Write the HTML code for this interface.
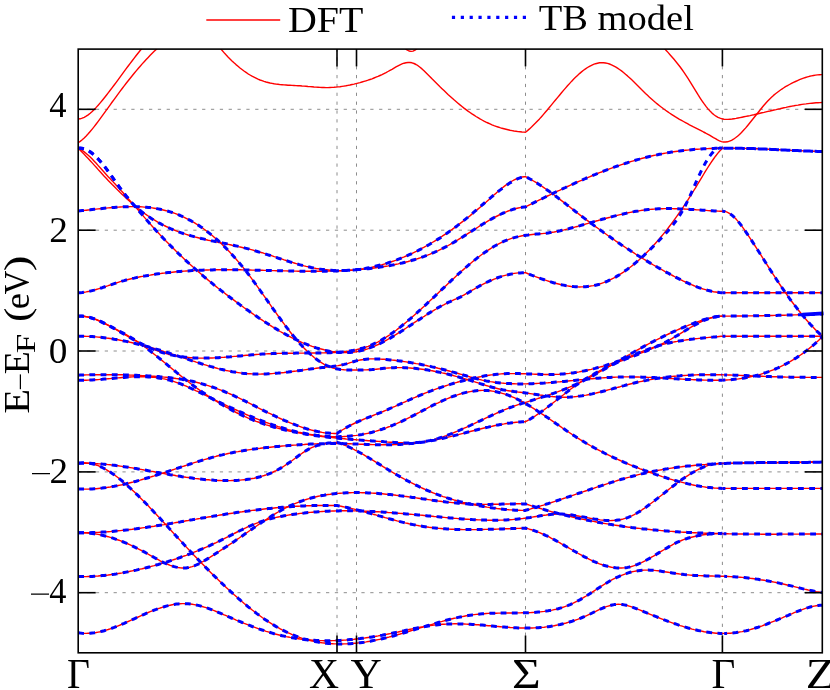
<!DOCTYPE html><html><head><meta charset="utf-8"><title>Band structure</title>
<style>html,body{margin:0;padding:0;background:#fff}svg{display:block;will-change:transform}text{font-family:"Liberation Serif",serif;fill:#000}</style></head><body>
<svg width="830" height="690" viewBox="0 0 830 690">
<rect width="830" height="690" fill="#fff"/>
<defs><clipPath id="cp"><rect x="76.6" y="49.1" width="747.5" height="603.7"/></clipPath>
</defs>
<g stroke="#808080" stroke-width="0.9" stroke-dasharray="3.25 5.6" fill="none">
<path d="M78.2 109.3 H822.3"/>
<path d="M78.2 230.2 H822.3"/>
<path d="M78.2 351.0 H822.3"/>
<path d="M78.2 471.9 H822.3"/>
<path d="M78.2 592.7 H822.3"/>
<path d="M337.0 652.8 V49.1" stroke-dashoffset="0.7"/>
<path d="M356.5 652.8 V49.1" stroke-dashoffset="0.7"/>
<path d="M525.5 652.8 V49.1" stroke-dashoffset="0.7"/>
<path d="M722.4 652.8 V49.1" stroke-dashoffset="0.7"/>
</g>
<g clip-path="url(#cp)" fill="none" stroke-linejoin="round">
<g stroke="#ff0000" stroke-width="1.4"><path d="M78.2 211 80.2 210.8 82.2 210.6 84.2 210.4 86.2 210.2 88.2 210 90.2 209.8 92.2 209.5 94.2 209.3 96.2 209.1 98.2 208.9 100.2 208.7 102.2 208.5 104.2 208.3 106.2 208.1 108.2 207.9 110.2 207.7 112.2 207.5 114.2 207.4 116.2 207.2 118.2 207.1 120.2 207 122.2 206.9 124.2 206.8 126.2 206.7 128.2 206.7 130.2 206.6 132.2 206.6 134.2 206.6 136.2 206.7 138.2 206.7 140.2 206.8 142.2 206.9 144.2 207.1 146.2 207.2 148.2 207.4 150.2 207.6 152.2 207.9 154.2 208.2 156.2 208.5 158.2 208.9 160.2 209.3 162.2 209.7 164.2 210.2 166.2 210.7 168.2 211.3 170.2 211.9 172.2 212.5 174.2 213.2 176.2 213.9 178.2 214.7 180.2 215.5 182.2 216.4 184.2 217.3 186.2 218.3 188.2 219.3 190.2 220.3 192.2 221.5 194.2 222.6 196.2 223.9 198.2 225.1 200.2 226.5 202.2 227.8 204.2 229.3 206.2 230.7 208.2 232.3 210.2 233.9 212.2 235.5 214.2 237.2 216.2 238.9 218.2 240.7 220.2 242.6 222.2 244.5 224.2 246.4 226.2 248.4 228.2 250.5 230.2 252.6 232.2 254.8 234.2 257 236.2 259.3 238.2 261.6 240.2 264 242.2 266.4 244.2 268.9 246.2 271.4 248.2 274 250.2 276.7 252.2 279.4 254.2 282.1 256.2 284.9 258.2 287.7 260.2 290.5 262.2 293.4 264.2 296.2 266.2 299 268.2 301.9 270.2 304.7 272.2 307.6 274.2 310.4 276.2 313.2 278.2 316 280.2 318.7 282.2 321.5 284.2 324.1 286.2 326.8 288.2 329.4 290.2 332 292.2 334.5 294.2 336.9 296.2 339.3 298.2 341.6 300.2 343.9 302.2 346.1 304.2 348.2 306.2 350.2 308.2 352.2 310.2 354 312.2 355.8 314.2 357.5 316.2 359.1 318.2 360.5 320.2 361.9 322.2 363.2 324.2 364.3 326.2 365.3 328.2 366.2 330.2 367 332.2 367.7 334.2 368.2 336.2 368.7 338.2 369.1 340.2 369.4 342.2 369.6 344.2 369.8 346.2 369.9 348.2 370 350.2 370 352.2 370 354.2 370 356.2 370 358.2 370 360.2 370 362.2 370 364.2 369.9 366.2 369.9 368.2 369.8 370.2 369.7 372.2 369.6 374.2 369.4 376.2 369.2 378.2 369 380.2 368.8 382.2 368.5 384.2 368.3 386.2 368.1 388.2 368 390.2 367.9 392.2 367.8 394.2 367.7 396.2 367.6 398.2 367.6 400.2 367.6 402.2 367.6 404.2 367.7 406.2 367.8 408.2 367.9 410.2 368 412.2 368.2 414.2 368.3 416.2 368.5 418.2 368.8 420.2 369 422.2 369.2 424.2 369.5 426.2 369.8 428.2 370.1 430.2 370.5 432.2 370.8 434.2 371.2 436.2 371.6 438.2 372 440.2 372.4 442.2 372.9 444.2 373.3 446.2 373.8 448.2 374.3 450.2 374.8 452.2 375.3 454.2 375.8 456.2 376.4 458.2 376.9 460.2 377.5 462.2 378 464.2 378.6 466.2 379.2 468.2 379.8 470.2 380.4 472.2 381 474.2 381.7 476.2 382.3 478.2 382.9 480.2 383.6 482.2 384.2 484.2 384.8 486.2 385.5 488.2 386.1 490.2 386.7 492.2 387.3 494.2 387.8 496.2 388.3 498.2 388.8 500.2 389.3 502.2 389.7 504.2 390.1 506.2 390.4 508.2 390.7 510.2 391 512.2 391.3 514.2 391.6 516.2 391.8 518.2 392.1 520.2 392.3 522.2 392.5 524.2 392.8 526.2 393.1 528.2 393.3 530.2 393.6 532.2 393.9 534.2 394.2 536.2 394.5 538.2 394.8 540.2 395.1 542.2 395.3 544.2 395.6 546.2 395.9 548.2 396.1 550.2 396.4 552.2 396.6 554.2 396.7 556.2 396.9 558.2 397 560.2 397.1 562.2 397.2 564.2 397.2 566.2 397.2 568.2 397.2 570.2 397.1 572.2 396.9 574.2 396.8 576.2 396.6 578.2 396.3 580.2 396.1 582.2 395.8 584.2 395.4 586.2 395.1 588.2 394.7 590.2 394.3 592.2 393.9 594.2 393.4 596.2 393 598.2 392.5 600.2 392 602.2 391.5 604.2 391 606.2 390.5 608.2 389.9 610.2 389.4 612.2 388.9 614.2 388.3 616.2 387.8 618.2 387.2 620.2 386.7 622.2 386.1 624.2 385.6 626.2 385 628.2 384.5 630.2 384 632.2 383.5 634.2 383 636.2 382.5 638.2 382 640.2 381.6 642.2 381.2 644.2 380.7 646.2 380.4 648.2 380 650.2 379.6 652.2 379.2 654.2 378.9 656.2 378.6 658.2 378.3 660.2 378 662.2 377.7 664.2 377.4 666.2 377.2 668.2 376.9 670.2 376.7 672.2 376.5 674.2 376.3 676.2 376.1 678.2 375.9 680.2 375.8 682.2 375.6 684.2 375.5 686.2 375.4 688.2 375.3 690.2 375.2 692.2 375.1 694.2 375 696.2 374.9 698.2 374.8 700.2 374.8 702.2 374.8 704.2 374.7 706.2 374.7 708.2 374.7 710.2 374.7 712.2 374.7 714.2 374.7 716.2 374.7 718.2 374.8 720.2 374.8 722.2 374.8 724.2 374.9 726.2 374.9 728.2 375 730.2 375 732.2 375.1 734.2 375.2 736.2 375.2 738.2 375.3 740.2 375.4 742.2 375.5 744.2 375.6 746.2 375.6 748.2 375.7 750.2 375.8 752.2 375.9 754.2 376 756.2 376.1 758.2 376.2 760.2 376.2 762.2 376.3 764.2 376.4 766.2 376.5 768.2 376.6 770.2 376.6 772.2 376.7 774.2 376.8 776.2 376.8 778.2 376.9 780.2 376.9 782.2 377 784.2 377 786.2 377.1 788.2 377.1 790.2 377.2 792.2 377.2 794.2 377.2 796.2 377.3 798.2 377.3 800.2 377.3 802.2 377.3 804.2 377.3 806.2 377.4 808.2 377.4 810.2 377.4 812.2 377.4 814.2 377.4 816.2 377.4 818.2 377.4 820.2 377.4 822.2 377.4 822.3 377.4"/><path d="M78.2 292.8 80.2 292.7 82.2 292.5 84.2 292.2 86.2 291.9 88.2 291.5 90.2 291.1 92.2 290.6 94.2 290.1 96.2 289.5 98.2 288.9 100.2 288.3 102.2 287.7 104.2 287 106.2 286.3 108.2 285.7 110.2 285 112.2 284.3 114.2 283.6 116.2 283 118.2 282.3 120.2 281.7 122.2 281.1 124.2 280.6 126.2 280 128.2 279.5 130.2 279 132.2 278.5 134.2 278.1 136.2 277.6 138.2 277.2 140.2 276.8 142.2 276.4 144.2 276.1 146.2 275.7 148.2 275.4 150.2 275.1 152.2 274.7 154.2 274.4 156.2 274.1 158.2 273.8 160.2 273.6 162.2 273.3 164.2 273.1 166.2 272.8 168.2 272.6 170.2 272.4 172.2 272.2 174.2 272 176.2 271.8 178.2 271.6 180.2 271.4 182.2 271.3 184.2 271.1 186.2 271 188.2 270.9 190.2 270.7 192.2 270.6 194.2 270.5 196.2 270.4 198.2 270.3 200.2 270.2 202.2 270.2 204.2 270.1 206.2 270 208.2 270 210.2 269.9 212.2 269.9 214.2 269.8 216.2 269.8 218.2 269.8 220.2 269.8 222.2 269.7 224.2 269.7 226.2 269.7 228.2 269.7 230.2 269.7 232.2 269.8 234.2 269.8 236.2 269.8 238.2 269.8 240.2 269.8 242.2 269.9 244.2 269.9 246.2 269.9 248.2 270 250.2 270 252.2 270.1 254.2 270.1 256.2 270.2 258.2 270.2 260.2 270.3 262.2 270.3 264.2 270.4 266.2 270.4 268.2 270.5 270.2 270.5 272.2 270.6 274.2 270.6 276.2 270.7 278.2 270.7 280.2 270.8 282.2 270.8 284.2 270.9 286.2 270.9 288.2 271 290.2 271 292.2 271 294.2 271.1 296.2 271.1 298.2 271.2 300.2 271.2 302.2 271.2 304.2 271.2 306.2 271.2 308.2 271.3 310.2 271.3 312.2 271.3 314.2 271.3 316.2 271.3 318.2 271.3 320.2 271.2 322.2 271.2 324.2 271.2 326.2 271.2 328.2 271.1 330.2 271.1 332.2 271 334.2 271 336.2 270.9 338.2 270.8 340.2 270.7 342.2 270.7 344.2 270.6 346.2 270.4 348.2 270.3 350.2 270.2 352.2 270.1 354.2 269.9 356.2 269.8 358.2 269.6 360.2 269.4 362.2 269.3 364.2 269.1 366.2 268.9 368.2 268.7 370.2 268.4 372.2 268.2 374.2 268 376.2 267.7 378.2 267.4 380.2 267.1 382.2 266.8 384.2 266.5 386.2 266.2 388.2 265.9 390.2 265.5 392.2 265.1 394.2 264.7 396.2 264.3 398.2 263.9 400.2 263.4 402.2 263 404.2 262.5 406.2 262 408.2 261.5 410.2 260.9 412.2 260.3 414.2 259.7 416.2 259.1 418.2 258.5 420.2 257.8 422.2 257.1 424.2 256.4 426.2 255.6 428.2 254.9 430.2 254.1 432.2 253.2 434.2 252.4 436.2 251.5 438.2 250.6 440.2 249.6 442.2 248.6 444.2 247.6 446.2 246.6 448.2 245.5 450.2 244.4 452.2 243.2 454.2 242.1 456.2 240.9 458.2 239.7 460.2 238.4 462.2 237.2 464.2 235.9 466.2 234.7 468.2 233.4 470.2 232.1 472.2 230.8 474.2 229.5 476.2 228.3 478.2 227 480.2 225.7 482.2 224.5 484.2 223.3 486.2 222.1 488.2 220.9 490.2 219.7 492.2 218.6 494.2 217.5 496.2 216.5 498.2 215.5 500.2 214.5 502.2 213.5 504.2 212.7 506.2 211.8 508.2 211 510.2 210.3 512.2 209.6 514.2 209 516.2 208.5 518.2 208 520.2 207.6 522.2 207.3 524.2 207 525.5 206.9 527.5 205.9 529.5 204.9 531.5 203.9 533.5 202.9 535.5 201.9 537.5 200.9 539.5 199.9 541.5 199 543.5 198 545.5 197 547.5 196 549.5 195.1 551.5 194.1 553.5 193.1 555.5 192.2 557.5 191.2 559.5 190.3 561.5 189.3 563.5 188.4 565.5 187.5 567.5 186.5 569.5 185.6 571.5 184.7 573.5 183.8 575.5 182.9 577.5 182 579.5 181.1 581.5 180.3 583.5 179.4 585.5 178.5 587.5 177.7 589.5 176.8 591.5 176 593.5 175.2 595.5 174.4 597.5 173.5 599.5 172.7 601.5 172 603.5 171.2 605.5 170.4 607.5 169.6 609.5 168.9 611.5 168.2 613.5 167.4 615.5 166.7 617.5 166 619.5 165.3 621.5 164.6 623.5 164 625.5 163.3 627.5 162.7 629.5 162 631.5 161.4 633.5 160.8 635.5 160.2 637.5 159.6 639.5 159.1 641.5 158.5 643.5 158 645.5 157.5 647.5 157 649.5 156.5 651.5 156 653.5 155.5 655.5 155.1 657.5 154.7 659.5 154.2 661.5 153.9 663.5 153.5 665.5 153.1 667.5 152.8 669.5 152.4 671.5 152.1 673.5 151.8 675.5 151.5 677.5 151.2 679.5 151 681.5 150.7 683.5 150.5 685.5 150.3 687.5 150.1 689.5 149.9 691.5 149.7 693.5 149.5 695.5 149.3 697.5 149.2 699.5 149.1 701.5 148.9 703.5 148.8 705.5 148.7 707.5 148.6 709.5 148.5 711.5 148.5 713.5 148.4 715.5 148.3 717.5 148.3 719.5 148.2 721.5 148.2 723.5 148.2 725.5 148.2 727.5 148.2 729.5 148.2 731.5 148.2 733.5 148.2 735.5 148.2 737.5 148.2 739.5 148.3 741.5 148.3 743.5 148.4 745.5 148.4 747.5 148.5 749.5 148.5 751.5 148.6 753.5 148.6 755.5 148.7 757.5 148.8 759.5 148.9 761.5 149 763.5 149 765.5 149.1 767.5 149.2 769.5 149.3 771.5 149.4 773.5 149.5 775.5 149.6 777.5 149.7 779.5 149.8 781.5 149.9 783.5 150 785.5 150.1 787.5 150.2 789.5 150.3 791.5 150.4 793.5 150.5 795.5 150.5 797.5 150.6 799.5 150.7 801.5 150.8 803.5 150.9 805.5 151 807.5 151 809.5 151.1 811.5 151.2 813.5 151.3 815.5 151.3 817.5 151.4 819.5 151.4 821.5 151.5 822.3 151.5"/><path d="M78.2 316.3 80.2 316.1 82.2 316.1 84.2 316.3 86.2 316.6 88.2 317 90.2 317.5 92.2 318.1 94.2 318.9 96.2 319.6 98.2 320.5 100.2 321.4 102.2 322.4 104.2 323.4 106.2 324.4 108.2 325.4 110.2 326.4 112.2 327.4 114.2 328.4 116.2 329.4 118.2 330.4 120.2 331.5 122.2 332.5 124.2 333.6 126.2 334.7 128.2 335.9 130.2 337.1 132.2 338.3 134.2 339.6 136.2 340.9 138.2 342.2 140.2 343.6 142.2 345 144.2 346.5 146.2 348 148.2 349.5 150.2 351 152.2 352.6 154.2 354.2 156.2 355.8 158.2 357.4 160.2 359 162.2 360.6 164.2 362.3 166.2 363.9 168.2 365.6 170.2 367.2 172.2 368.9 174.2 370.5 176.2 372.2 178.2 373.8 180.2 375.4 182.2 377 184.2 378.6 186.2 380.2 188.2 381.7 190.2 383.2 192.2 384.7 194.2 386.2 196.2 387.7 198.2 389.1 200.2 390.5 202.2 392 204.2 393.3 206.2 394.7 208.2 396 210.2 397.4 212.2 398.7 214.2 399.9 216.2 401.2 218.2 402.4 220.2 403.6 222.2 404.8 224.2 406 226.2 407.1 228.2 408.2 230.2 409.3 232.2 410.4 234.2 411.5 236.2 412.5 238.2 413.5 240.2 414.4 242.2 415.4 244.2 416.3 246.2 417.2 248.2 418.1 250.2 418.9 252.2 419.7 254.2 420.5 256.2 421.3 258.2 422 260.2 422.7 262.2 423.4 264.2 424.1 266.2 424.8 268.2 425.4 270.2 426 272.2 426.6 274.2 427.2 276.2 427.7 278.2 428.3 280.2 428.8 282.2 429.3 284.2 429.8 286.2 430.3 288.2 430.7 290.2 431.2 292.2 431.6 294.2 432 296.2 432.4 298.2 432.8 300.2 433.1 302.2 433.5 304.2 433.8 306.2 434.2 308.2 434.5 310.2 434.8 312.2 435.1 314.2 435.4 316.2 435.7 318.2 435.9 320.2 436.2 322.2 436.5 324.2 436.7 326.2 436.9 328.2 437.2 330.2 437.4 332.2 437.6 334.2 437.8 336.2 438 338.2 438.2 340.2 438.4 342.2 438.6 344.2 438.8 346.2 439 348.2 439.1 350.2 439.3 352.2 439.5 354.2 439.6 356.2 439.8 358.2 439.9 360.2 440.1 362.2 440.2 364.2 440.4 366.2 440.5 368.2 440.7 370.2 440.8 372.2 440.9 374.2 441.1 376.2 441.2 378.2 441.4 380.2 441.5 382.2 441.6 384.2 441.8 386.2 441.9 388.2 442.1 390.2 442.2 392.2 442.3 394.2 442.5 396.2 442.6 398.2 442.7 400.2 442.8 402.2 442.8 404.2 442.9 406.2 442.9 408.2 442.9 410.2 442.9 412.2 442.8 414.2 442.7 416.2 442.6 418.2 442.4 420.2 442.2 422.2 442 424.2 441.7 426.2 441.3 428.2 440.9 430.2 440.5 432.2 440 434.2 439.5 436.2 438.9 438.2 438.4 440.2 437.7 442.2 437.1 444.2 436.4 446.2 435.7 448.2 434.9 450.2 434.2 452.2 433.4 454.2 432.5 456.2 431.7 458.2 430.9 460.2 430 462.2 429.1 464.2 428.2 466.2 427.3 468.2 426.4 470.2 425.5 472.2 424.5 474.2 423.6 476.2 422.6 478.2 421.7 480.2 420.8 482.2 419.8 484.2 418.9 486.2 417.9 488.2 417 490.2 416.1 492.2 415.2 494.2 414.3 496.2 413.4 498.2 412.5 500.2 411.6 502.2 410.8 504.2 409.9 506.2 409.1 508.2 408.3 510.2 407.5 512.2 406.8 514.2 406 516.2 405.3 518.2 404.6 520.2 404 522.2 403.4 524.2 402.8 525.5 402.4 527.5 401.8 529.5 401.2 531.5 400.5 533.5 399.9 535.5 399.3 537.5 398.7 539.5 398 541.5 397.4 543.5 396.7 545.5 396.1 547.5 395.4 549.5 394.7 551.5 394 553.5 393.3 555.5 392.6 557.5 391.9 559.5 391.1 561.5 390.4 563.5 389.6 565.5 388.8 567.5 388 569.5 387.2 571.5 386.3 573.5 385.4 575.5 384.5 577.5 383.6 579.5 382.7 581.5 381.7 583.5 380.7 585.5 379.7 587.5 378.6 589.5 377.6 591.5 376.5 593.5 375.4 595.5 374.3 597.5 373.2 599.5 372 601.5 370.9 603.5 369.7 605.5 368.6 607.5 367.4 609.5 366.2 611.5 365.1 613.5 363.9 615.5 362.7 617.5 361.5 619.5 360.3 621.5 359.1 623.5 358 625.5 356.8 627.5 355.6 629.5 354.5 631.5 353.3 633.5 352.2 635.5 351 637.5 349.9 639.5 348.8 641.5 347.7 643.5 346.6 645.5 345.5 647.5 344.5 649.5 343.4 651.5 342.4 653.5 341.4 655.5 340.3 657.5 339.3 659.5 338.3 661.5 337.4 663.5 336.4 665.5 335.4 667.5 334.5 669.5 333.5 671.5 332.6 673.5 331.7 675.5 330.8 677.5 329.9 679.5 329 681.5 328.2 683.5 327.3 685.5 326.5 687.5 325.7 689.5 324.8 691.5 324.1 693.5 323.3 695.5 322.5 697.5 321.8 699.5 321.1 701.5 320.4 703.5 319.8 705.5 319.2 707.5 318.7 709.5 318.1 711.5 317.7 713.5 317.3 715.5 316.9 717.5 316.6 719.5 316.4 721.5 316.2 722.5 316.1 724.5 316.1 726.5 316.1 728.5 316.1 730.5 316.1 732.5 316.1 734.5 316.1 736.5 316 738.5 316 740.5 316 742.5 316 744.5 316 746.5 315.9 748.5 315.9 750.5 315.9 752.5 315.9 754.5 315.8 756.5 315.8 758.5 315.8 760.5 315.7 762.5 315.7 764.5 315.6 766.5 315.6 768.5 315.6 770.5 315.5 772.5 315.5 774.5 315.4 776.5 315.4 778.5 315.3 780.5 315.3 782.5 315.2 784.5 315.2 786.5 315.1 788.5 315.1 790.5 315 792.5 315 794.5 314.9 796.5 314.9 798.5 314.8 800.5 314.8 802.5 314.7 804.5 314.6 806.5 314.6 808.5 314.5 810.5 314.5 812.5 314.4 814.5 314.3 816.5 314.3 818.5 314.2 820.5 314.2 822.3 314.1"/><path d="M78.2 316.3 80.2 316.2 82.2 316.3 84.2 316.5 86.2 316.7 88.2 317.1 90.2 317.6 92.2 318.2 94.2 318.8 96.2 319.5 98.2 320.3 100.2 321.2 102.2 322.1 104.2 323.1 106.2 324.1 108.2 325.2 110.2 326.3 112.2 327.4 114.2 328.5 116.2 329.7 118.2 330.8 120.2 332 122.2 333.2 124.2 334.3 126.2 335.5 128.2 336.6 130.2 337.8 132.2 338.9 134.2 340 136.2 341.1 138.2 342.1 140.2 343.2 142.2 344.2 144.2 345.2 146.2 346.1 148.2 347 150.2 347.9 152.2 348.8 154.2 349.6 156.2 350.4 158.2 351.1 160.2 351.8 162.2 352.5 164.2 353.1 166.2 353.6 168.2 354.2 170.2 354.7 172.2 355.1 174.2 355.5 176.2 355.9 178.2 356.3 180.2 356.6 182.2 356.8 184.2 357.1 186.2 357.3 188.2 357.5 190.2 357.7 192.2 357.8 194.2 357.9 196.2 358 198.2 358.1 200.2 358.1 202.2 358.1 204.2 358.1 206.2 358.1 208.2 358.1 210.2 358 212.2 358 214.2 357.9 216.2 357.8 218.2 357.7 220.2 357.5 222.2 357.4 224.2 357.3 226.2 357.1 228.2 356.9 230.2 356.8 232.2 356.6 234.2 356.4 236.2 356.3 238.2 356.1 240.2 355.9 242.2 355.7 244.2 355.5 246.2 355.3 248.2 355.2 250.2 355 252.2 354.8 254.2 354.7 256.2 354.5 258.2 354.4 260.2 354.2 262.2 354.1 264.2 354 266.2 353.9 268.2 353.8 270.2 353.7 272.2 353.6 274.2 353.6 276.2 353.5 278.2 353.4 280.2 353.4 282.2 353.3 284.2 353.3 286.2 353.3 288.2 353.2 290.2 353.2 292.2 353.2 294.2 353.2 296.2 353.1 298.2 353.1 300.2 353.1 302.2 353.1 304.2 353.1 306.2 353.1 308.2 353.1 310.2 353 312.2 353 314.2 353 316.2 353 318.2 352.9 320.2 352.9 322.2 352.9 324.2 352.9 326.2 352.8 328.2 352.8 330.2 352.7 332.2 352.6 334.2 352.5 336.2 352.4 338.2 352.3 340.2 352.1 342.2 351.9 344.2 351.7 346.2 351.5 348.2 351.2 350.2 350.9 352.2 350.6 354.2 350.2 356.2 349.8 358.2 349.3 360.2 348.8 362.2 348.3 364.2 347.6 366.2 347 368.2 346.3 370.2 345.5 372.2 344.6 374.2 343.7 376.2 342.8 378.2 341.8 380.2 340.7 382.2 339.5 384.2 338.3 386.2 337.1 388.2 335.8 390.2 334.5 392.2 333.1 394.2 331.6 396.2 330.2 398.2 328.6 400.2 327.1 402.2 325.5 404.2 323.9 406.2 322.2 408.2 320.5 410.2 318.8 412.2 317.1 414.2 315.3 416.2 313.5 418.2 311.7 420.2 309.9 422.2 308 424.2 306.2 426.2 304.3 428.2 302.4 430.2 300.6 432.2 298.7 434.2 296.8 436.2 294.9 438.2 293 440.2 291.1 442.2 289.2 444.2 287.3 446.2 285.4 448.2 283.5 450.2 281.6 452.2 279.7 454.2 277.9 456.2 276.1 458.2 274.2 460.2 272.4 462.2 270.6 464.2 268.9 466.2 267.1 468.2 265.4 470.2 263.7 472.2 262 474.2 260.4 476.2 258.8 478.2 257.2 480.2 255.7 482.2 254.2 484.2 252.8 486.2 251.4 488.2 250.1 490.2 248.8 492.2 247.5 494.2 246.3 496.2 245.2 498.2 244.1 500.2 243.1 502.2 242.1 504.2 241.2 506.2 240.4 508.2 239.6 510.2 238.8 512.2 238.2 514.2 237.6 516.2 237.1 518.2 236.6 520.2 236.2 522.2 235.8 524.2 235.5 526.2 235.2 528.2 235 530.2 234.7 532.2 234.5 534.2 234.3 536.2 234.1 538.2 234 540.2 233.8 542.2 233.6 544.2 233.4 546.2 233.2 548.2 232.9 550.2 232.6 552.2 232.3 554.2 232 556.2 231.6 558.2 231.2 560.2 230.8 562.2 230.3 564.2 229.9 566.2 229.4 568.2 228.9 570.2 228.3 572.2 227.8 574.2 227.3 576.2 226.7 578.2 226.2 580.2 225.6 582.2 225 584.2 224.5 586.2 223.9 588.2 223.3 590.2 222.7 592.2 222.2 594.2 221.6 596.2 221 598.2 220.5 600.2 219.9 602.2 219.3 604.2 218.8 606.2 218.2 608.2 217.7 610.2 217.2 612.2 216.6 614.2 216.1 616.2 215.6 618.2 215.1 620.2 214.6 622.2 214.2 624.2 213.7 626.2 213.3 628.2 212.8 630.2 212.4 632.2 212 634.2 211.6 636.2 211.3 638.2 211 640.2 210.6 642.2 210.3 644.2 210.1 646.2 209.8 648.2 209.6 650.2 209.4 652.2 209.2 654.2 209.1 656.2 208.9 658.2 208.8 660.2 208.7 662.2 208.7 664.2 208.6 666.2 208.6 668.2 208.6 670.2 208.6 672.2 208.6 674.2 208.7 676.2 208.7 678.2 208.8 680.2 208.9 682.2 208.9 684.2 209 686.2 209.1 688.2 209.3 690.2 209.4 692.2 209.5 694.2 209.6 696.2 209.8 698.2 209.9 700.2 210 702.2 210.2 704.2 210.3 706.2 210.4 708.2 210.6 710.2 210.7 712.2 210.8 714.2 210.9 716.2 211 718.2 211.1 720.2 211.2 722.2 211.3 722.5 211.3 724.5 211.4 726.5 211.9 728.5 212.8 730.5 214.1 732.5 215.6 734.5 217.5 736.5 219.6 738.5 221.9 740.5 224.4 742.5 227.1 744.5 229.9 746.5 232.8 748.5 235.8 750.5 238.8 752.5 241.9 754.5 245 756.5 248.1 758.5 251.2 760.5 254.4 762.5 257.6 764.5 260.7 766.5 263.9 768.5 267 770.5 270.2 772.5 273.3 774.5 276.4 776.5 279.5 778.5 282.5 780.5 285.5 782.5 288.4 784.5 291.3 786.5 294.2 788.5 297 790.5 299.8 792.5 302.5 794.5 305.1 796.5 307.7 798.5 310.3 800.5 312.8 802.5 315.3 804.5 317.6 806.5 320 808.5 322.3 810.5 324.5 812.5 326.6 814.5 328.7 816.5 330.8 818.5 332.7 820.5 334.6 822.3 336.3"/><path d="M78.2 336.3 80.2 336.3 82.2 336.3 84.2 336.3 86.2 336.4 88.2 336.4 90.2 336.5 92.2 336.6 94.2 336.8 96.2 336.9 98.2 337.1 100.2 337.3 102.2 337.5 104.2 337.7 106.2 338 108.2 338.2 110.2 338.5 112.2 338.8 114.2 339.2 116.2 339.5 118.2 339.8 120.2 340.2 122.2 340.6 124.2 341 126.2 341.4 128.2 341.8 130.2 342.3 132.2 342.7 134.2 343.2 136.2 343.7 138.2 344.2 140.2 344.7 142.2 345.2 144.2 345.7 146.2 346.3 148.2 346.8 150.2 347.4 152.2 347.9 154.2 348.5 156.2 349.1 158.2 349.7 160.2 350.3 162.2 350.9 164.2 351.6 166.2 352.2 168.2 352.8 170.2 353.5 172.2 354.1 174.2 354.8 176.2 355.4 178.2 356.1 180.2 356.8 182.2 357.4 184.2 358.1 186.2 358.8 188.2 359.4 190.2 360.1 192.2 360.8 194.2 361.4 196.2 362.1 198.2 362.7 200.2 363.3 202.2 364 204.2 364.6 206.2 365.2 208.2 365.8 210.2 366.4 212.2 366.9 214.2 367.5 216.2 368 218.2 368.6 220.2 369.1 222.2 369.5 224.2 370 226.2 370.5 228.2 370.9 230.2 371.3 232.2 371.7 234.2 372 236.2 372.3 238.2 372.6 240.2 372.9 242.2 373.2 244.2 373.4 246.2 373.6 248.2 373.7 250.2 373.8 252.2 373.9 254.2 374 256.2 374 258.2 374.1 260.2 374.1 262.2 374 264.2 374 266.2 373.9 268.2 373.8 270.2 373.7 272.2 373.6 274.2 373.4 276.2 373.2 278.2 373.1 280.2 372.9 282.2 372.7 284.2 372.5 286.2 372.2 288.2 372 290.2 371.7 292.2 371.5 294.2 371.2 296.2 371 298.2 370.7 300.2 370.4 302.2 370.2 304.2 369.9 306.2 369.6 308.2 369.3 310.2 369.1 312.2 368.8 314.2 368.6 316.2 368.3 318.2 368 320.2 367.8 322.2 367.6 324.2 367.4 326.2 367.1 328.2 366.9 330.2 366.7 332.2 366.5 334.2 366.2 336.2 365.9 338.2 365.6 340.2 365.2 342.2 364.8 344.2 364.4 346.2 363.9 348.2 363.3 350.2 362.7 352.2 362.1 354.2 361.5 356.2 360.9 358.2 360.4 360.2 360 362.2 359.7 364.2 359.4 366.2 359.2 368.2 359 370.2 358.9 372.2 358.9 374.2 358.9 376.2 358.9 378.2 359 380.2 359.1 382.2 359.2 384.2 359.3 386.2 359.5 388.2 359.7 390.2 359.9 392.2 360.1 394.2 360.3 396.2 360.5 398.2 360.8 400.2 361 402.2 361.3 404.2 361.6 406.2 361.9 408.2 362.2 410.2 362.5 412.2 362.9 414.2 363.2 416.2 363.6 418.2 363.9 420.2 364.3 422.2 364.7 424.2 365.1 426.2 365.5 428.2 366 430.2 366.4 432.2 366.9 434.2 367.3 436.2 367.8 438.2 368.3 440.2 368.7 442.2 369.2 444.2 369.7 446.2 370.3 448.2 370.8 450.2 371.3 452.2 371.9 454.2 372.4 456.2 373 458.2 373.5 460.2 374.1 462.2 374.7 464.2 375.3 466.2 375.8 468.2 376.4 470.2 377 472.2 377.5 474.2 378.1 476.2 378.6 478.2 379.1 480.2 379.6 482.2 380.1 484.2 380.5 486.2 380.9 488.2 381.2 490.2 381.6 492.2 381.9 494.2 382.2 496.2 382.5 498.2 382.7 500.2 382.9 502.2 383.1 504.2 383.3 506.2 383.4 508.2 383.5 510.2 383.6 512.2 383.7 514.2 383.8 516.2 383.9 518.2 383.9 520.2 383.9 522.2 383.9 524.2 383.9 526.2 383.9 528.2 383.8 530.2 383.8 532.2 383.7 534.2 383.6 536.2 383.5 538.2 383.4 540.2 383.3 542.2 383.2 544.2 383.1 546.2 382.9 548.2 382.8 550.2 382.6 552.2 382.5 554.2 382.3 556.2 382.1 558.2 381.9 560.2 381.8 562.2 381.6 564.2 381.4 566.2 381.2 568.2 381 570.2 380.8 572.2 380.6 574.2 380.4 576.2 380.2 578.2 380 580.2 379.8 582.2 379.6 584.2 379.4 586.2 379.2 588.2 379 590.2 378.8 592.2 378.7 594.2 378.5 596.2 378.3 598.2 378.2 600.2 378 602.2 377.9 604.2 377.7 606.2 377.6 608.2 377.5 610.2 377.4 612.2 377.3 614.2 377.2 616.2 377.1 618.2 377.1 620.2 377 622.2 377 624.2 376.9 626.2 376.9 628.2 376.9 630.2 376.9 632.2 376.9 634.2 377 636.2 377 638.2 377 640.2 377.1 642.2 377.2 644.2 377.2 646.2 377.3 648.2 377.4 650.2 377.4 652.2 377.5 654.2 377.6 656.2 377.7 658.2 377.8 660.2 377.9 662.2 378 664.2 378.1 666.2 378.3 668.2 378.4 670.2 378.5 672.2 378.6 674.2 378.7 676.2 378.8 678.2 378.9 680.2 379 682.2 379.1 684.2 379.2 686.2 379.4 688.2 379.5 690.2 379.5 692.2 379.6 694.2 379.7 696.2 379.8 698.2 379.9 700.2 380 702.2 380 704.2 380.1 706.2 380.1 708.2 380.2 710.2 380.2 712.2 380.2 714.2 380.2 716.2 380.2 718.2 380.2 720.2 380.2 722.2 380.2 722.5 380.2 724.5 380.1 726.5 380 728.5 379.9 730.5 379.7 732.5 379.5 734.5 379.3 736.5 379.1 738.5 378.9 740.5 378.6 742.5 378.3 744.5 378 746.5 377.6 748.5 377.2 750.5 376.8 752.5 376.4 754.5 375.9 756.5 375.4 758.5 374.9 760.5 374.3 762.5 373.7 764.5 373 766.5 372.4 768.5 371.7 770.5 370.9 772.5 370.1 774.5 369.3 776.5 368.5 778.5 367.6 780.5 366.6 782.5 365.7 784.5 364.6 786.5 363.6 788.5 362.5 790.5 361.3 792.5 360.2 794.5 358.9 796.5 357.7 798.5 356.3 800.5 355 802.5 353.6 804.5 352.1 806.5 350.6 808.5 349 810.5 347.4 812.5 345.8 814.5 344.1 816.5 342.3 818.5 340.5 820.5 338.6 822.3 336.9"/><path d="M78.2 375.2 80.2 375.1 82.2 375.1 84.2 375 86.2 374.9 88.2 374.9 90.2 374.8 92.2 374.8 94.2 374.8 96.2 374.7 98.2 374.7 100.2 374.7 102.2 374.7 104.2 374.7 106.2 374.7 108.2 374.7 110.2 374.7 112.2 374.7 114.2 374.7 116.2 374.7 118.2 374.8 120.2 374.8 122.2 374.8 124.2 374.9 126.2 374.9 128.2 375 130.2 375.1 132.2 375.1 134.2 375.2 136.2 375.3 138.2 375.4 140.2 375.5 142.2 375.6 144.2 375.7 146.2 375.8 148.2 375.9 150.2 376 152.2 376.2 154.2 376.3 156.2 376.5 158.2 376.6 160.2 376.8 162.2 376.9 164.2 377.1 166.2 377.3 168.2 377.5 170.2 377.7 172.2 378 174.2 378.2 176.2 378.5 178.2 378.7 180.2 379 182.2 379.4 184.2 379.7 186.2 380.1 188.2 380.5 190.2 380.9 192.2 381.3 194.2 381.8 196.2 382.3 198.2 382.8 200.2 383.3 202.2 383.9 204.2 384.5 206.2 385.1 208.2 385.7 210.2 386.3 212.2 387 214.2 387.7 216.2 388.4 218.2 389.2 220.2 389.9 222.2 390.7 224.2 391.5 226.2 392.3 228.2 393.2 230.2 394 232.2 394.9 234.2 395.8 236.2 396.8 238.2 397.7 240.2 398.7 242.2 399.7 244.2 400.6 246.2 401.6 248.2 402.7 250.2 403.7 252.2 404.7 254.2 405.7 256.2 406.7 258.2 407.8 260.2 408.8 262.2 409.8 264.2 410.8 266.2 411.8 268.2 412.8 270.2 413.7 272.2 414.7 274.2 415.7 276.2 416.6 278.2 417.6 280.2 418.5 282.2 419.4 284.2 420.3 286.2 421.1 288.2 422 290.2 422.8 292.2 423.6 294.2 424.4 296.2 425.2 298.2 425.9 300.2 426.6 302.2 427.3 304.2 428 306.2 428.6 308.2 429.2 310.2 429.7 312.2 430.3 314.2 430.8 316.2 431.2 318.2 431.6 320.2 432 322.2 432.4 324.2 432.7 326.2 432.9 328.2 433.1 330.2 433.3 332.2 433.4 334.2 433.5 336.2 433.5 337.1 433.5 339.1 432.1 341.1 430.7 343.1 429.5 345.1 428.3 347.1 427.1 349.1 426 351.1 425 353.1 424 355.1 423 357.1 422.1 359.1 421.2 361.1 420.3 363.1 419.5 365.1 418.7 367.1 417.9 369.1 417.1 371.1 416.3 373.1 415.5 375.1 414.7 377.1 413.9 379.1 413.1 381.1 412.3 383.1 411.5 385.1 410.6 387.1 409.8 389.1 408.9 391.1 408 393.1 407.1 395.1 406.3 397.1 405.4 399.1 404.5 401.1 403.6 403.1 402.7 405.1 401.8 407.1 400.9 409.1 400 411.1 399.1 413.1 398.2 415.1 397.4 417.1 396.5 419.1 395.7 421.1 394.8 423.1 394 425.1 393.2 427.1 392.4 429.1 391.6 431.1 390.9 433.1 390.1 435.1 389.4 437.1 388.7 439.1 388 441.1 387.3 443.1 386.6 445.1 386 447.1 385.3 449.1 384.7 451.1 384.1 453.1 383.5 455.1 382.9 457.1 382.3 459.1 381.8 461.1 381.2 463.1 380.7 465.1 380.2 467.1 379.7 469.1 379.2 471.1 378.7 473.1 378.2 475.1 377.8 477.1 377.4 479.1 377 481.1 376.6 483.1 376.2 485.1 375.8 487.1 375.5 489.1 375.2 491.1 374.9 493.1 374.7 495.1 374.4 497.1 374.2 499.1 374.1 501.1 373.9 503.1 373.8 505.1 373.7 507.1 373.6 509.1 373.6 511.1 373.6 513.1 373.6 515.1 373.6 517.1 373.6 519.1 373.6 521.1 373.7 523.1 373.7 525.1 373.8 527.1 373.9 529.1 374 531.1 374 533.1 374.1 535.1 374.2 537.1 374.3 539.1 374.3 541.1 374.4 543.1 374.4 545.1 374.5 547.1 374.5 549.1 374.5 551.1 374.5 553.1 374.5 555.1 374.4 557.1 374.4 559.1 374.3 561.1 374.1 563.1 374 565.1 373.8 567.1 373.6 569.1 373.4 571.1 373.1 573.1 372.9 575.1 372.6 577.1 372.2 579.1 371.9 581.1 371.5 583.1 371.1 585.1 370.7 587.1 370.3 589.1 369.8 591.1 369.4 593.1 368.9 595.1 368.4 597.1 367.8 599.1 367.3 601.1 366.7 603.1 366.2 605.1 365.6 607.1 364.9 609.1 364.3 611.1 363.7 613.1 363 615.1 362.3 617.1 361.5 619.1 360.8 621.1 360 623.1 359.3 625.1 358.5 627.1 357.6 629.1 356.8 631.1 356 633.1 355.2 635.1 354.4 637.1 353.5 639.1 352.7 641.1 351.9 643.1 351.1 645.1 350.3 647.1 349.6 649.1 348.8 651.1 348.1 653.1 347.4 655.1 346.8 657.1 346.1 659.1 345.5 661.1 345 663.1 344.4 665.1 343.9 667.1 343.4 669.1 343 671.1 342.5 673.1 342.1 675.1 341.7 677.1 341.4 679.1 341 681.1 340.7 683.1 340.4 685.1 340.1 687.1 339.8 689.1 339.6 691.1 339.3 693.1 339.1 695.1 338.8 697.1 338.6 699.1 338.4 701.1 338.2 703.1 338 705.1 337.8 707.1 337.6 709.1 337.4 711.1 337.2 713.1 337.1 715.1 336.9 717.1 336.7 719.1 336.5 721.1 336.3 722.5 336.2 822.3 336.3"/><path d="M78.2 380.2 80.2 380.2 82.2 380.2 84.2 380.2 86.2 380.2 88.2 380.1 90.2 380 92.2 379.9 94.2 379.8 96.2 379.7 98.2 379.6 100.2 379.4 102.2 379.3 104.2 379.1 106.2 378.9 108.2 378.7 110.2 378.6 112.2 378.4 114.2 378.2 116.2 378 118.2 377.9 120.2 377.7 122.2 377.5 124.2 377.4 126.2 377.2 128.2 377.1 130.2 377 132.2 376.9 134.2 376.8 136.2 376.8 138.2 376.7 140.2 376.7 142.2 376.7 144.2 376.8 146.2 376.8 148.2 376.9 150.2 377 152.2 377.2 154.2 377.4 156.2 377.6 158.2 377.9 160.2 378.2 162.2 378.6 164.2 378.9 166.2 379.4 168.2 379.9 170.2 380.4 172.2 381 174.2 381.6 176.2 382.3 178.2 383 180.2 383.7 182.2 384.5 184.2 385.3 186.2 386.2 188.2 387.1 190.2 388 192.2 388.9 194.2 389.8 196.2 390.8 198.2 391.7 200.2 392.7 202.2 393.7 204.2 394.7 206.2 395.7 208.2 396.7 210.2 397.7 212.2 398.6 214.2 399.6 216.2 400.6 218.2 401.6 220.2 402.5 222.2 403.5 224.2 404.5 226.2 405.4 228.2 406.3 230.2 407.3 232.2 408.2 234.2 409.1 236.2 410 238.2 410.9 240.2 411.8 242.2 412.7 244.2 413.6 246.2 414.5 248.2 415.3 250.2 416.2 252.2 417 254.2 417.8 256.2 418.6 258.2 419.4 260.2 420.2 262.2 421 264.2 421.7 266.2 422.5 268.2 423.2 270.2 423.9 272.2 424.6 274.2 425.3 276.2 425.9 278.2 426.6 280.2 427.2 282.2 427.8 284.2 428.4 286.2 429 288.2 429.6 290.2 430.1 292.2 430.6 294.2 431.1 296.2 431.6 298.2 432.1 300.2 432.5 302.2 432.9 304.2 433.3 306.2 433.7 308.2 434.1 310.2 434.4 312.2 434.7 314.2 435 316.2 435.3 318.2 435.5 320.2 435.8 322.2 436 324.2 436.1 326.2 436.3 328.2 436.4 330.2 436.5 332.2 436.6 334.2 436.6 336.2 436.7 338.2 436.7 340.2 436.6 342.2 436.6 344.2 436.5 346.2 436.4 348.2 436.2 350.2 436 352.2 435.8 354.2 435.6 356.2 435.4 358.2 435.1 360.2 434.7 362.2 434.4 364.2 434 366.2 433.6 368.2 433.2 370.2 432.7 372.2 432.2 374.2 431.6 376.2 431.1 378.2 430.5 380.2 429.8 382.2 429.2 384.2 428.5 386.2 427.8 388.2 427 390.2 426.3 392.2 425.5 394.2 424.6 396.2 423.8 398.2 422.9 400.2 422 402.2 421.1 404.2 420.1 406.2 419.1 408.2 418.1 410.2 417.1 412.2 416.1 414.2 415.1 416.2 414 418.2 413 420.2 411.9 422.2 410.9 424.2 409.8 426.2 408.8 428.2 407.7 430.2 406.7 432.2 405.7 434.2 404.7 436.2 403.7 438.2 402.8 440.2 401.8 442.2 400.9 444.2 400 446.2 399.1 448.2 398.3 450.2 397.5 452.2 396.7 454.2 396 456.2 395.3 458.2 394.6 460.2 394 462.2 393.4 464.2 392.9 466.2 392.4 468.2 392 470.2 391.6 472.2 391.2 474.2 391 476.2 390.7 478.2 390.6 480.2 390.5 482.2 390.4 484.2 390.4 486.2 390.5 488.2 390.6 490.2 390.8 492.2 391.1 494.2 391.4 496.2 391.8 498.2 392.2 500.2 392.7 502.2 393.3 504.2 393.9 506.2 394.5 508.2 395.2 510.2 396 512.2 396.8 514.2 397.7 516.2 398.7 518.2 399.6 520.2 400.6 522.2 401.7 524.2 402.8 526.2 403.9 528.2 405.1 530.2 406.3 532.2 407.6 534.2 408.8 536.2 410.1 538.2 411.4 540.2 412.7 542.2 414.1 544.2 415.4 546.2 416.8 548.2 418.1 550.2 419.5 552.2 420.9 554.2 422.3 556.2 423.7 558.2 425 560.2 426.4 562.2 427.8 564.2 429.1 566.2 430.5 568.2 431.8 570.2 433.2 572.2 434.5 574.2 435.8 576.2 437.1 578.2 438.3 580.2 439.6 582.2 440.8 584.2 442 586.2 443.2 588.2 444.3 590.2 445.5 592.2 446.6 594.2 447.7 596.2 448.8 598.2 449.8 600.2 450.9 602.2 451.9 604.2 453 606.2 454 608.2 454.9 610.2 455.9 612.2 456.9 614.2 457.8 616.2 458.7 618.2 459.6 620.2 460.5 622.2 461.4 624.2 462.3 626.2 463.1 628.2 464 630.2 464.8 632.2 465.6 634.2 466.4 636.2 467.2 638.2 468 640.2 468.8 642.2 469.5 644.2 470.3 646.2 471 648.2 471.7 650.2 472.5 652.2 473.2 654.2 473.9 656.2 474.6 658.2 475.2 660.2 475.9 662.2 476.6 664.2 477.2 666.2 477.8 668.2 478.5 670.2 479.1 672.2 479.7 674.2 480.3 676.2 480.8 678.2 481.4 680.2 481.9 682.2 482.4 684.2 482.9 686.2 483.4 688.2 483.9 690.2 484.3 692.2 484.8 694.2 485.2 696.2 485.6 698.2 485.9 700.2 486.3 702.2 486.6 704.2 486.9 706.2 487.2 708.2 487.4 710.2 487.6 712.2 487.8 714.2 488 716.2 488.1 718.2 488.3 720.2 488.3 722.2 488.4 722.5 488.4 822.3 488.4"/><path d="M78.2 463.3 80.2 463.3 82.2 463.2 84.2 463.2 86.2 463.3 88.2 463.3 90.2 463.3 92.2 463.4 94.2 463.5 96.2 463.6 98.2 463.8 100.2 463.9 102.2 464.1 104.2 464.2 106.2 464.4 108.2 464.6 110.2 464.8 112.2 465.1 114.2 465.3 116.2 465.6 118.2 465.8 120.2 466.1 122.2 466.4 124.2 466.7 126.2 467 128.2 467.3 130.2 467.6 132.2 467.9 134.2 468.3 136.2 468.6 138.2 468.9 140.2 469.3 142.2 469.6 144.2 470 146.2 470.3 148.2 470.7 150.2 471.1 152.2 471.4 154.2 471.8 156.2 472.2 158.2 472.5 160.2 472.9 162.2 473.2 164.2 473.6 166.2 474 168.2 474.3 170.2 474.7 172.2 475 174.2 475.3 176.2 475.7 178.2 476 180.2 476.3 182.2 476.7 184.2 477 186.2 477.3 188.2 477.5 190.2 477.8 192.2 478.1 194.2 478.4 196.2 478.6 198.2 478.8 200.2 479.1 202.2 479.3 204.2 479.5 206.2 479.7 208.2 479.8 210.2 480 212.2 480.1 214.2 480.3 216.2 480.4 218.2 480.5 220.2 480.5 222.2 480.6 224.2 480.6 226.2 480.6 228.2 480.6 230.2 480.6 232.2 480.5 234.2 480.5 236.2 480.4 238.2 480.3 240.2 480.1 242.2 479.9 244.2 479.7 246.2 479.5 248.2 479.2 250.2 478.9 252.2 478.5 254.2 478.2 256.2 477.7 258.2 477.2 260.2 476.7 262.2 476.1 264.2 475.5 266.2 474.8 268.2 474.1 270.2 473.3 272.2 472.5 274.2 471.5 276.2 470.6 278.2 469.5 280.2 468.4 282.2 467.3 284.2 466 286.2 464.7 288.2 463.3 290.2 461.9 292.2 460.5 294.2 459 296.2 457.5 298.2 456 300.2 454.6 302.2 453.2 304.2 451.9 306.2 450.6 308.2 449.4 310.2 448.4 312.2 447.4 314.2 446.6 316.2 445.9 318.2 445.2 320.2 444.7 322.2 444.2 324.2 443.8 326.2 443.4 328.2 443.1 330.2 442.9 332.2 442.7 334.2 442.5 336.2 442.4 337.1 442.3 339.1 443 341.1 443.7 343.1 444.5 345.1 445.3 347.1 446.2 349.1 447.1 351.1 448 353.1 449 355.1 450.1 357.1 451.1 359.1 452.2 361.1 453.3 363.1 454.4 365.1 455.6 367.1 456.8 369.1 458 371.1 459.2 373.1 460.4 375.1 461.6 377.1 462.9 379.1 464.1 381.1 465.3 383.1 466.6 385.1 467.8 387.1 469 389.1 470.3 391.1 471.5 393.1 472.7 395.1 473.8 397.1 475 399.1 476.1 401.1 477.3 403.1 478.4 405.1 479.5 407.1 480.6 409.1 481.6 411.1 482.7 413.1 483.7 415.1 484.7 417.1 485.7 419.1 486.7 421.1 487.6 423.1 488.5 425.1 489.4 427.1 490.3 429.1 491.2 431.1 492 433.1 492.8 435.1 493.6 437.1 494.4 439.1 495.1 441.1 495.9 443.1 496.6 445.1 497.2 447.1 497.9 449.1 498.5 451.1 499.1 453.1 499.7 455.1 500.3 457.1 500.8 459.1 501.4 461.1 501.9 463.1 502.4 465.1 502.8 467.1 503.3 469.1 503.7 471.1 504.2 473.1 504.6 475.1 505 477.1 505.3 479.1 505.7 481.1 506.1 483.1 506.4 485.1 506.7 487.1 507.1 489.1 507.4 491.1 507.7 493.1 508 495.1 508.2 497.1 508.5 499.1 508.7 501.1 509 503.1 509.2 505.1 509.4 507.1 509.6 509.1 509.8 511.1 509.9 513.1 510 515.1 510.2 517.1 510.3 519.1 510.3 521.1 510.4 523.1 510.4 525.1 510.4 525.5 510.4 527.5 509.8 529.5 509.3 531.5 508.7 533.5 508.1 535.5 507.5 537.5 506.9 539.5 506.3 541.5 505.7 543.5 505.1 545.5 504.4 547.5 503.8 549.5 503.1 551.5 502.5 553.5 501.8 555.5 501.2 557.5 500.5 559.5 499.8 561.5 499.2 563.5 498.5 565.5 497.8 567.5 497.1 569.5 496.5 571.5 495.8 573.5 495.1 575.5 494.4 577.5 493.7 579.5 493 581.5 492.4 583.5 491.7 585.5 491 587.5 490.3 589.5 489.6 591.5 488.9 593.5 488.3 595.5 487.6 597.5 486.9 599.5 486.3 601.5 485.6 603.5 485 605.5 484.3 607.5 483.7 609.5 483 611.5 482.4 613.5 481.8 615.5 481.2 617.5 480.5 619.5 479.9 621.5 479.3 623.5 478.8 625.5 478.2 627.5 477.6 629.5 477.1 631.5 476.5 633.5 476 635.5 475.5 637.5 474.9 639.5 474.4 641.5 473.9 643.5 473.5 645.5 473 647.5 472.6 649.5 472.1 651.5 471.7 653.5 471.3 655.5 470.9 657.5 470.5 659.5 470.1 661.5 469.8 663.5 469.4 665.5 469.1 667.5 468.8 669.5 468.4 671.5 468.1 673.5 467.8 675.5 467.6 677.5 467.3 679.5 467 681.5 466.8 683.5 466.5 685.5 466.3 687.5 466.1 689.5 465.9 691.5 465.7 693.5 465.5 695.5 465.3 697.5 465.1 699.5 464.9 701.5 464.8 703.5 464.6 705.5 464.5 707.5 464.3 709.5 464.2 711.5 464.1 713.5 463.9 715.5 463.8 717.5 463.7 719.5 463.6 721.5 463.5 723.5 463.4 725.5 463.4 727.5 463.3 729.5 463.2 731.5 463.1 733.5 463.1 735.5 463 737.5 463 739.5 462.9 741.5 462.9 743.5 462.8 745.5 462.8 747.5 462.8 749.5 462.7 751.5 462.7 753.5 462.7 755.5 462.7 757.5 462.6 759.5 462.6 761.5 462.6 763.5 462.6 765.5 462.6 767.5 462.6 769.5 462.6 771.5 462.6 773.5 462.6 775.5 462.6 777.5 462.5 779.5 462.5 781.5 462.5 783.5 462.5 785.5 462.5 787.5 462.5 789.5 462.5 791.5 462.5 793.5 462.5 795.5 462.5 797.5 462.5 799.5 462.5 801.5 462.4 803.5 462.4 805.5 462.4 807.5 462.4 809.5 462.3 811.5 462.3 813.5 462.3 815.5 462.3 817.5 462.2 819.5 462.2 821.5 462.1 822.3 462.1"/><path d="M78.2 463.3 80.2 463 82.2 462.8 84.2 462.8 86.2 462.9 88.2 463.1 90.2 463.4 92.2 463.8 94.2 464.3 96.2 465 98.2 465.7 100.2 466.6 102.2 467.5 104.2 468.5 106.2 469.6 108.2 470.8 110.2 472.1 112.2 473.4 114.2 474.8 116.2 476.3 118.2 477.8 120.2 479.4 122.2 481 124.2 482.7 126.2 484.5 128.2 486.3 130.2 488.1 132.2 489.9 134.2 491.8 136.2 493.8 138.2 495.7 140.2 497.7 142.2 499.7 144.2 501.7 146.2 503.8 148.2 505.8 150.2 507.9 152.2 510 154.2 512.2 156.2 514.3 158.2 516.4 160.2 518.6 162.2 520.8 164.2 522.9 166.2 525.1 168.2 527.3 170.2 529.5 172.2 531.7 174.2 533.9 176.2 536.1 178.2 538.2 180.2 540.4 182.2 542.6 184.2 544.8 186.2 546.9 188.2 549.1 190.2 551.2 192.2 553.3 194.2 555.4 196.2 557.5 198.2 559.6 200.2 561.7 202.2 563.8 204.2 565.8 206.2 567.9 208.2 569.9 210.2 571.9 212.2 573.9 214.2 575.9 216.2 577.8 218.2 579.8 220.2 581.7 222.2 583.6 224.2 585.5 226.2 587.4 228.2 589.3 230.2 591.1 232.2 592.9 234.2 594.8 236.2 596.5 238.2 598.3 240.2 600 242.2 601.8 244.2 603.5 246.2 605.1 248.2 606.8 250.2 608.4 252.2 610 254.2 611.5 256.2 613.1 258.2 614.6 260.2 616 262.2 617.5 264.2 618.9 266.2 620.2 268.2 621.6 270.2 622.9 272.2 624.2 274.2 625.4 276.2 626.6 278.2 627.7 280.2 628.8 282.2 629.9 284.2 630.9 286.2 631.9 288.2 632.8 290.2 633.7 292.2 634.6 294.2 635.4 296.2 636.2 298.2 636.9 300.2 637.6 302.2 638.3 304.2 638.9 306.2 639.4 308.2 640 310.2 640.5 312.2 641 314.2 641.4 316.2 641.8 318.2 642.1 320.2 642.5 322.2 642.8 324.2 643 326.2 643.3 328.2 643.4 330.2 643.6 332.2 643.7 334.2 643.9 336.2 643.9 338.2 644 340.2 644 342.2 644 344.2 643.9 346.2 643.9 348.2 643.8 350.2 643.7 352.2 643.5 354.2 643.3 356.2 643.2 358.2 642.9 360.2 642.7 362.2 642.4 364.2 642.2 366.2 641.9 368.2 641.5 370.2 641.2 372.2 640.8 374.2 640.4 376.2 640 378.2 639.6 380.2 639.2 382.2 638.7 384.2 638.2 386.2 637.8 388.2 637.3 390.2 636.7 392.2 636.2 394.2 635.7 396.2 635.1 398.2 634.5 400.2 634 402.2 633.4 404.2 632.8 406.2 632.2 408.2 631.6 410.2 631 412.2 630.4 414.2 629.8 416.2 629.1 418.2 628.5 420.2 627.9 422.2 627.3 424.2 626.7 426.2 626.1 428.2 625.5 430.2 624.9 432.2 624.3 434.2 623.7 436.2 623.1 438.2 622.5 440.2 621.9 442.2 621.4 444.2 620.8 446.2 620.3 448.2 619.8 450.2 619.3 452.2 618.8 454.2 618.3 456.2 617.9 458.2 617.4 460.2 617 462.2 616.6 464.2 616.2 466.2 615.8 468.2 615.5 470.2 615.2 472.2 614.9 474.2 614.6 476.2 614.4 478.2 614.2 480.2 614 482.2 613.8 484.2 613.7 486.2 613.5 488.2 613.4 490.2 613.3 492.2 613.3 494.2 613.2 496.2 613.2 498.2 613.1 500.2 613.1 502.2 613.1 504.2 613 506.2 613 508.2 613 510.2 613 512.2 613 514.2 613 516.2 612.9 518.2 612.9 520.2 612.9 522.2 612.8 524.2 612.8 526.2 612.7 528.2 612.7 530.2 612.6 532.2 612.5 534.2 612.4 536.2 612.2 538.2 612 540.2 611.9 542.2 611.6 544.2 611.4 546.2 611.1 548.2 610.8 550.2 610.4 552.2 610.1 554.2 609.6 556.2 609.2 558.2 608.7 560.2 608.1 562.2 607.5 564.2 606.8 566.2 606.1 568.2 605.4 570.2 604.6 572.2 603.7 574.2 602.7 576.2 601.7 578.2 600.7 580.2 599.6 582.2 598.4 584.2 597.2 586.2 596 588.2 594.7 590.2 593.4 592.2 592.1 594.2 590.8 596.2 589.5 598.2 588.2 600.2 586.9 602.2 585.6 604.2 584.4 606.2 583.2 608.2 582 610.2 580.8 612.2 579.7 614.2 578.7 616.2 577.7 618.2 576.8 620.2 575.9 622.2 575.1 624.2 574.3 626.2 573.6 628.2 572.9 630.2 572.3 632.2 571.8 634.2 571.4 636.2 571 638.2 570.7 640.2 570.4 642.2 570.2 644.2 570.1 646.2 570.1 648.2 570.1 650.2 570.2 652.2 570.3 654.2 570.4 656.2 570.6 658.2 570.8 660.2 571.1 662.2 571.4 664.2 571.7 666.2 572 668.2 572.3 670.2 572.6 672.2 572.9 674.2 573.2 676.2 573.5 678.2 573.8 680.2 574.1 682.2 574.3 684.2 574.6 686.2 574.8 688.2 574.9 690.2 575.1 692.2 575.2 694.2 575.4 696.2 575.5 698.2 575.6 700.2 575.6 702.2 575.7 704.2 575.8 706.2 575.9 708.2 575.9 710.2 576 712.2 576 714.2 576.1 716.2 576.1 718.2 576.1 720.2 576.2 722.2 576.3 724.2 576.3 726.2 576.4 728.2 576.5 730.2 576.6 732.2 576.7 734.2 576.8 736.2 576.9 738.2 577.1 740.2 577.2 742.2 577.4 744.2 577.6 746.2 577.8 748.2 578 750.2 578.3 752.2 578.5 754.2 578.8 756.2 579.1 758.2 579.3 760.2 579.7 762.2 580 764.2 580.3 766.2 580.6 768.2 581 770.2 581.4 772.2 581.7 774.2 582.1 776.2 582.5 778.2 582.9 780.2 583.4 782.2 583.8 784.2 584.2 786.2 584.7 788.2 585.2 790.2 585.6 792.2 586.1 794.2 586.6 796.2 587.1 798.2 587.6 800.2 588.1 802.2 588.6 804.2 589.1 806.2 589.5 808.2 590 810.2 590.4 812.2 590.8 814.2 591.2 816.2 591.6 818.2 591.9 820.2 592.2 822.2 592.4 822.3 592.4"/><path d="M78.2 488.9 80.2 489 82.2 489.1 84.2 489.1 86.2 489.1 88.2 489.1 90.2 489 92.2 488.9 94.2 488.8 96.2 488.7 98.2 488.5 100.2 488.3 102.2 488.1 104.2 487.8 106.2 487.6 108.2 487.3 110.2 487 112.2 486.6 114.2 486.3 116.2 485.9 118.2 485.5 120.2 485.1 122.2 484.7 124.2 484.2 126.2 483.8 128.2 483.3 130.2 482.8 132.2 482.3 134.2 481.7 136.2 481.2 138.2 480.6 140.2 480.1 142.2 479.5 144.2 478.9 146.2 478.3 148.2 477.7 150.2 477.1 152.2 476.5 154.2 475.9 156.2 475.2 158.2 474.6 160.2 473.9 162.2 473.3 164.2 472.6 166.2 472 168.2 471.3 170.2 470.6 172.2 470 174.2 469.3 176.2 468.6 178.2 468 180.2 467.3 182.2 466.6 184.2 466 186.2 465.3 188.2 464.7 190.2 464 192.2 463.4 194.2 462.7 196.2 462.1 198.2 461.5 200.2 460.9 202.2 460.3 204.2 459.7 206.2 459.1 208.2 458.5 210.2 458 212.2 457.4 214.2 456.9 216.2 456.3 218.2 455.8 220.2 455.3 222.2 454.9 224.2 454.4 226.2 454 228.2 453.5 230.2 453.1 232.2 452.7 234.2 452.3 236.2 451.9 238.2 451.6 240.2 451.2 242.2 450.9 244.2 450.5 246.2 450.2 248.2 449.9 250.2 449.6 252.2 449.3 254.2 449 256.2 448.8 258.2 448.5 260.2 448.3 262.2 448 264.2 447.8 266.2 447.6 268.2 447.4 270.2 447.2 272.2 447 274.2 446.8 276.2 446.6 278.2 446.4 280.2 446.2 282.2 446 284.2 445.9 286.2 445.7 288.2 445.5 290.2 445.4 292.2 445.2 294.2 445.1 296.2 445 298.2 444.8 300.2 444.7 302.2 444.6 304.2 444.5 306.2 444.3 308.2 444.2 310.2 444.1 312.2 444 314.2 444 316.2 443.9 318.2 443.8 320.2 443.8 322.2 443.7 324.2 443.7 326.2 443.6 328.2 443.6 330.2 443.6 332.2 443.6 334.2 443.6 336.2 443.6 338.2 443.6 340.2 443.6 342.2 443.6 344.2 443.7 346.2 443.7 348.2 443.8 350.2 443.8 352.2 443.9 354.2 444 356.2 444 358.2 444.1 360.2 444.2 362.2 444.2 364.2 444.3 366.2 444.4 368.2 444.4 370.2 444.5 372.2 444.6 374.2 444.6 376.2 444.7 378.2 444.7 380.2 444.7 382.2 444.7 384.2 444.7 386.2 444.7 388.2 444.7 390.2 444.7 392.2 444.7 394.2 444.6 396.2 444.6 398.2 444.5 400.2 444.4 402.2 444.3 404.2 444.1 406.2 444 408.2 443.8 410.2 443.6 412.2 443.4 414.2 443.2 416.2 443 418.2 442.7 420.2 442.5 422.2 442.2 424.2 441.9 426.2 441.6 428.2 441.3 430.2 440.9 432.2 440.5 434.2 440.2 436.2 439.8 438.2 439.4 440.2 438.9 442.2 438.5 444.2 438 446.2 437.6 448.2 437.1 450.2 436.6 452.2 436.1 454.2 435.6 456.2 435.1 458.2 434.6 460.2 434.1 462.2 433.6 464.2 433.1 466.2 432.5 468.2 432 470.2 431.5 472.2 431 474.2 430.5 476.2 430 478.2 429.5 480.2 429 482.2 428.5 484.2 428 486.2 427.5 488.2 427.1 490.2 426.6 492.2 426.2 494.2 425.7 496.2 425.3 498.2 424.9 500.2 424.6 502.2 424.2 504.2 423.9 506.2 423.5 508.2 423.2 510.2 423 512.2 422.7 514.2 422.5 516.2 422.3 518.2 422.1 520.2 422 522.2 421.8 524.2 421.7 525.5 421.7 527.5 420.6 529.5 419.5 531.5 418.3 533.5 417 535.5 415.8 537.5 414.4 539.5 413 541.5 411.6 543.5 410.2 545.5 408.7 547.5 407.2 549.5 405.6 551.5 404.1 553.5 402.5 555.5 401 557.5 399.4 559.5 397.8 561.5 396.2 563.5 394.7 565.5 393.1 567.5 391.6 569.5 390 571.5 388.5 573.5 387.1 575.5 385.6 577.5 384.2 579.5 382.8 581.5 381.5 583.5 380.2 585.5 378.9 587.5 377.7 589.5 376.5 591.5 375.3 593.5 374.2 595.5 373.1 597.5 372 599.5 370.9 601.5 369.9 603.5 368.9 605.5 368 607.5 367 609.5 366.1 611.5 365.2 613.5 364.3 615.5 363.4 617.5 362.5 619.5 361.7 621.5 360.9 623.5 360 625.5 359.2 627.5 358.4 629.5 357.6 631.5 356.9 633.5 356.1 635.5 355.3 637.5 354.5 639.5 353.7 641.5 352.9 643.5 352.1 645.5 351.3 647.5 350.5 649.5 349.7 651.5 348.8 653.5 347.9 655.5 347 657.5 346.1 659.5 345.2 661.5 344.2 663.5 343.2 665.5 342.2 667.5 341.1 669.5 340 671.5 338.9 673.5 337.7 675.5 336.5 677.5 335.4 679.5 334.2 681.5 332.9 683.5 331.7 685.5 330.5 687.5 329.3 689.5 328.1 691.5 326.9 693.5 325.8 695.5 324.7 697.5 323.6 699.5 322.5 701.5 321.5 703.5 320.6 705.5 319.8 707.5 319 709.5 318.3 711.5 317.6 713.5 317.1 715.5 316.7 717.5 316.4 719.5 316.2 721.5 316.1 722.5 316.1"/><path d="M78.2 532.8 80.2 532.8 82.2 532.8 84.2 532.8 86.2 532.8 88.2 532.7 90.2 532.7 92.2 532.6 94.2 532.5 96.2 532.5 98.2 532.4 100.2 532.2 102.2 532.1 104.2 532 106.2 531.9 108.2 531.7 110.2 531.6 112.2 531.4 114.2 531.2 116.2 531 118.2 530.8 120.2 530.6 122.2 530.4 124.2 530.2 126.2 530 128.2 529.8 130.2 529.5 132.2 529.3 134.2 529 136.2 528.8 138.2 528.5 140.2 528.2 142.2 527.9 144.2 527.6 146.2 527.4 148.2 527.1 150.2 526.8 152.2 526.5 154.2 526.2 156.2 525.8 158.2 525.5 160.2 525.2 162.2 524.9 164.2 524.6 166.2 524.2 168.2 523.9 170.2 523.6 172.2 523.2 174.2 522.9 176.2 522.5 178.2 522.2 180.2 521.9 182.2 521.5 184.2 521.2 186.2 520.8 188.2 520.5 190.2 520.1 192.2 519.8 194.2 519.4 196.2 519.1 198.2 518.7 200.2 518.4 202.2 518 204.2 517.7 206.2 517.4 208.2 517 210.2 516.7 212.2 516.4 214.2 516 216.2 515.7 218.2 515.4 220.2 515 222.2 514.7 224.2 514.4 226.2 514.1 228.2 513.8 230.2 513.5 232.2 513.2 234.2 512.9 236.2 512.6 238.2 512.3 240.2 512 242.2 511.8 244.2 511.5 246.2 511.2 248.2 511 250.2 510.7 252.2 510.4 254.2 510.2 256.2 510 258.2 509.7 260.2 509.5 262.2 509.3 264.2 509 266.2 508.8 268.2 508.6 270.2 508.4 272.2 508.2 274.2 508 276.2 507.8 278.2 507.6 280.2 507.5 282.2 507.3 284.2 507.1 286.2 507 288.2 506.8 290.2 506.7 292.2 506.6 294.2 506.4 296.2 506.3 298.2 506.2 300.2 506.1 302.2 506 304.2 505.9 306.2 505.8 308.2 505.8 310.2 505.7 312.2 505.6 314.2 505.6 316.2 505.5 318.2 505.5 320.2 505.5 322.2 505.5 324.2 505.5 326.2 505.5 328.2 505.5 330.2 505.5 332.2 505.5 334.2 505.5 336.2 505.6 337.1 505.6 339.1 505.9 341.1 506.3 343.1 506.7 345.1 507.1 347.1 507.5 349.1 508 351.1 508.4 353.1 508.9 355.1 509.4 357.1 509.9 359.1 510.4 361.1 510.9 363.1 511.4 365.1 512 367.1 512.5 369.1 513.1 371.1 513.6 373.1 514.2 375.1 514.7 377.1 515.3 379.1 515.9 381.1 516.4 383.1 517 385.1 517.6 387.1 518.1 389.1 518.7 391.1 519.2 393.1 519.8 395.1 520.3 397.1 520.9 399.1 521.4 401.1 521.9 403.1 522.4 405.1 522.9 407.1 523.3 409.1 523.8 411.1 524.2 413.1 524.6 415.1 525 417.1 525.4 419.1 525.8 421.1 526.1 423.1 526.4 425.1 526.7 427.1 527 429.1 527.3 431.1 527.5 433.1 527.8 435.1 528 437.1 528.2 439.1 528.4 441.1 528.5 443.1 528.7 445.1 528.8 447.1 529 449.1 529.1 451.1 529.2 453.1 529.3 455.1 529.4 457.1 529.4 459.1 529.5 461.1 529.5 463.1 529.6 465.1 529.6 467.1 529.6 469.1 529.6 471.1 529.6 473.1 529.6 475.1 529.6 477.1 529.6 479.1 529.6 481.1 529.5 483.1 529.5 485.1 529.4 487.1 529.4 489.1 529.3 491.1 529.3 493.1 529.2 495.1 529.2 497.1 529.1 499.1 529 501.1 529 503.1 528.9 505.1 528.8 507.1 528.8 509.1 528.7 511.1 528.6 513.1 528.6 515.1 528.5 517.1 528.4 519.1 528.4 521.1 528.3 523.1 528.3 525.1 528.2 525.5 528.2 527.5 528.6 529.5 529.2 531.5 529.7 533.5 530.4 535.5 531.1 537.5 531.8 539.5 532.6 541.5 533.5 543.5 534.3 545.5 535.3 547.5 536.2 549.5 537.2 551.5 538.3 553.5 539.3 555.5 540.4 557.5 541.5 559.5 542.6 561.5 543.8 563.5 544.9 565.5 546.1 567.5 547.2 569.5 548.4 571.5 549.5 573.5 550.7 575.5 551.8 577.5 553 579.5 554.1 581.5 555.2 583.5 556.3 585.5 557.3 587.5 558.4 589.5 559.4 591.5 560.3 593.5 561.3 595.5 562.1 597.5 563 599.5 563.8 601.5 564.5 603.5 565.2 605.5 565.8 607.5 566.3 609.5 566.8 611.5 567.2 613.5 567.5 615.5 567.8 617.5 567.9 619.5 568 621.5 568 623.5 567.9 625.5 567.7 627.5 567.4 629.5 567 631.5 566.5 633.5 565.9 635.5 565.2 637.5 564.4 639.5 563.5 641.5 562.6 643.5 561.6 645.5 560.6 647.5 559.5 649.5 558.4 651.5 557.2 653.5 556.1 655.5 554.9 657.5 553.6 659.5 552.4 661.5 551.2 663.5 550 665.5 548.8 667.5 547.6 669.5 546.4 671.5 545.3 673.5 544.2 675.5 543.2 677.5 542.2 679.5 541.3 681.5 540.5 683.5 539.7 685.5 539 687.5 538.3 689.5 537.7 691.5 537.2 693.5 536.7 695.5 536.2 697.5 535.8 699.5 535.4 701.5 535.1 703.5 534.8 705.5 534.6 707.5 534.3 709.5 534.1 711.5 534 713.5 533.8 715.5 533.6 717.5 533.5 719.5 533.4 721.5 533.3 722.5 533.2"/><path d="M78.2 532.8 80.2 532.8 82.2 532.8 84.2 532.8 86.2 532.9 88.2 533.1 90.2 533.3 92.2 533.5 94.2 533.8 96.2 534.1 98.2 534.4 100.2 534.8 102.2 535.2 104.2 535.7 106.2 536.2 108.2 536.7 110.2 537.3 112.2 537.9 114.2 538.6 116.2 539.3 118.2 540 120.2 540.7 122.2 541.5 124.2 542.3 126.2 543.1 128.2 544 130.2 544.9 132.2 545.8 134.2 546.8 136.2 547.8 138.2 548.8 140.2 549.8 142.2 550.9 144.2 551.9 146.2 553 148.2 554.2 150.2 555.3 152.2 556.4 154.2 557.5 156.2 558.6 158.2 559.7 160.2 560.8 162.2 561.8 164.2 562.8 166.2 563.7 168.2 564.5 170.2 565.3 172.2 566 174.2 566.6 176.2 567.1 178.2 567.5 180.2 567.8 182.2 568 184.2 568 186.2 567.9 188.2 567.6 190.2 567.2 192.2 566.6 194.2 565.9 196.2 565 198.2 564.1 200.2 563.1 202.2 562 204.2 560.8 206.2 559.6 208.2 558.4 210.2 557.2 212.2 555.9 214.2 554.6 216.2 553.3 218.2 552 220.2 550.7 222.2 549.4 224.2 548.1 226.2 546.8 228.2 545.4 230.2 544.1 232.2 542.8 234.2 541.4 236.2 540 238.2 538.7 240.2 537.3 242.2 535.9 244.2 534.5 246.2 533.1 248.2 531.7 250.2 530.3 252.2 528.9 254.2 527.6 256.2 526.2 258.2 524.8 260.2 523.5 262.2 522.1 264.2 520.8 266.2 519.5 268.2 518.2 270.2 516.9 272.2 515.6 274.2 514.4 276.2 513.2 278.2 512 280.2 510.9 282.2 509.8 284.2 508.7 286.2 507.7 288.2 506.7 290.2 505.7 292.2 504.8 294.2 503.9 296.2 503.1 298.2 502.3 300.2 501.5 302.2 500.8 304.2 500.1 306.2 499.5 308.2 498.9 310.2 498.3 312.2 497.8 314.2 497.3 316.2 496.8 318.2 496.3 320.2 495.9 322.2 495.5 324.2 495.2 326.2 494.8 328.2 494.5 330.2 494.3 332.2 494 334.2 493.8 336.2 493.6 338.2 493.4 340.2 493.2 342.2 493.1 344.2 492.9 346.2 492.8 348.2 492.8 350.2 492.7 352.2 492.6 354.2 492.6 356.2 492.6 358.2 492.6 360.2 492.6 362.2 492.7 364.2 492.7 366.2 492.8 368.2 492.9 370.2 493 372.2 493.1 374.2 493.2 376.2 493.3 378.2 493.5 380.2 493.7 382.2 493.8 384.2 494 386.2 494.2 388.2 494.4 390.2 494.6 392.2 494.8 394.2 495 396.2 495.3 398.2 495.5 400.2 495.8 402.2 496 404.2 496.3 406.2 496.5 408.2 496.8 410.2 497.1 412.2 497.4 414.2 497.6 416.2 497.9 418.2 498.2 420.2 498.5 422.2 498.8 424.2 499 426.2 499.3 428.2 499.6 430.2 499.9 432.2 500.2 434.2 500.4 436.2 500.7 438.2 501 440.2 501.2 442.2 501.5 444.2 501.7 446.2 502 448.2 502.2 450.2 502.4 452.2 502.6 454.2 502.8 456.2 503 458.2 503.2 460.2 503.4 462.2 503.6 464.2 503.7 466.2 503.8 468.2 504 470.2 504.1 472.2 504.2 474.2 504.2 476.2 504.3 478.2 504.3 480.2 504.4 482.2 504.4 484.2 504.4 486.2 504.4 488.2 504.4 490.2 504.4 492.2 504.3 494.2 504.3 496.2 504.2 498.2 504.2 500.2 504.2 502.2 504.1 504.2 504.1 506.2 504 508.2 504 510.2 503.9 512.2 503.9 514.2 503.9 516.2 503.8 518.2 503.8 520.2 503.8 522.2 503.9 524.2 503.9 525.5 503.9 527.5 504.5 529.5 505.2 531.5 505.8 533.5 506.4 535.5 507.1 537.5 507.7 539.5 508.3 541.5 508.8 543.5 509.4 545.5 510 547.5 510.6 549.5 511.1 551.5 511.7 553.5 512.2 555.5 512.7 557.5 513.3 559.5 513.8 561.5 514.3 563.5 514.8 565.5 515.3 567.5 515.8 569.5 516.3 571.5 516.7 573.5 517.2 575.5 517.7 577.5 518.1 579.5 518.5 581.5 519 583.5 519.4 585.5 519.8 587.5 520.2 589.5 520.6 591.5 521 593.5 521.4 595.5 521.8 597.5 522.2 599.5 522.5 601.5 522.9 603.5 523.3 605.5 523.6 607.5 523.9 609.5 524.3 611.5 524.6 613.5 524.9 615.5 525.2 617.5 525.5 619.5 525.8 621.5 526.1 623.5 526.4 625.5 526.7 627.5 527 629.5 527.2 631.5 527.5 633.5 527.7 635.5 528 637.5 528.2 639.5 528.4 641.5 528.7 643.5 528.9 645.5 529.1 647.5 529.3 649.5 529.5 651.5 529.7 653.5 529.9 655.5 530.1 657.5 530.3 659.5 530.4 661.5 530.6 663.5 530.8 665.5 530.9 667.5 531.1 669.5 531.3 671.5 531.4 673.5 531.5 675.5 531.7 677.5 531.8 679.5 531.9 681.5 532.1 683.5 532.2 685.5 532.3 687.5 532.4 689.5 532.5 691.5 532.6 693.5 532.7 695.5 532.8 697.5 532.9 699.5 533 701.5 533.1 703.5 533.1 705.5 533.2 707.5 533.3 709.5 533.3 711.5 533.4 713.5 533.5 715.5 533.5 717.5 533.6 719.5 533.6 721.5 533.7 723.5 533.7 725.5 533.8 727.5 533.8 729.5 533.9 731.5 533.9 733.5 533.9 735.5 534 737.5 534 739.5 534 741.5 534 743.5 534 745.5 534.1 747.5 534.1 749.5 534.1 751.5 534.1 753.5 534.1 755.5 534.1 757.5 534.1 759.5 534.1 761.5 534.2 763.5 534.2 765.5 534.2 767.5 534.2 769.5 534.2 771.5 534.2 773.5 534.2 775.5 534.2 777.5 534.2 779.5 534.1 781.5 534.1 783.5 534.1 785.5 534.1 787.5 534.1 789.5 534.1 791.5 534.1 793.5 534.1 795.5 534.1 797.5 534.1 799.5 534.1 801.5 534.1 803.5 534.1 805.5 534 807.5 534 809.5 534 811.5 534 813.5 534 815.5 534 817.5 534 819.5 534 821.5 534 822.3 534"/><path d="M78.2 576.6 80.2 576.6 82.2 576.6 84.2 576.6 86.2 576.6 88.2 576.5 90.2 576.5 92.2 576.4 94.2 576.2 96.2 576.1 98.2 576 100.2 575.8 102.2 575.6 104.2 575.4 106.2 575.2 108.2 575 110.2 574.7 112.2 574.4 114.2 574.2 116.2 573.9 118.2 573.5 120.2 573.2 122.2 572.9 124.2 572.5 126.2 572.1 128.2 571.7 130.2 571.3 132.2 570.9 134.2 570.5 136.2 570.1 138.2 569.6 140.2 569.1 142.2 568.7 144.2 568.2 146.2 567.7 148.2 567.2 150.2 566.7 152.2 566.1 154.2 565.6 156.2 565 158.2 564.5 160.2 563.9 162.2 563.3 164.2 562.7 166.2 562.1 168.2 561.5 170.2 560.8 172.2 560.2 174.2 559.5 176.2 558.8 178.2 558.2 180.2 557.5 182.2 556.7 184.2 556 186.2 555.3 188.2 554.5 190.2 553.8 192.2 553 194.2 552.2 196.2 551.4 198.2 550.6 200.2 549.7 202.2 548.9 204.2 548 206.2 547.2 208.2 546.3 210.2 545.4 212.2 544.4 214.2 543.5 216.2 542.6 218.2 541.6 220.2 540.6 222.2 539.6 224.2 538.6 226.2 537.6 228.2 536.6 230.2 535.6 232.2 534.6 234.2 533.5 236.2 532.5 238.2 531.5 240.2 530.5 242.2 529.6 244.2 528.6 246.2 527.7 248.2 526.7 250.2 525.9 252.2 525 254.2 524.2 256.2 523.4 258.2 522.6 260.2 521.9 262.2 521.3 264.2 520.6 266.2 520 268.2 519.4 270.2 518.9 272.2 518.4 274.2 517.9 276.2 517.4 278.2 517 280.2 516.6 282.2 516.2 284.2 515.8 286.2 515.5 288.2 515.1 290.2 514.8 292.2 514.5 294.2 514.2 296.2 513.9 298.2 513.7 300.2 513.4 302.2 513.2 304.2 513 306.2 512.7 308.2 512.5 310.2 512.4 312.2 512.2 314.2 512 316.2 511.9 318.2 511.7 320.2 511.6 322.2 511.5 324.2 511.4 326.2 511.3 328.2 511.2 330.2 511.1 332.2 511 334.2 511 336.2 510.9 338.2 510.9 340.2 510.8 342.2 510.8 344.2 510.8 346.2 510.8 348.2 510.8 350.2 510.8 352.2 510.8 354.2 510.9 356.2 510.9 358.2 511 360.2 511 362.2 511.1 364.2 511.1 366.2 511.2 368.2 511.3 370.2 511.4 372.2 511.5 374.2 511.6 376.2 511.7 378.2 511.8 380.2 511.9 382.2 512 384.2 512.2 386.2 512.3 388.2 512.5 390.2 512.6 392.2 512.7 394.2 512.9 396.2 513.1 398.2 513.2 400.2 513.4 402.2 513.5 404.2 513.7 406.2 513.9 408.2 514.1 410.2 514.2 412.2 514.4 414.2 514.6 416.2 514.8 418.2 515 420.2 515.1 422.2 515.3 424.2 515.5 426.2 515.7 428.2 515.9 430.2 516.1 432.2 516.3 434.2 516.5 436.2 516.6 438.2 516.8 440.2 517 442.2 517.2 444.2 517.4 446.2 517.6 448.2 517.7 450.2 517.9 452.2 518.1 454.2 518.3 456.2 518.4 458.2 518.6 460.2 518.7 462.2 518.9 464.2 519 466.2 519.2 468.2 519.3 470.2 519.4 472.2 519.6 474.2 519.7 476.2 519.8 478.2 519.9 480.2 519.9 482.2 520 484.2 520.1 486.2 520.1 488.2 520.2 490.2 520.2 492.2 520.2 494.2 520.2 496.2 520.2 498.2 520.2 500.2 520.1 502.2 520.1 504.2 520 506.2 519.9 508.2 519.8 510.2 519.7 512.2 519.6 514.2 519.4 516.2 519.2 518.2 519 520.2 518.8 522.2 518.6 524.2 518.3 526.2 518.1 528.2 517.8 530.2 517.5 532.2 517.1 534.2 516.8 536.2 516.5 538.2 516.2 540.2 515.8 542.2 515.5 544.2 515.2 546.2 515 548.2 514.7 550.2 514.5 552.2 514.3 554.2 514.2 556.2 514.1 558.2 514.1 560.2 514.1 562.2 514.1 564.2 514.2 566.2 514.4 568.2 514.6 570.2 514.8 572.2 515.1 574.2 515.4 576.2 515.7 578.2 516 580.2 516.4 582.2 516.8 584.2 517.1 586.2 517.5 588.2 517.9 590.2 518.3 592.2 518.6 594.2 519 596.2 519.3 598.2 519.6 600.2 519.9 602.2 520.1 604.2 520.3 606.2 520.4 608.2 520.5 610.2 520.6 612.2 520.5 614.2 520.4 616.2 520.3 618.2 520 620.2 519.7 622.2 519.3 624.2 518.7 626.2 518.1 628.2 517.4 630.2 516.5 632.2 515.6 634.2 514.6 636.2 513.5 638.2 512.3 640.2 511.1 642.2 509.7 644.2 508.4 646.2 507 648.2 505.5 650.2 504 652.2 502.5 654.2 501 656.2 499.4 658.2 497.8 660.2 496.3 662.2 494.7 664.2 493.1 666.2 491.5 668.2 489.9 670.2 488.3 672.2 486.8 674.2 485.3 676.2 483.7 678.2 482.2 680.2 480.8 682.2 479.3 684.2 477.9 686.2 476.6 688.2 475.3 690.2 474 692.2 472.8 694.2 471.7 696.2 470.6 698.2 469.5 700.2 468.6 702.2 467.7 704.2 466.8 706.2 466.1 708.2 465.4 710.2 464.8 712.2 464.4 714.2 464 716.2 463.7 718.2 463.5 720.2 463.4 722.2 463.4 722.5 463.4 724.5 463.4 726.5 463.4 728.5 463.4 730.5 463.4 732.5 463.4 734.5 463.4 736.5 463.3 738.5 463.3 740.5 463.3 742.5 463.3 744.5 463.3 746.5 463.2 748.5 463.2 750.5 463.2 752.5 463.1 754.5 463.1 756.5 463.1 758.5 463 760.5 463 762.5 463 764.5 462.9 766.5 462.9 768.5 462.9 770.5 462.8 772.5 462.8 774.5 462.7 776.5 462.7 778.5 462.6 780.5 462.6 782.5 462.6 784.5 462.5 786.5 462.5 788.5 462.4 790.5 462.4 792.5 462.3 794.5 462.3 796.5 462.2 798.5 462.2 800.5 462.1 802.5 462.1 804.5 462 806.5 462 808.5 461.9 810.5 461.9 812.5 461.8 814.5 461.8 816.5 461.7 818.5 461.7 820.5 461.6 822.3 461.6"/><path d="M78.2 632.8 80.2 633.1 82.2 633.3 84.2 633.4 86.2 633.4 88.2 633.3 90.2 633.2 92.2 633 94.2 632.8 96.2 632.5 98.2 632.1 100.2 631.7 102.2 631.2 104.2 630.7 106.2 630.1 108.2 629.5 110.2 628.8 112.2 628.1 114.2 627.4 116.2 626.6 118.2 625.8 120.2 625 122.2 624.1 124.2 623.3 126.2 622.4 128.2 621.5 130.2 620.6 132.2 619.7 134.2 618.8 136.2 617.9 138.2 617 140.2 616.1 142.2 615.2 144.2 614.3 146.2 613.4 148.2 612.5 150.2 611.7 152.2 610.9 154.2 610.1 156.2 609.4 158.2 608.6 160.2 608 162.2 607.3 164.2 606.7 166.2 606.1 168.2 605.6 170.2 605.2 172.2 604.8 174.2 604.4 176.2 604.1 178.2 603.9 180.2 603.7 182.2 603.6 184.2 603.6 186.2 603.7 188.2 603.8 190.2 604 192.2 604.3 194.2 604.6 196.2 605 198.2 605.4 200.2 605.9 202.2 606.5 204.2 607.1 206.2 607.7 208.2 608.4 210.2 609.1 212.2 609.9 214.2 610.7 216.2 611.5 218.2 612.3 220.2 613.1 222.2 614 224.2 614.9 226.2 615.7 228.2 616.6 230.2 617.5 232.2 618.3 234.2 619.2 236.2 620.1 238.2 620.9 240.2 621.7 242.2 622.5 244.2 623.4 246.2 624.1 248.2 624.9 250.2 625.7 252.2 626.5 254.2 627.2 256.2 627.9 258.2 628.6 260.2 629.3 262.2 630 264.2 630.6 266.2 631.3 268.2 631.9 270.2 632.5 272.2 633.1 274.2 633.7 276.2 634.2 278.2 634.7 280.2 635.2 282.2 635.7 284.2 636.1 286.2 636.6 288.2 637 290.2 637.4 292.2 637.7 294.2 638.1 296.2 638.4 298.2 638.7 300.2 639 302.2 639.2 304.2 639.4 306.2 639.7 308.2 639.8 310.2 640 312.2 640.2 314.2 640.3 316.2 640.4 318.2 640.5 320.2 640.6 322.2 640.6 324.2 640.7 326.2 640.7 328.2 640.7 330.2 640.7 332.2 640.6 334.2 640.6 336.2 640.5 338.2 640.4 340.2 640.4 342.2 640.2 344.2 640.1 346.2 640 348.2 639.8 350.2 639.6 352.2 639.5 354.2 639.3 356.2 639 358.2 638.8 360.2 638.6 362.2 638.3 364.2 638.1 366.2 637.8 368.2 637.5 370.2 637.2 372.2 636.9 374.2 636.6 376.2 636.2 378.2 635.9 380.2 635.5 382.2 635.2 384.2 634.8 386.2 634.4 388.2 634 390.2 633.6 392.2 633.2 394.2 632.8 396.2 632.4 398.2 632 400.2 631.5 402.2 631.1 404.2 630.7 406.2 630.2 408.2 629.8 410.2 629.3 412.2 628.9 414.2 628.5 416.2 628.1 418.2 627.7 420.2 627.3 422.2 626.9 424.2 626.6 426.2 626.2 428.2 625.9 430.2 625.6 432.2 625.4 434.2 625.1 436.2 624.9 438.2 624.7 440.2 624.5 442.2 624.3 444.2 624.2 446.2 624.1 448.2 624 450.2 623.9 452.2 623.9 454.2 623.8 456.2 623.8 458.2 623.9 460.2 623.9 462.2 623.9 464.2 624 466.2 624.1 468.2 624.2 470.2 624.3 472.2 624.4 474.2 624.5 476.2 624.7 478.2 624.8 480.2 625 482.2 625.1 484.2 625.3 486.2 625.5 488.2 625.7 490.2 625.8 492.2 626 494.2 626.2 496.2 626.4 498.2 626.5 500.2 626.7 502.2 626.9 504.2 627 506.2 627.2 508.2 627.3 510.2 627.5 512.2 627.6 514.2 627.7 516.2 627.8 518.2 627.9 520.2 628 522.2 628 524.2 628 526.2 628.1 528.2 628.1 530.2 628 532.2 628 534.2 627.9 536.2 627.8 538.2 627.7 540.2 627.5 542.2 627.4 544.2 627.2 546.2 626.9 548.2 626.7 550.2 626.4 552.2 626.1 554.2 625.7 556.2 625.3 558.2 624.9 560.2 624.5 562.2 624 564.2 623.5 566.2 623 568.2 622.4 570.2 621.8 572.2 621.2 574.2 620.5 576.2 619.8 578.2 619.1 580.2 618.3 582.2 617.5 584.2 616.7 586.2 615.8 588.2 614.9 590.2 614 592.2 613 594.2 612 596.2 611.1 598.2 610.1 600.2 609.2 602.2 608.3 604.2 607.5 606.2 606.7 608.2 606.1 610.2 605.5 612.2 605 614.2 604.6 616.2 604.4 618.2 604.3 620.2 604.4 622.2 604.5 624.2 604.9 626.2 605.3 628.2 605.8 630.2 606.4 632.2 607.1 634.2 607.8 636.2 608.6 638.2 609.4 640.2 610.2 642.2 611 644.2 611.9 646.2 612.7 648.2 613.5 650.2 614.3 652.2 615.1 654.2 615.9 656.2 616.7 658.2 617.5 660.2 618.3 662.2 619.1 664.2 619.9 666.2 620.6 668.2 621.4 670.2 622.1 672.2 622.8 674.2 623.5 676.2 624.2 678.2 624.9 680.2 625.6 682.2 626.2 684.2 626.8 686.2 627.4 688.2 628 690.2 628.5 692.2 629.1 694.2 629.6 696.2 630 698.2 630.5 700.2 630.9 702.2 631.3 704.2 631.7 706.2 632 708.2 632.3 710.2 632.6 712.2 632.8 714.2 633 716.2 633.2 718.2 633.3 720.2 633.4 722.2 633.4 724.2 633.4 726.2 633.4 728.2 633.3 730.2 633.2 732.2 633 734.2 632.8 736.2 632.6 738.2 632.3 740.2 631.9 742.2 631.6 744.2 631.1 746.2 630.7 748.2 630.2 750.2 629.6 752.2 629 754.2 628.4 756.2 627.8 758.2 627.2 760.2 626.5 762.2 625.8 764.2 625 766.2 624.3 768.2 623.5 770.2 622.7 772.2 621.9 774.2 621.1 776.2 620.3 778.2 619.5 780.2 618.6 782.2 617.8 784.2 616.9 786.2 616.1 788.2 615.3 790.2 614.4 792.2 613.6 794.2 612.7 796.2 611.9 798.2 611.1 800.2 610.3 802.2 609.6 804.2 608.9 806.2 608.2 808.2 607.6 810.2 607 812.2 606.5 814.2 606.1 816.2 605.7 818.2 605.5 820.2 605.3 822.2 605.2 822.3 605.2"/><path d="M78.2 119 80.2 118.8 82.2 118.2 84.2 117.3 86.2 116.2 88.2 114.9 90.2 113.3 92.2 111.5 94.2 109.5 96.2 107.4 98.2 105.2 100.2 102.9 102.2 100.5 104.2 98 106.2 95.5 108.2 92.9 110.2 90.3 112.2 87.6 114.2 85 116.2 82.3 118.2 79.6 120.2 76.8 122.2 74.1 124.2 71.4 126.2 68.7 128.2 66 130.2 63.3 132.2 60.7 134.2 58.1 136.2 55.5 138.2 53 140.2 50.5 142.2 48.1 144.2 45.8 146.2 43.5 148.2 41.4 149 40.5"/><path d="M78.2 142.8 80.2 141.4 82.2 139.7 84.2 137.9 86.2 135.9 88.2 133.8 90.2 131.5 92.2 129.1 94.2 126.6 96.2 124 98.2 121.4 100.2 118.7 102.2 115.9 104.2 113.1 106.2 110.3 108.2 107.6 110.2 104.8 112.2 102 114.2 99.3 116.2 96.6 118.2 93.9 120.2 91.2 122.2 88.5 124.2 85.9 126.2 83.3 128.2 80.8 130.2 78.2 132.2 75.8 134.2 73.3 136.2 70.9 138.2 68.5 140.2 66.2 142.2 63.9 144.2 61.7 146.2 59.5 148.2 57.4 150.2 55.3 152.2 53.3 154.2 51.3 156.2 49.4 158.2 47.6 160.2 45.8 162.2 44.1 164.2 42.4 165 41.8"/><path d="M214 40.5 216 43.1 218 45.6 220 48 222 50.3 224 52.6 226 54.8 228 56.9 230 58.9 232 60.9 234 62.8 236 64.6 238 66.3 240 68 242 69.5 244 71 246 72.4 248 73.8 250 75 252 76.2 254 77.2 256 78.2 258 79.2 260 80 262 80.7 264 81.4 266 82 268 82.5 270 83 272 83.4 274 83.8 276 84.1 278 84.3 280 84.6 282 84.7 284 84.9 286 85 288 85.2 290 85.3 292 85.4 294 85.5 296 85.6 298 85.7 300 85.8 302 86 304 86.1 306 86.3 308 86.5 310 86.6 312 86.8 314 87 316 87.1 318 87.2 320 87.4 322 87.5 324 87.5 326 87.6 328 87.6 330 87.5 332 87.4 334 87.3 336 87.1 338 86.9 340 86.7 342 86.4 344 86.1 346 85.8 348 85.4 350 85 352 84.5 354 84.1 356 83.6 358 83.1 360 82.6 362 82 364 81.4 366 80.8 368 80.2 370 79.5 372 78.8 374 78 376 77.2 378 76.4 380 75.5 382 74.6 384 73.6 386 72.6 388 71.5 390 70.4 392 69.3 394 68.1 396 66.9 398 65.8 400 64.8 402 63.9 404 63.2 406 62.7 408 62.5 410 62.5 412 62.8 414 63.5 416 64.5 418 65.7 420 67.2 422 68.9 424 70.7 426 72.7 428 74.7 430 76.7 432 78.8 434 80.8 436 82.8 438 84.8 440 86.8 442 88.7 444 90.6 446 92.5 448 94.4 450 96.2 452 98 454 99.8 456 101.5 458 103.2 460 104.9 462 106.5 464 108.1 466 109.6 468 111.1 470 112.5 472 113.9 474 115.2 476 116.5 478 117.7 480 118.9 482 120 484 121.1 486 122.1 488 123 490 123.9 492 124.8 494 125.6 496 126.3 498 127 500 127.7 502 128.3 504 128.8 506 129.3 508 129.8 510 130.3 512 130.6 514 131 516 131.3 518 131.6 520 131.8 522 132 524 132.1 525.5 132.2 527.5 130.6 529.5 128.9 531.5 127.1 533.5 125.1 535.5 123.1 537.5 121 539.5 118.9 541.5 116.7 543.5 114.4 545.5 112 547.5 109.7 549.5 107.3 551.5 104.9 553.5 102.4 555.5 100 557.5 97.6 559.5 95.2 561.5 92.8 563.5 90.4 565.5 88.1 567.5 85.8 569.5 83.6 571.5 81.4 573.5 79.3 575.5 77.3 577.5 75.4 579.5 73.6 581.5 71.9 583.5 70.3 585.5 68.9 587.5 67.5 589.5 66.3 591.5 65.3 593.5 64.4 595.5 63.7 597.5 63.2 599.5 62.8 601.5 62.7 603.5 62.7 605.5 63 607.5 63.4 609.5 64 611.5 64.8 613.5 65.8 615.5 66.9 617.5 68.1 619.5 69.5 621.5 70.9 623.5 72.5 625.5 74.2 627.5 75.9 629.5 77.7 631.5 79.6 633.5 81.5 635.5 83.5 637.5 85.5 639.5 87.5 641.5 89.5 643.5 91.4 645.5 93.4 647.5 95.3 649.5 97.2 651.5 99 653.5 100.8 655.5 102.5 657.5 104.1 659.5 105.7 661.5 107.3 663.5 108.8 665.5 110.2 667.5 111.6 669.5 113 671.5 114.3 673.5 115.6 675.5 116.9 677.5 118.1 679.5 119.3 681.5 120.4 683.5 121.5 685.5 122.6 687.5 123.7 689.5 124.8 691.5 125.8 693.5 126.9 695.5 127.9 697.5 128.9 699.5 129.9 701.5 130.9 703.5 132 705.5 133 707.5 134.1 709.5 135.2 711.5 136.4 713.5 137.6 715.5 138.7 717.5 139.9 719.5 140.8 721.5 141.6 723.5 142 725.5 142 727.5 141.8 729.5 141.2 731.5 140.3 733.5 139.2 735.5 137.8 737.5 136.2 739.5 134.4 741.5 132.4 743.5 130.3 745.5 128.1 747.5 125.7 749.5 123.3 751.5 120.8 753.5 118.3 755.5 115.7 757.5 113.2 759.5 110.7 761.5 108.2 763.5 105.8 765.5 103.5 767.5 101.3 769.5 99.2 771.5 97.3 773.5 95.4 775.5 93.7 777.5 92.2 779.5 90.7 781.5 89.3 783.5 88 785.5 86.7 787.5 85.6 789.5 84.5 791.5 83.4 793.5 82.4 795.5 81.5 797.5 80.6 799.5 79.7 801.5 78.9 803.5 78.2 805.5 77.5 807.5 76.9 809.5 76.3 811.5 75.9 813.5 75.5 815.5 75.1 817.5 74.9 819.5 74.7 821.5 74.6 822.3 74.6"/><path d="M401 43 403 45.9 405 48.3 407 49.9 409 51 411 51.4 413 51.1 415 50.2 417 48.7 419 46.6 421 43.8 421.5 43"/><path d="M658 41 660 43.3 662 45.6 664 47.9 666 50.2 668 52.4 670 54.7 672 57 674 59.3 676 61.7 678 64.2 680 66.8 682 69.5 684 72.3 686 75.3 688 78.4 690 81.6 692 84.9 694 88.1 696 91.4 698 94.7 700 97.8 702 100.8 704 103.7 706 106.4 708 108.9 710 111.1 712 113.1 714 114.8 716 116.2 718 117.4 720 118.2 722 118.8 724 119.2 726 119.4 728 119.4 730 119.2 732 119 734 118.7 736 118.4 738 118 740 117.6 742 117.2 744 116.8 746 116.4 748 116 750 115.6 752 115.1 754 114.7 756 114.2 758 113.8 760 113.3 762 112.8 764 112.4 766 111.9 768 111.4 770 111 772 110.5 774 110 776 109.6 778 109.1 780 108.7 782 108.2 784 107.8 786 107.4 788 106.9 790 106.5 792 106.1 794 105.8 796 105.4 798 105.1 800 104.7 802 104.4 804 104.1 806 103.9 808 103.6 810 103.4 812 103.2 814 103 816 102.8 818 102.7 820 102.6 822 102.5 822.3 102.5"/><path d="M78.2 148.3 80.2 149.3 82.2 150.5 84.2 151.9 86.2 153.5 88.2 155.3 90.2 157.1 92.2 159.1 94.2 161.2 96.2 163.3 98.2 165.6 100.2 167.8 102.2 170 104.2 172.3 106.2 174.5 108.2 176.7 110.2 178.8 112.2 180.9 114.2 183.1 116.2 185.2 118.2 187.4 120.2 189.6 122.2 191.8 124.2 194 126.2 196.3 128.2 198.6 130.2 200.9 132.2 203.2 134.2 205.5 136.2 207.8 138.2 210.1 140.2 212.5 142.2 214.8 144.2 217.1 146.2 219.4 148.2 221.7 150.2 223.9 152.2 226.2 154.2 228.4 156.2 230.6 158.2 232.7 160.2 234.9 162.2 237 164.2 239.1 166.2 241.2 168.2 243.2 170.2 245.3 172.2 247.3 174.2 249.3 176.2 251.3 178.2 253.2 180.2 255.1 182.2 257 184.2 258.9 186.2 260.8 188.2 262.7 190.2 264.5 192.2 266.3 194.2 268.1 196.2 269.8 198.2 271.6 200.2 273.3 202.2 275.1 204.2 276.7 206.2 278.4 208.2 280.1 210.2 281.7 212.2 283.4 214.2 285 216.2 286.6 218.2 288.2 220.2 289.7 222.2 291.3 224.2 292.8 226.2 294.4 228.2 295.9 230.2 297.4 232.2 298.9 234.2 300.4 236.2 301.9 238.2 303.3 240.2 304.8 242.2 306.2 244.2 307.7 246.2 309.1 248.2 310.5 250.2 312 252.2 313.4 254.2 314.8 256.2 316.1 258.2 317.5 260.2 318.9 262.2 320.2 264.2 321.5 266.2 322.8 268.2 324.1 270.2 325.4 272.2 326.7 274.2 327.9 276.2 329.1 278.2 330.3 280.2 331.5 282.2 332.6 284.2 333.7 286.2 334.8 288.2 335.9 290.2 336.9 292.2 337.9 294.2 338.9 296.2 339.9 298.2 340.8 300.2 341.7 302.2 342.6 304.2 343.4 306.2 344.2 308.2 344.9 310.2 345.7 312.2 346.4 314.2 347 316.2 347.6 318.2 348.2 320.2 348.8 322.2 349.3 324.2 349.8 326.2 350.2 328.2 350.6 330.2 351 332.2 351.4 334.2 351.6 336.2 351.9 338.2 352.1 340.2 352.3 342.2 352.4 344.2 352.5 346.2 352.5 348.2 352.5 350.2 352.4 352.2 352.3 354.2 352.1 356.2 351.8 358.2 351.4 360.2 351 362.2 350.5 364.2 350 366.2 349.4 368.2 348.7 370.2 347.9 372.2 347.1 374.2 346.3 376.2 345.4 378.2 344.5 380.2 343.5 382.2 342.5 384.2 341.4 386.2 340.3 388.2 339.2 390.2 338 392.2 336.8 394.2 335.6 396.2 334.4 398.2 333.1 400.2 331.8 402.2 330.6 404.2 329.3 406.2 328 408.2 326.6 410.2 325.3 412.2 324 414.2 322.7 416.2 321.4 418.2 320.1 420.2 318.8 422.2 317.5 424.2 316.3 426.2 315 428.2 313.8 430.2 312.5 432.2 311.3 434.2 310.1 436.2 309 438.2 307.8 440.2 306.7 442.2 305.6 444.2 304.6 446.2 303.5 448.2 302.6 450.2 301.6 452.2 300.7 454.2 299.7 456.2 298.8 458.2 297.9 460.2 296.9 462.2 295.9 464.2 294.8 466.2 293.7 468.2 292.6 470.2 291.4 472.2 290.2 474.2 289.1 476.2 287.9 478.2 286.8 480.2 285.8 482.2 284.7 484.2 283.7 486.2 282.7 488.2 281.8 490.2 280.8 492.2 280 494.2 279.1 496.2 278.3 498.2 277.6 500.2 276.9 502.2 276.2 504.2 275.6 506.2 275.1 508.2 274.6 510.2 274.1 512.2 273.7 514.2 273.4 516.2 273.1 518.2 272.9 520.2 272.8 522.2 272.7 524.2 272.7 525.5 272.7 527.5 273.5 529.5 274.3 531.5 275 533.5 275.8 535.5 276.6 537.5 277.3 539.5 278 541.5 278.8 543.5 279.5 545.5 280.2 547.5 280.8 549.5 281.5 551.5 282.1 553.5 282.7 555.5 283.3 557.5 283.8 559.5 284.3 561.5 284.8 563.5 285.2 565.5 285.6 567.5 285.9 569.5 286.2 571.5 286.5 573.5 286.7 575.5 286.8 577.5 286.9 579.5 287 581.5 286.9 583.5 286.9 585.5 286.7 587.5 286.5 589.5 286.3 591.5 285.9 593.5 285.6 595.5 285.1 597.5 284.6 599.5 284 601.5 283.3 603.5 282.6 605.5 281.8 607.5 281 609.5 280.1 611.5 279.1 613.5 278.1 615.5 277 617.5 275.9 619.5 274.7 621.5 273.4 623.5 272.1 625.5 270.7 627.5 269.3 629.5 267.8 631.5 266.2 633.5 264.6 635.5 263 637.5 261.2 639.5 259.5 641.5 257.6 643.5 255.7 645.5 253.8 647.5 251.8 649.5 249.8 651.5 247.7 653.5 245.5 655.5 243.3 657.5 241 659.5 238.7 661.5 236.3 663.5 233.9 665.5 231.4 667.5 228.9 669.5 226.3 671.5 223.6 673.5 220.9 675.5 218.2 677.5 215.4 679.5 212.5 681.5 209.6 683.5 206.7 685.5 203.6 687.5 200.6 689.5 197.4 691.5 194.3 693.5 191 695.5 187.8 697.5 184.4 699.5 181.1 701.5 177.8 703.5 174.5 705.5 171.2 707.5 168 709.5 164.9 711.5 161.9 713.5 159 715.5 156.2 717.5 153.6 719.5 151.2 721.5 149.2 722.5 148.3"/><path d="M78.2 148.3 80.2 150.2 82.2 152.2 84.2 154.3 86.2 156.4 88.2 158.5 90.2 160.7 92.2 162.9 94.2 165.1 96.2 167.3 98.2 169.6 100.2 171.8 102.2 174 104.2 176.2 106.2 178.3 108.2 180.4 110.2 182.5 112.2 184.6 114.2 186.6 116.2 188.6 118.2 190.5 120.2 192.5 122.2 194.4 124.2 196.3 126.2 198.2 128.2 200 130.2 201.8 132.2 203.5 134.2 205.2 136.2 206.9 138.2 208.6 140.2 210.1 142.2 211.7 144.2 213.2 146.2 214.6 148.2 216 150.2 217.4 152.2 218.7 154.2 219.9 156.2 221.1 158.2 222.3 160.2 223.4 162.2 224.4 164.2 225.5 166.2 226.5 168.2 227.4 170.2 228.3 172.2 229.2 174.2 230 176.2 230.8 178.2 231.6 180.2 232.3 182.2 233 184.2 233.7 186.2 234.3 188.2 235 190.2 235.6 192.2 236.2 194.2 236.7 196.2 237.3 198.2 237.8 200.2 238.3 202.2 238.8 204.2 239.3 206.2 239.7 208.2 240.2 210.2 240.6 212.2 241.1 214.2 241.5 216.2 241.9 218.2 242.3 220.2 242.8 222.2 243.2 224.2 243.6 226.2 244 228.2 244.4 230.2 244.8 232.2 245.3 234.2 245.7 236.2 246.1 238.2 246.6 240.2 247 242.2 247.5 244.2 248 246.2 248.4 248.2 248.9 250.2 249.4 252.2 249.9 254.2 250.5 256.2 251 258.2 251.6 260.2 252.2 262.2 252.7 264.2 253.4 266.2 254 268.2 254.6 270.2 255.2 272.2 255.9 274.2 256.6 276.2 257.2 278.2 257.9 280.2 258.5 282.2 259.2 284.2 259.9 286.2 260.5 288.2 261.2 290.2 261.8 292.2 262.4 294.2 263 296.2 263.6 298.2 264.2 300.2 264.8 302.2 265.3 304.2 265.9 306.2 266.4 308.2 266.8 310.2 267.3 312.2 267.7 314.2 268.1 316.2 268.5 318.2 268.8 320.2 269.1 322.2 269.4 324.2 269.6 326.2 269.8 328.2 270 330.2 270.2 332.2 270.3 334.2 270.4 336.2 270.5 338.2 270.6 340.2 270.6 342.2 270.6 344.2 270.5 346.2 270.5 348.2 270.4 350.2 270.3 352.2 270.1 354.2 270 356.2 269.8 358.2 269.5 360.2 269.3 362.2 269 364.2 268.7 366.2 268.3 368.2 268 370.2 267.6 372.2 267.2 374.2 266.7 376.2 266.3 378.2 265.8 380.2 265.2 382.2 264.7 384.2 264.1 386.2 263.5 388.2 262.9 390.2 262.2 392.2 261.5 394.2 260.8 396.2 260.1 398.2 259.3 400.2 258.6 402.2 257.7 404.2 256.9 406.2 256 408.2 255.2 410.2 254.2 412.2 253.3 414.2 252.3 416.2 251.4 418.2 250.3 420.2 249.3 422.2 248.2 424.2 247.2 426.2 246 428.2 244.9 430.2 243.7 432.2 242.5 434.2 241.3 436.2 240.1 438.2 238.8 440.2 237.6 442.2 236.2 444.2 234.9 446.2 233.6 448.2 232.2 450.2 230.8 452.2 229.4 454.2 227.9 456.2 226.4 458.2 224.9 460.2 223.4 462.2 221.9 464.2 220.4 466.2 218.8 468.2 217.2 470.2 215.6 472.2 213.9 474.2 212.3 476.2 210.6 478.2 208.9 480.2 207.2 482.2 205.5 484.2 203.7 486.2 202 488.2 200.2 490.2 198.4 492.2 196.6 494.2 194.8 496.2 193.1 498.2 191.3 500.2 189.6 502.2 188 504.2 186.4 506.2 184.9 508.2 183.5 510.2 182.2 512.2 181 514.2 179.9 516.2 179 518.2 178.1 520.2 177.5 522.2 177 524.2 176.7 525.5 176.6 527.5 177.6 529.5 178.7 531.5 179.8 533.5 181 535.5 182.2 537.5 183.4 539.5 184.7 541.5 186 543.5 187.4 545.5 188.8 547.5 190.2 549.5 191.6 551.5 193.1 553.5 194.5 555.5 196 557.5 197.5 559.5 199.1 561.5 200.6 563.5 202.1 565.5 203.7 567.5 205.3 569.5 206.8 571.5 208.4 573.5 209.9 575.5 211.5 577.5 213 579.5 214.6 581.5 216.1 583.5 217.6 585.5 219.1 587.5 220.6 589.5 222.1 591.5 223.6 593.5 225.1 595.5 226.6 597.5 228 599.5 229.5 601.5 230.9 603.5 232.4 605.5 233.8 607.5 235.2 609.5 236.6 611.5 238 613.5 239.4 615.5 240.8 617.5 242.1 619.5 243.5 621.5 244.9 623.5 246.2 625.5 247.5 627.5 248.8 629.5 250.1 631.5 251.4 633.5 252.7 635.5 254 637.5 255.3 639.5 256.5 641.5 257.8 643.5 259 645.5 260.2 647.5 261.4 649.5 262.6 651.5 263.8 653.5 265 655.5 266.1 657.5 267.3 659.5 268.4 661.5 269.5 663.5 270.7 665.5 271.8 667.5 272.8 669.5 273.9 671.5 275 673.5 276 675.5 277.1 677.5 278.1 679.5 279.1 681.5 280.1 683.5 281.1 685.5 282 687.5 282.9 689.5 283.8 691.5 284.7 693.5 285.5 695.5 286.3 697.5 287.1 699.5 287.8 701.5 288.5 703.5 289.1 705.5 289.7 707.5 290.3 709.5 290.8 711.5 291.3 713.5 291.7 715.5 292 717.5 292.3 719.5 292.6 721.5 292.7 722.5 292.8 822.3 292.8"/></g>
<g stroke="#0000ff" stroke-width="3" stroke-dasharray="5.8 5.4"><path d="M78.2 211 80.2 210.8 82.2 210.6 84.2 210.4 86.2 210.2 88.2 210 90.2 209.8 92.2 209.5 94.2 209.3 96.2 209.1 98.2 208.9 100.2 208.7 102.2 208.5 104.2 208.3 106.2 208.1 108.2 207.9 110.2 207.7 112.2 207.5 114.2 207.4 116.2 207.2 118.2 207.1 120.2 207 122.2 206.9 124.2 206.8 126.2 206.7 128.2 206.7 130.2 206.6 132.2 206.6 134.2 206.6 136.2 206.7 138.2 206.7 140.2 206.8 142.2 206.9 144.2 207.1 146.2 207.2 148.2 207.4 150.2 207.6 152.2 207.9 154.2 208.2 156.2 208.5 158.2 208.9 160.2 209.3 162.2 209.7 164.2 210.2 166.2 210.7 168.2 211.3 170.2 211.9 172.2 212.5 174.2 213.2 176.2 213.9 178.2 214.7 180.2 215.5 182.2 216.4 184.2 217.3 186.2 218.3 188.2 219.3 190.2 220.3 192.2 221.5 194.2 222.6 196.2 223.9 198.2 225.1 200.2 226.5 202.2 227.8 204.2 229.3 206.2 230.7 208.2 232.3 210.2 233.9 212.2 235.5 214.2 237.2 216.2 238.9 218.2 240.7 220.2 242.6 222.2 244.5 224.2 246.4 226.2 248.4 228.2 250.5 230.2 252.6 232.2 254.8 234.2 257 236.2 259.3 238.2 261.6 240.2 264 242.2 266.4 244.2 268.9 246.2 271.4 248.2 274 250.2 276.7 252.2 279.4 254.2 282.1 256.2 284.9 258.2 287.7 260.2 290.5 262.2 293.4 264.2 296.2 266.2 299 268.2 301.9 270.2 304.7 272.2 307.6 274.2 310.4 276.2 313.2 278.2 316 280.2 318.7 282.2 321.5 284.2 324.1 286.2 326.8 288.2 329.4 290.2 332 292.2 334.5 294.2 336.9 296.2 339.3 298.2 341.6 300.2 343.9 302.2 346.1 304.2 348.2 306.2 350.2 308.2 352.2 310.2 354 312.2 355.8 314.2 357.5 316.2 359.1 318.2 360.5 320.2 361.9 322.2 363.2 324.2 364.3 326.2 365.3 328.2 366.2 330.2 367 332.2 367.7 334.2 368.2 336.2 368.7 338.2 369.1 340.2 369.4 342.2 369.6 344.2 369.8 346.2 369.9 348.2 370 350.2 370 352.2 370 354.2 370 356.2 370 358.2 370 360.2 370 362.2 370 364.2 369.9 366.2 369.9 368.2 369.8 370.2 369.7 372.2 369.6 374.2 369.4 376.2 369.2 378.2 369 380.2 368.8 382.2 368.5 384.2 368.3 386.2 368.1 388.2 368 390.2 367.9 392.2 367.8 394.2 367.7 396.2 367.6 398.2 367.6 400.2 367.6 402.2 367.6 404.2 367.7 406.2 367.8 408.2 367.9 410.2 368 412.2 368.2 414.2 368.3 416.2 368.5 418.2 368.8 420.2 369 422.2 369.2 424.2 369.5 426.2 369.8 428.2 370.1 430.2 370.5 432.2 370.8 434.2 371.2 436.2 371.6 438.2 372 440.2 372.4 442.2 372.9 444.2 373.3 446.2 373.8 448.2 374.3 450.2 374.8 452.2 375.3 454.2 375.8 456.2 376.4 458.2 376.9 460.2 377.5 462.2 378 464.2 378.6 466.2 379.2 468.2 379.8 470.2 380.4 472.2 381 474.2 381.7 476.2 382.3 478.2 382.9 480.2 383.6 482.2 384.2 484.2 384.8 486.2 385.5 488.2 386.1 490.2 386.7 492.2 387.3 494.2 387.8 496.2 388.3 498.2 388.8 500.2 389.3 502.2 389.7 504.2 390.1 506.2 390.4 508.2 390.7 510.2 391 512.2 391.3 514.2 391.6 516.2 391.8 518.2 392.1 520.2 392.3 522.2 392.5 524.2 392.8 526.2 393.1 528.2 393.3 530.2 393.6 532.2 393.9 534.2 394.2 536.2 394.5 538.2 394.8 540.2 395.1 542.2 395.3 544.2 395.6 546.2 395.9 548.2 396.1 550.2 396.4 552.2 396.6 554.2 396.7 556.2 396.9 558.2 397 560.2 397.1 562.2 397.2 564.2 397.2 566.2 397.2 568.2 397.2 570.2 397.1 572.2 396.9 574.2 396.8 576.2 396.6 578.2 396.3 580.2 396.1 582.2 395.8 584.2 395.4 586.2 395.1 588.2 394.7 590.2 394.3 592.2 393.9 594.2 393.4 596.2 393 598.2 392.5 600.2 392 602.2 391.5 604.2 391 606.2 390.5 608.2 389.9 610.2 389.4 612.2 388.9 614.2 388.3 616.2 387.8 618.2 387.2 620.2 386.7 622.2 386.1 624.2 385.6 626.2 385 628.2 384.5 630.2 384 632.2 383.5 634.2 383 636.2 382.5 638.2 382 640.2 381.6 642.2 381.2 644.2 380.7 646.2 380.4 648.2 380 650.2 379.6 652.2 379.2 654.2 378.9 656.2 378.6 658.2 378.3 660.2 378 662.2 377.7 664.2 377.4 666.2 377.2 668.2 376.9 670.2 376.7 672.2 376.5 674.2 376.3 676.2 376.1 678.2 375.9 680.2 375.8 682.2 375.6 684.2 375.5 686.2 375.4 688.2 375.3 690.2 375.2 692.2 375.1 694.2 375 696.2 374.9 698.2 374.8 700.2 374.8 702.2 374.8 704.2 374.7 706.2 374.7 708.2 374.7 710.2 374.7 712.2 374.7 714.2 374.7 716.2 374.7 718.2 374.8 720.2 374.8 722.2 374.8"/><path d="M724.2 374.9 726.2 374.9 728.2 375 730.2 375 732.2 375.1 734.2 375.2 736.2 375.2 738.2 375.3 740.2 375.4 742.2 375.5 744.2 375.6 746.2 375.6 748.2 375.7 750.2 375.8 752.2 375.9 754.2 376 756.2 376.1 758.2 376.2 760.2 376.2 762.2 376.3 764.2 376.4 766.2 376.5 768.2 376.6 770.2 376.6 772.2 376.7 774.2 376.8 776.2 376.8 778.2 376.9 780.2 376.9 782.2 377 784.2 377 786.2 377.1 788.2 377.1 790.2 377.2 792.2 377.2 794.2 377.2 796.2 377.3 798.2 377.3 800.2 377.3 802.2 377.3 804.2 377.3 806.2 377.4 808.2 377.4 810.2 377.4 812.2 377.4 814.2 377.4 816.2 377.4 818.2 377.4 820.2 377.4 822.2 377.4 822.3 377.4" stroke-dashoffset="2.9"/><path d="M78.2 292.8 80.2 292.7 82.2 292.5 84.2 292.2 86.2 291.9 88.2 291.5 90.2 291.1 92.2 290.6 94.2 290.1 96.2 289.5 98.2 288.9 100.2 288.3 102.2 287.7 104.2 287 106.2 286.3 108.2 285.7 110.2 285 112.2 284.3 114.2 283.6 116.2 283 118.2 282.3 120.2 281.7 122.2 281.1 124.2 280.6 126.2 280 128.2 279.5 130.2 279 132.2 278.5 134.2 278.1 136.2 277.6 138.2 277.2 140.2 276.8 142.2 276.4 144.2 276.1 146.2 275.7 148.2 275.4 150.2 275.1 152.2 274.7 154.2 274.4 156.2 274.1 158.2 273.8 160.2 273.6 162.2 273.3 164.2 273.1 166.2 272.8 168.2 272.6 170.2 272.4 172.2 272.2 174.2 272 176.2 271.8 178.2 271.6 180.2 271.4 182.2 271.3 184.2 271.1 186.2 271 188.2 270.9 190.2 270.7 192.2 270.6 194.2 270.5 196.2 270.4 198.2 270.3 200.2 270.2 202.2 270.2 204.2 270.1 206.2 270 208.2 270 210.2 269.9 212.2 269.9 214.2 269.8 216.2 269.8 218.2 269.8 220.2 269.8 222.2 269.7 224.2 269.7 226.2 269.7 228.2 269.7 230.2 269.7 232.2 269.8 234.2 269.8 236.2 269.8 238.2 269.8 240.2 269.8 242.2 269.9 244.2 269.9 246.2 269.9 248.2 270 250.2 270 252.2 270.1 254.2 270.1 256.2 270.2 258.2 270.2 260.2 270.3 262.2 270.3 264.2 270.4 266.2 270.4 268.2 270.5 270.2 270.5 272.2 270.6 274.2 270.6 276.2 270.7 278.2 270.7 280.2 270.8 282.2 270.8 284.2 270.9 286.2 270.9 288.2 271 290.2 271 292.2 271 294.2 271.1 296.2 271.1 298.2 271.2 300.2 271.2 302.2 271.2 304.2 271.2 306.2 271.2 308.2 271.3 310.2 271.3 312.2 271.3 314.2 271.3 316.2 271.3 318.2 271.3 320.2 271.2 322.2 271.2 324.2 271.2 326.2 271.2 328.2 271.1 330.2 271.1 332.2 271 334.2 271 336.2 270.9 338.2 270.8 340.2 270.7 342.2 270.7 344.2 270.6 346.2 270.4 348.2 270.3 350.2 270.2 352.2 270.1 354.2 269.9 356.2 269.8 358.2 269.6 360.2 269.4 362.2 269.3 364.2 269.1 366.2 268.9 368.2 268.7 370.2 268.4 372.2 268.2 374.2 268 376.2 267.7 378.2 267.4 380.2 267.1 382.2 266.8 384.2 266.5 386.2 266.2 388.2 265.9 390.2 265.5 392.2 265.1 394.2 264.7 396.2 264.3 398.2 263.9 400.2 263.4 402.2 263 404.2 262.5 406.2 262 408.2 261.5 410.2 260.9 412.2 260.3 414.2 259.7 416.2 259.1 418.2 258.5 420.2 257.8 422.2 257.1 424.2 256.4 426.2 255.6 428.2 254.9 430.2 254.1 432.2 253.2 434.2 252.4 436.2 251.5 438.2 250.6 440.2 249.6 442.2 248.6 444.2 247.6 446.2 246.6 448.2 245.5 450.2 244.4 452.2 243.2 454.2 242.1 456.2 240.9 458.2 239.7 460.2 238.4 462.2 237.2 464.2 235.9 466.2 234.7 468.2 233.4 470.2 232.1 472.2 230.8 474.2 229.5 476.2 228.3 478.2 227 480.2 225.7 482.2 224.5 484.2 223.3 486.2 222.1 488.2 220.9 490.2 219.7 492.2 218.6 494.2 217.5 496.2 216.5 498.2 215.5 500.2 214.5 502.2 213.5 504.2 212.7 506.2 211.8 508.2 211 510.2 210.3 512.2 209.6 514.2 209 516.2 208.5 518.2 208 520.2 207.6 522.2 207.3 524.2 207 525.5 206.9 527.5 205.9 529.5 204.9 531.5 203.9 533.5 202.9 535.5 201.9 537.5 200.9 539.5 199.9 541.5 199 543.5 198 545.5 197 547.5 196 549.5 195.1 551.5 194.1 553.5 193.1 555.5 192.2 557.5 191.2 559.5 190.3 561.5 189.3 563.5 188.4 565.5 187.5 567.5 186.5 569.5 185.6 571.5 184.7 573.5 183.8 575.5 182.9 577.5 182 579.5 181.1 581.5 180.3 583.5 179.4 585.5 178.5 587.5 177.7 589.5 176.8 591.5 176 593.5 175.2 595.5 174.4 597.5 173.5 599.5 172.7 601.5 172 603.5 171.2 605.5 170.4 607.5 169.6 609.5 168.9 611.5 168.2 613.5 167.4 615.5 166.7 617.5 166 619.5 165.3 621.5 164.6 623.5 164 625.5 163.3 627.5 162.7 629.5 162 631.5 161.4 633.5 160.8 635.5 160.2 637.5 159.6 639.5 159.1 641.5 158.5 643.5 158 645.5 157.5 647.5 157 649.5 156.5 651.5 156 653.5 155.5 655.5 155.1 657.5 154.7 659.5 154.2 661.5 153.9 663.5 153.5 665.5 153.1 667.5 152.8 669.5 152.4 671.5 152.1 673.5 151.8 675.5 151.5 677.5 151.2 679.5 151 681.5 150.7 683.5 150.5 685.5 150.3 687.5 150.1 689.5 149.9 691.5 149.7 693.5 149.5 695.5 149.3 697.5 149.2 699.5 149.1 701.5 148.9 703.5 148.8 705.5 148.7 707.5 148.6 709.5 148.5 711.5 148.5 713.5 148.4 715.5 148.3 717.5 148.3 719.5 148.2 721.5 148.2"/><path d="M723.5 148.2 725.5 148.2 727.5 148.2 729.5 148.2 731.5 148.2 733.5 148.2 735.5 148.2 737.5 148.2 739.5 148.3 741.5 148.3 743.5 148.4 745.5 148.4 747.5 148.5 749.5 148.5 751.5 148.6 753.5 148.6 755.5 148.7 757.5 148.8 759.5 148.9 761.5 149 763.5 149 765.5 149.1 767.5 149.2 769.5 149.3 771.5 149.4 773.5 149.5 775.5 149.6 777.5 149.7 779.5 149.8 781.5 149.9 783.5 150 785.5 150.1 787.5 150.2 789.5 150.3 791.5 150.4 793.5 150.5 795.5 150.5 797.5 150.6 799.5 150.7 801.5 150.8 803.5 150.9 805.5 151 807.5 151 809.5 151.1 811.5 151.2 813.5 151.3 815.5 151.3 817.5 151.4 819.5 151.4 821.5 151.5 822.3 151.5" stroke-dasharray="9.9 1.5" stroke-dashoffset="0"/><path d="M78.2 316.3 80.2 316.1 82.2 316.1 84.2 316.3 86.2 316.6 88.2 317 90.2 317.5 92.2 318.1 94.2 318.9 96.2 319.6 98.2 320.5 100.2 321.4 102.2 322.4 104.2 323.4 106.2 324.4 108.2 325.4 110.2 326.4 112.2 327.4 114.2 328.4 116.2 329.4 118.2 330.4 120.2 331.5 122.2 332.5 124.2 333.6 126.2 334.7 128.2 335.9 130.2 337.1 132.2 338.3 134.2 339.6 136.2 340.9 138.2 342.2 140.2 343.6 142.2 345 144.2 346.5 146.2 348 148.2 349.5 150.2 351 152.2 352.6 154.2 354.2 156.2 355.8 158.2 357.4 160.2 359 162.2 360.6 164.2 362.3 166.2 363.9 168.2 365.6 170.2 367.2 172.2 368.9 174.2 370.5 176.2 372.2 178.2 373.8 180.2 375.4 182.2 377 184.2 378.6 186.2 380.2 188.2 381.7 190.2 383.2 192.2 384.7 194.2 386.2 196.2 387.7 198.2 389.1 200.2 390.5 202.2 392 204.2 393.3 206.2 394.7 208.2 396 210.2 397.4 212.2 398.7 214.2 399.9 216.2 401.2 218.2 402.4 220.2 403.6 222.2 404.8 224.2 406 226.2 407.1 228.2 408.2 230.2 409.3 232.2 410.4 234.2 411.5 236.2 412.5 238.2 413.5 240.2 414.4 242.2 415.4 244.2 416.3 246.2 417.2 248.2 418.1 250.2 418.9 252.2 419.7 254.2 420.5 256.2 421.3 258.2 422 260.2 422.7 262.2 423.4 264.2 424.1 266.2 424.8 268.2 425.4 270.2 426 272.2 426.6 274.2 427.2 276.2 427.7 278.2 428.3 280.2 428.8 282.2 429.3 284.2 429.8 286.2 430.3 288.2 430.7 290.2 431.2 292.2 431.6 294.2 432 296.2 432.4 298.2 432.8 300.2 433.1 302.2 433.5 304.2 433.8 306.2 434.2 308.2 434.5 310.2 434.8 312.2 435.1 314.2 435.4 316.2 435.7 318.2 435.9 320.2 436.2 322.2 436.5 324.2 436.7 326.2 436.9 328.2 437.2 330.2 437.4 332.2 437.6 334.2 437.8 336.2 438 338.2 438.2 340.2 438.4 342.2 438.6 344.2 438.8 346.2 439 348.2 439.1 350.2 439.3 352.2 439.5 354.2 439.6 356.2 439.8 358.2 439.9 360.2 440.1 362.2 440.2 364.2 440.4 366.2 440.5 368.2 440.7 370.2 440.8 372.2 440.9 374.2 441.1 376.2 441.2 378.2 441.4 380.2 441.5 382.2 441.6 384.2 441.8 386.2 441.9 388.2 442.1 390.2 442.2 392.2 442.3 394.2 442.5 396.2 442.6 398.2 442.7 400.2 442.8 402.2 442.8 404.2 442.9 406.2 442.9 408.2 442.9 410.2 442.9 412.2 442.8 414.2 442.7 416.2 442.6 418.2 442.4 420.2 442.2 422.2 442 424.2 441.7 426.2 441.3 428.2 440.9 430.2 440.5 432.2 440 434.2 439.5 436.2 438.9 438.2 438.4 440.2 437.7 442.2 437.1 444.2 436.4 446.2 435.7 448.2 434.9 450.2 434.2 452.2 433.4 454.2 432.5 456.2 431.7 458.2 430.9 460.2 430 462.2 429.1 464.2 428.2 466.2 427.3 468.2 426.4 470.2 425.5 472.2 424.5 474.2 423.6 476.2 422.6 478.2 421.7 480.2 420.8 482.2 419.8 484.2 418.9 486.2 417.9 488.2 417 490.2 416.1 492.2 415.2 494.2 414.3 496.2 413.4 498.2 412.5 500.2 411.6 502.2 410.8 504.2 409.9 506.2 409.1 508.2 408.3 510.2 407.5 512.2 406.8 514.2 406 516.2 405.3 518.2 404.6 520.2 404 522.2 403.4 524.2 402.8 525.5 402.4 527.5 401.8 529.5 401.2 531.5 400.5 533.5 399.9 535.5 399.3 537.5 398.7 539.5 398 541.5 397.4 543.5 396.7 545.5 396.1 547.5 395.4 549.5 394.7 551.5 394 553.5 393.3 555.5 392.6 557.5 391.9 559.5 391.1 561.5 390.4 563.5 389.6 565.5 388.8 567.5 388 569.5 387.2 571.5 386.3 573.5 385.4 575.5 384.5 577.5 383.6 579.5 382.7 581.5 381.7 583.5 380.7 585.5 379.7 587.5 378.6 589.5 377.6 591.5 376.5 593.5 375.4 595.5 374.3 597.5 373.2 599.5 372 601.5 370.9 603.5 369.7 605.5 368.6 607.5 367.4 609.5 366.2 611.5 365.1 613.5 363.9 615.5 362.7 617.5 361.5 619.5 360.3 621.5 359.1 623.5 358 625.5 356.8 627.5 355.6 629.5 354.5 631.5 353.3 633.5 352.2 635.5 351 637.5 349.9 639.5 348.8 641.5 347.7 643.5 346.6 645.5 345.5 647.5 344.5 649.5 343.4 651.5 342.4 653.5 341.4 655.5 340.3 657.5 339.3 659.5 338.3 661.5 337.4 663.5 336.4 665.5 335.4 667.5 334.5 669.5 333.5 671.5 332.6 673.5 331.7 675.5 330.8 677.5 329.9 679.5 329 681.5 328.2 683.5 327.3 685.5 326.5 687.5 325.7 689.5 324.8 691.5 324.1 693.5 323.3 695.5 322.5 697.5 321.8 699.5 321.1 701.5 320.4 703.5 319.8 705.5 319.2 707.5 318.7 709.5 318.1 711.5 317.7 713.5 317.3 715.5 316.9 717.5 316.6 719.5 316.4 721.5 316.2 722.5 316.1"/><path d="M722.5 316.1 724.5 316.1 726.5 316.1 728.5 316.1 730.5 316.1 732.5 316.1 734.5 316.1 736.5 316 738.5 316 740.5 316 742.5 316 744.5 316 746.5 315.9 748.5 315.9 750.5 315.9 752.5 315.9 754.5 315.8 756.5 315.8 758.5 315.8 760.5 315.7 762.5 315.7 764.5 315.6 766.5 315.6 768.5 315.6 770.5 315.5 772.5 315.5 774.5 315.4 776.5 315.4 778.5 315.3 780.5 315.3 782.5 315.2 784.5 315.2 786.5 315.1 788.5 315.1 790.5 315 792.5 315 794.5 314.9 796.5 314.9 798.5 314.8 800.5 314.8 802.5 314.7 804.5 314.6 806.5 314.6 808.5 314.5 810.5 314.5 812.5 314.4 814.5 314.3 816.5 314.3 818.5 314.2 820.5 314.2 822.3 314.1" stroke-dashoffset="2.9"/><path d="M78.2 316.3 80.2 316.2 82.2 316.3 84.2 316.5 86.2 316.7 88.2 317.1 90.2 317.6 92.2 318.2 94.2 318.8 96.2 319.5 98.2 320.3 100.2 321.2 102.2 322.1 104.2 323.1 106.2 324.1 108.2 325.2 110.2 326.3 112.2 327.4 114.2 328.5 116.2 329.7 118.2 330.8 120.2 332 122.2 333.2 124.2 334.3 126.2 335.5 128.2 336.6 130.2 337.8 132.2 338.9 134.2 340 136.2 341.1 138.2 342.1 140.2 343.2 142.2 344.2 144.2 345.2 146.2 346.1 148.2 347 150.2 347.9 152.2 348.8 154.2 349.6 156.2 350.4 158.2 351.1 160.2 351.8 162.2 352.5 164.2 353.1 166.2 353.6 168.2 354.2 170.2 354.7 172.2 355.1 174.2 355.5 176.2 355.9 178.2 356.3 180.2 356.6 182.2 356.8 184.2 357.1 186.2 357.3 188.2 357.5 190.2 357.7 192.2 357.8 194.2 357.9 196.2 358 198.2 358.1 200.2 358.1 202.2 358.1 204.2 358.1 206.2 358.1 208.2 358.1 210.2 358 212.2 358 214.2 357.9 216.2 357.8 218.2 357.7 220.2 357.5 222.2 357.4 224.2 357.3 226.2 357.1 228.2 356.9 230.2 356.8 232.2 356.6 234.2 356.4 236.2 356.3 238.2 356.1 240.2 355.9 242.2 355.7 244.2 355.5 246.2 355.3 248.2 355.2 250.2 355 252.2 354.8 254.2 354.7 256.2 354.5 258.2 354.4 260.2 354.2 262.2 354.1 264.2 354 266.2 353.9 268.2 353.8 270.2 353.7 272.2 353.6 274.2 353.6 276.2 353.5 278.2 353.4 280.2 353.4 282.2 353.3 284.2 353.3 286.2 353.3 288.2 353.2 290.2 353.2 292.2 353.2 294.2 353.2 296.2 353.1 298.2 353.1 300.2 353.1 302.2 353.1 304.2 353.1 306.2 353.1 308.2 353.1 310.2 353 312.2 353 314.2 353 316.2 353 318.2 352.9 320.2 352.9 322.2 352.9 324.2 352.9 326.2 352.8 328.2 352.8 330.2 352.7 332.2 352.6 334.2 352.5 336.2 352.4 338.2 352.3 340.2 352.1 342.2 351.9 344.2 351.7 346.2 351.5 348.2 351.2 350.2 350.9 352.2 350.6 354.2 350.2 356.2 349.8 358.2 349.3 360.2 348.8 362.2 348.3 364.2 347.6 366.2 347 368.2 346.3 370.2 345.5 372.2 344.6 374.2 343.7 376.2 342.8 378.2 341.8 380.2 340.7 382.2 339.5 384.2 338.3 386.2 337.1 388.2 335.8 390.2 334.5 392.2 333.1 394.2 331.6 396.2 330.2 398.2 328.6 400.2 327.1 402.2 325.5 404.2 323.9 406.2 322.2 408.2 320.5 410.2 318.8 412.2 317.1 414.2 315.3 416.2 313.5 418.2 311.7 420.2 309.9 422.2 308 424.2 306.2 426.2 304.3 428.2 302.4 430.2 300.6 432.2 298.7 434.2 296.8 436.2 294.9 438.2 293 440.2 291.1 442.2 289.2 444.2 287.3 446.2 285.4 448.2 283.5 450.2 281.6 452.2 279.7 454.2 277.9 456.2 276.1 458.2 274.2 460.2 272.4 462.2 270.6 464.2 268.9 466.2 267.1 468.2 265.4 470.2 263.7 472.2 262 474.2 260.4 476.2 258.8 478.2 257.2 480.2 255.7 482.2 254.2 484.2 252.8 486.2 251.4 488.2 250.1 490.2 248.8 492.2 247.5 494.2 246.3 496.2 245.2 498.2 244.1 500.2 243.1 502.2 242.1 504.2 241.2 506.2 240.4 508.2 239.6 510.2 238.8 512.2 238.2 514.2 237.6 516.2 237.1 518.2 236.6 520.2 236.2 522.2 235.8 524.2 235.5 526.2 235.2 528.2 235 530.2 234.7 532.2 234.5 534.2 234.3 536.2 234.1 538.2 234 540.2 233.8 542.2 233.6 544.2 233.4 546.2 233.2 548.2 232.9 550.2 232.6 552.2 232.3 554.2 232 556.2 231.6 558.2 231.2 560.2 230.8 562.2 230.3 564.2 229.9 566.2 229.4 568.2 228.9 570.2 228.3 572.2 227.8 574.2 227.3 576.2 226.7 578.2 226.2 580.2 225.6 582.2 225 584.2 224.5 586.2 223.9 588.2 223.3 590.2 222.7 592.2 222.2 594.2 221.6 596.2 221 598.2 220.5 600.2 219.9 602.2 219.3 604.2 218.8 606.2 218.2 608.2 217.7 610.2 217.2 612.2 216.6 614.2 216.1 616.2 215.6 618.2 215.1 620.2 214.6 622.2 214.2 624.2 213.7 626.2 213.3 628.2 212.8 630.2 212.4 632.2 212 634.2 211.6 636.2 211.3 638.2 211 640.2 210.6 642.2 210.3 644.2 210.1 646.2 209.8 648.2 209.6 650.2 209.4 652.2 209.2 654.2 209.1 656.2 208.9 658.2 208.8 660.2 208.7 662.2 208.7 664.2 208.6 666.2 208.6 668.2 208.6 670.2 208.6 672.2 208.6 674.2 208.7 676.2 208.7 678.2 208.8 680.2 208.9 682.2 208.9 684.2 209 686.2 209.1 688.2 209.3 690.2 209.4 692.2 209.5 694.2 209.6 696.2 209.8 698.2 209.9 700.2 210 702.2 210.2 704.2 210.3 706.2 210.4 708.2 210.6 710.2 210.7 712.2 210.8 714.2 210.9 716.2 211 718.2 211.1 720.2 211.2 722.2 211.3 722.5 211.3"/><path d="M722.5 211.3 724.5 211.4 726.5 211.9 728.5 212.8 730.5 214.1 732.5 215.6 734.5 217.5 736.5 219.6 738.5 221.9 740.5 224.4 742.5 227.1 744.5 229.9 746.5 232.8 748.5 235.8 750.5 238.8 752.5 241.9 754.5 245 756.5 248.1 758.5 251.2 760.5 254.4 762.5 257.6 764.5 260.7 766.5 263.9 768.5 267 770.5 270.2 772.5 273.3 774.5 276.4 776.5 279.5 778.5 282.5 780.5 285.5 782.5 288.4 784.5 291.3 786.5 294.2 788.5 297 790.5 299.8 792.5 302.5 794.5 305.1 796.5 307.7 798.5 310.3 800.5 312.8 802.5 315.3 804.5 317.6 806.5 320 808.5 322.3 810.5 324.5 812.5 326.6 814.5 328.7 816.5 330.8 818.5 332.7 820.5 334.6 822.3 336.3" stroke-dashoffset="2.9"/><path d="M78.2 336.3 80.2 336.3 82.2 336.3 84.2 336.3 86.2 336.4 88.2 336.4 90.2 336.5 92.2 336.6 94.2 336.8 96.2 336.9 98.2 337.1 100.2 337.3 102.2 337.5 104.2 337.7 106.2 338 108.2 338.2 110.2 338.5 112.2 338.8 114.2 339.2 116.2 339.5 118.2 339.8 120.2 340.2 122.2 340.6 124.2 341 126.2 341.4 128.2 341.8 130.2 342.3 132.2 342.7 134.2 343.2 136.2 343.7 138.2 344.2 140.2 344.7 142.2 345.2 144.2 345.7 146.2 346.3 148.2 346.8 150.2 347.4 152.2 347.9 154.2 348.5 156.2 349.1 158.2 349.7 160.2 350.3 162.2 350.9 164.2 351.6 166.2 352.2 168.2 352.8 170.2 353.5 172.2 354.1 174.2 354.8 176.2 355.4 178.2 356.1 180.2 356.8 182.2 357.4 184.2 358.1 186.2 358.8 188.2 359.4 190.2 360.1 192.2 360.8 194.2 361.4 196.2 362.1 198.2 362.7 200.2 363.3 202.2 364 204.2 364.6 206.2 365.2 208.2 365.8 210.2 366.4 212.2 366.9 214.2 367.5 216.2 368 218.2 368.6 220.2 369.1 222.2 369.5 224.2 370 226.2 370.5 228.2 370.9 230.2 371.3 232.2 371.7 234.2 372 236.2 372.3 238.2 372.6 240.2 372.9 242.2 373.2 244.2 373.4 246.2 373.6 248.2 373.7 250.2 373.8 252.2 373.9 254.2 374 256.2 374 258.2 374.1 260.2 374.1 262.2 374 264.2 374 266.2 373.9 268.2 373.8 270.2 373.7 272.2 373.6 274.2 373.4 276.2 373.2 278.2 373.1 280.2 372.9 282.2 372.7 284.2 372.5 286.2 372.2 288.2 372 290.2 371.7 292.2 371.5 294.2 371.2 296.2 371 298.2 370.7 300.2 370.4 302.2 370.2 304.2 369.9 306.2 369.6 308.2 369.3 310.2 369.1 312.2 368.8 314.2 368.6 316.2 368.3 318.2 368 320.2 367.8 322.2 367.6 324.2 367.4 326.2 367.1 328.2 366.9 330.2 366.7 332.2 366.5 334.2 366.2 336.2 365.9 338.2 365.6 340.2 365.2 342.2 364.8 344.2 364.4 346.2 363.9 348.2 363.3 350.2 362.7 352.2 362.1 354.2 361.5 356.2 360.9 358.2 360.4 360.2 360 362.2 359.7 364.2 359.4 366.2 359.2 368.2 359 370.2 358.9 372.2 358.9 374.2 358.9 376.2 358.9 378.2 359 380.2 359.1 382.2 359.2 384.2 359.3 386.2 359.5 388.2 359.7 390.2 359.9 392.2 360.1 394.2 360.3 396.2 360.5 398.2 360.8 400.2 361 402.2 361.3 404.2 361.6 406.2 361.9 408.2 362.2 410.2 362.5 412.2 362.9 414.2 363.2 416.2 363.6 418.2 363.9 420.2 364.3 422.2 364.7 424.2 365.1 426.2 365.5 428.2 366 430.2 366.4 432.2 366.9 434.2 367.3 436.2 367.8 438.2 368.3 440.2 368.7 442.2 369.2 444.2 369.7 446.2 370.3 448.2 370.8 450.2 371.3 452.2 371.9 454.2 372.4 456.2 373 458.2 373.5 460.2 374.1 462.2 374.7 464.2 375.3 466.2 375.8 468.2 376.4 470.2 377 472.2 377.5 474.2 378.1 476.2 378.6 478.2 379.1 480.2 379.6 482.2 380.1 484.2 380.5 486.2 380.9 488.2 381.2 490.2 381.6 492.2 381.9 494.2 382.2 496.2 382.5 498.2 382.7 500.2 382.9 502.2 383.1 504.2 383.3 506.2 383.4 508.2 383.5 510.2 383.6 512.2 383.7 514.2 383.8 516.2 383.9 518.2 383.9 520.2 383.9 522.2 383.9 524.2 383.9 526.2 383.9 528.2 383.8 530.2 383.8 532.2 383.7 534.2 383.6 536.2 383.5 538.2 383.4 540.2 383.3 542.2 383.2 544.2 383.1 546.2 382.9 548.2 382.8 550.2 382.6 552.2 382.5 554.2 382.3 556.2 382.1 558.2 381.9 560.2 381.8 562.2 381.6 564.2 381.4 566.2 381.2 568.2 381 570.2 380.8 572.2 380.6 574.2 380.4 576.2 380.2 578.2 380 580.2 379.8 582.2 379.6 584.2 379.4 586.2 379.2 588.2 379 590.2 378.8 592.2 378.7 594.2 378.5 596.2 378.3 598.2 378.2 600.2 378 602.2 377.9 604.2 377.7 606.2 377.6 608.2 377.5 610.2 377.4 612.2 377.3 614.2 377.2 616.2 377.1 618.2 377.1 620.2 377 622.2 377 624.2 376.9 626.2 376.9 628.2 376.9 630.2 376.9 632.2 376.9 634.2 377 636.2 377 638.2 377 640.2 377.1 642.2 377.2 644.2 377.2 646.2 377.3 648.2 377.4 650.2 377.4 652.2 377.5 654.2 377.6 656.2 377.7 658.2 377.8 660.2 377.9 662.2 378 664.2 378.1 666.2 378.3 668.2 378.4 670.2 378.5 672.2 378.6 674.2 378.7 676.2 378.8 678.2 378.9 680.2 379 682.2 379.1 684.2 379.2 686.2 379.4 688.2 379.5 690.2 379.5 692.2 379.6 694.2 379.7 696.2 379.8 698.2 379.9 700.2 380 702.2 380 704.2 380.1 706.2 380.1 708.2 380.2 710.2 380.2 712.2 380.2 714.2 380.2 716.2 380.2 718.2 380.2 720.2 380.2 722.2 380.2 722.5 380.2"/><path d="M722.5 380.2 724.5 380.1 726.5 380 728.5 379.9 730.5 379.7 732.5 379.5 734.5 379.3 736.5 379.1 738.5 378.9 740.5 378.6 742.5 378.3 744.5 378 746.5 377.6 748.5 377.2 750.5 376.8 752.5 376.4 754.5 375.9 756.5 375.4 758.5 374.9 760.5 374.3 762.5 373.7 764.5 373 766.5 372.4 768.5 371.7 770.5 370.9 772.5 370.1 774.5 369.3 776.5 368.5 778.5 367.6 780.5 366.6 782.5 365.7 784.5 364.6 786.5 363.6 788.5 362.5 790.5 361.3 792.5 360.2 794.5 358.9 796.5 357.7 798.5 356.3 800.5 355 802.5 353.6 804.5 352.1 806.5 350.6 808.5 349 810.5 347.4 812.5 345.8 814.5 344.1 816.5 342.3 818.5 340.5 820.5 338.6 822.3 336.9" stroke-dashoffset="2.9"/><path d="M78.2 375.2 80.2 375.1 82.2 375.1 84.2 375 86.2 374.9 88.2 374.9 90.2 374.8 92.2 374.8 94.2 374.8 96.2 374.7 98.2 374.7 100.2 374.7 102.2 374.7 104.2 374.7 106.2 374.7 108.2 374.7 110.2 374.7 112.2 374.7 114.2 374.7 116.2 374.7 118.2 374.8 120.2 374.8 122.2 374.8 124.2 374.9 126.2 374.9 128.2 375 130.2 375.1 132.2 375.1 134.2 375.2 136.2 375.3 138.2 375.4 140.2 375.5 142.2 375.6 144.2 375.7 146.2 375.8 148.2 375.9 150.2 376 152.2 376.2 154.2 376.3 156.2 376.5 158.2 376.6 160.2 376.8 162.2 376.9 164.2 377.1 166.2 377.3 168.2 377.5 170.2 377.7 172.2 378 174.2 378.2 176.2 378.5 178.2 378.7 180.2 379 182.2 379.4 184.2 379.7 186.2 380.1 188.2 380.5 190.2 380.9 192.2 381.3 194.2 381.8 196.2 382.3 198.2 382.8 200.2 383.3 202.2 383.9 204.2 384.5 206.2 385.1 208.2 385.7 210.2 386.3 212.2 387 214.2 387.7 216.2 388.4 218.2 389.2 220.2 389.9 222.2 390.7 224.2 391.5 226.2 392.3 228.2 393.2 230.2 394 232.2 394.9 234.2 395.8 236.2 396.8 238.2 397.7 240.2 398.7 242.2 399.7 244.2 400.6 246.2 401.6 248.2 402.7 250.2 403.7 252.2 404.7 254.2 405.7 256.2 406.7 258.2 407.8 260.2 408.8 262.2 409.8 264.2 410.8 266.2 411.8 268.2 412.8 270.2 413.7 272.2 414.7 274.2 415.7 276.2 416.6 278.2 417.6 280.2 418.5 282.2 419.4 284.2 420.3 286.2 421.1 288.2 422 290.2 422.8 292.2 423.6 294.2 424.4 296.2 425.2 298.2 425.9 300.2 426.6 302.2 427.3 304.2 428 306.2 428.6 308.2 429.2 310.2 429.7 312.2 430.3 314.2 430.8 316.2 431.2 318.2 431.6 320.2 432 322.2 432.4 324.2 432.7 326.2 432.9 328.2 433.1 330.2 433.3 332.2 433.4 334.2 433.5 336.2 433.5 337.1 433.5 339.1 432.1 341.1 430.7 343.1 429.5 345.1 428.3 347.1 427.1 349.1 426 351.1 425 353.1 424 355.1 423 357.1 422.1 359.1 421.2 361.1 420.3 363.1 419.5 365.1 418.7 367.1 417.9 369.1 417.1 371.1 416.3 373.1 415.5 375.1 414.7 377.1 413.9 379.1 413.1 381.1 412.3 383.1 411.5 385.1 410.6 387.1 409.8 389.1 408.9 391.1 408 393.1 407.1 395.1 406.3 397.1 405.4 399.1 404.5 401.1 403.6 403.1 402.7 405.1 401.8 407.1 400.9 409.1 400 411.1 399.1 413.1 398.2 415.1 397.4 417.1 396.5 419.1 395.7 421.1 394.8 423.1 394 425.1 393.2 427.1 392.4 429.1 391.6 431.1 390.9 433.1 390.1 435.1 389.4 437.1 388.7 439.1 388 441.1 387.3 443.1 386.6 445.1 386 447.1 385.3 449.1 384.7 451.1 384.1 453.1 383.5 455.1 382.9 457.1 382.3 459.1 381.8 461.1 381.2 463.1 380.7 465.1 380.2 467.1 379.7 469.1 379.2 471.1 378.7 473.1 378.2 475.1 377.8 477.1 377.4 479.1 377 481.1 376.6 483.1 376.2 485.1 375.8 487.1 375.5 489.1 375.2 491.1 374.9 493.1 374.7 495.1 374.4 497.1 374.2 499.1 374.1 501.1 373.9 503.1 373.8 505.1 373.7 507.1 373.6 509.1 373.6 511.1 373.6 513.1 373.6 515.1 373.6 517.1 373.6 519.1 373.6 521.1 373.7 523.1 373.7 525.1 373.8 527.1 373.9 529.1 374 531.1 374 533.1 374.1 535.1 374.2 537.1 374.3 539.1 374.3 541.1 374.4 543.1 374.4 545.1 374.5 547.1 374.5 549.1 374.5 551.1 374.5 553.1 374.5 555.1 374.4 557.1 374.4 559.1 374.3 561.1 374.1 563.1 374 565.1 373.8 567.1 373.6 569.1 373.4 571.1 373.1 573.1 372.9 575.1 372.6 577.1 372.2 579.1 371.9 581.1 371.5 583.1 371.1 585.1 370.7 587.1 370.3 589.1 369.8 591.1 369.4 593.1 368.9 595.1 368.4 597.1 367.8 599.1 367.3 601.1 366.7 603.1 366.2 605.1 365.6 607.1 364.9 609.1 364.3 611.1 363.7 613.1 363 615.1 362.3 617.1 361.5 619.1 360.8 621.1 360 623.1 359.3 625.1 358.5 627.1 357.6 629.1 356.8 631.1 356 633.1 355.2 635.1 354.4 637.1 353.5 639.1 352.7 641.1 351.9 643.1 351.1 645.1 350.3 647.1 349.6 649.1 348.8 651.1 348.1 653.1 347.4 655.1 346.8 657.1 346.1 659.1 345.5 661.1 345 663.1 344.4 665.1 343.9 667.1 343.4 669.1 343 671.1 342.5 673.1 342.1 675.1 341.7 677.1 341.4 679.1 341 681.1 340.7 683.1 340.4 685.1 340.1 687.1 339.8 689.1 339.6 691.1 339.3 693.1 339.1 695.1 338.8 697.1 338.6 699.1 338.4 701.1 338.2 703.1 338 705.1 337.8 707.1 337.6 709.1 337.4 711.1 337.2 713.1 337.1 715.1 336.9 717.1 336.7 719.1 336.5 721.1 336.3 722.5 336.2"/><path d="M722.5 336.2 822.3 336.3" stroke-dashoffset="2.9"/><path d="M78.2 380.2 80.2 380.2 82.2 380.2 84.2 380.2 86.2 380.2 88.2 380.1 90.2 380 92.2 379.9 94.2 379.8 96.2 379.7 98.2 379.6 100.2 379.4 102.2 379.3 104.2 379.1 106.2 378.9 108.2 378.7 110.2 378.6 112.2 378.4 114.2 378.2 116.2 378 118.2 377.9 120.2 377.7 122.2 377.5 124.2 377.4 126.2 377.2 128.2 377.1 130.2 377 132.2 376.9 134.2 376.8 136.2 376.8 138.2 376.7 140.2 376.7 142.2 376.7 144.2 376.8 146.2 376.8 148.2 376.9 150.2 377 152.2 377.2 154.2 377.4 156.2 377.6 158.2 377.9 160.2 378.2 162.2 378.6 164.2 378.9 166.2 379.4 168.2 379.9 170.2 380.4 172.2 381 174.2 381.6 176.2 382.3 178.2 383 180.2 383.7 182.2 384.5 184.2 385.3 186.2 386.2 188.2 387.1 190.2 388 192.2 388.9 194.2 389.8 196.2 390.8 198.2 391.7 200.2 392.7 202.2 393.7 204.2 394.7 206.2 395.7 208.2 396.7 210.2 397.7 212.2 398.6 214.2 399.6 216.2 400.6 218.2 401.6 220.2 402.5 222.2 403.5 224.2 404.5 226.2 405.4 228.2 406.3 230.2 407.3 232.2 408.2 234.2 409.1 236.2 410 238.2 410.9 240.2 411.8 242.2 412.7 244.2 413.6 246.2 414.5 248.2 415.3 250.2 416.2 252.2 417 254.2 417.8 256.2 418.6 258.2 419.4 260.2 420.2 262.2 421 264.2 421.7 266.2 422.5 268.2 423.2 270.2 423.9 272.2 424.6 274.2 425.3 276.2 425.9 278.2 426.6 280.2 427.2 282.2 427.8 284.2 428.4 286.2 429 288.2 429.6 290.2 430.1 292.2 430.6 294.2 431.1 296.2 431.6 298.2 432.1 300.2 432.5 302.2 432.9 304.2 433.3 306.2 433.7 308.2 434.1 310.2 434.4 312.2 434.7 314.2 435 316.2 435.3 318.2 435.5 320.2 435.8 322.2 436 324.2 436.1 326.2 436.3 328.2 436.4 330.2 436.5 332.2 436.6 334.2 436.6 336.2 436.7 338.2 436.7 340.2 436.6 342.2 436.6 344.2 436.5 346.2 436.4 348.2 436.2 350.2 436 352.2 435.8 354.2 435.6 356.2 435.4 358.2 435.1 360.2 434.7 362.2 434.4 364.2 434 366.2 433.6 368.2 433.2 370.2 432.7 372.2 432.2 374.2 431.6 376.2 431.1 378.2 430.5 380.2 429.8 382.2 429.2 384.2 428.5 386.2 427.8 388.2 427 390.2 426.3 392.2 425.5 394.2 424.6 396.2 423.8 398.2 422.9 400.2 422 402.2 421.1 404.2 420.1 406.2 419.1 408.2 418.1 410.2 417.1 412.2 416.1 414.2 415.1 416.2 414 418.2 413 420.2 411.9 422.2 410.9 424.2 409.8 426.2 408.8 428.2 407.7 430.2 406.7 432.2 405.7 434.2 404.7 436.2 403.7 438.2 402.8 440.2 401.8 442.2 400.9 444.2 400 446.2 399.1 448.2 398.3 450.2 397.5 452.2 396.7 454.2 396 456.2 395.3 458.2 394.6 460.2 394 462.2 393.4 464.2 392.9 466.2 392.4 468.2 392 470.2 391.6 472.2 391.2 474.2 391 476.2 390.7 478.2 390.6 480.2 390.5 482.2 390.4 484.2 390.4 486.2 390.5 488.2 390.6 490.2 390.8 492.2 391.1 494.2 391.4 496.2 391.8 498.2 392.2 500.2 392.7 502.2 393.3 504.2 393.9 506.2 394.5 508.2 395.2 510.2 396 512.2 396.8 514.2 397.7 516.2 398.7 518.2 399.6 520.2 400.6 522.2 401.7 524.2 402.8 526.2 403.9 528.2 405.1 530.2 406.3 532.2 407.6 534.2 408.8 536.2 410.1 538.2 411.4 540.2 412.7 542.2 414.1 544.2 415.4 546.2 416.8 548.2 418.1 550.2 419.5 552.2 420.9 554.2 422.3 556.2 423.7 558.2 425 560.2 426.4 562.2 427.8 564.2 429.1 566.2 430.5 568.2 431.8 570.2 433.2 572.2 434.5 574.2 435.8 576.2 437.1 578.2 438.3 580.2 439.6 582.2 440.8 584.2 442 586.2 443.2 588.2 444.3 590.2 445.5 592.2 446.6 594.2 447.7 596.2 448.8 598.2 449.8 600.2 450.9 602.2 451.9 604.2 453 606.2 454 608.2 454.9 610.2 455.9 612.2 456.9 614.2 457.8 616.2 458.7 618.2 459.6 620.2 460.5 622.2 461.4 624.2 462.3 626.2 463.1 628.2 464 630.2 464.8 632.2 465.6 634.2 466.4 636.2 467.2 638.2 468 640.2 468.8 642.2 469.5 644.2 470.3 646.2 471 648.2 471.7 650.2 472.5 652.2 473.2 654.2 473.9 656.2 474.6 658.2 475.2 660.2 475.9 662.2 476.6 664.2 477.2 666.2 477.8 668.2 478.5 670.2 479.1 672.2 479.7 674.2 480.3 676.2 480.8 678.2 481.4 680.2 481.9 682.2 482.4 684.2 482.9 686.2 483.4 688.2 483.9 690.2 484.3 692.2 484.8 694.2 485.2 696.2 485.6 698.2 485.9 700.2 486.3 702.2 486.6 704.2 486.9 706.2 487.2 708.2 487.4 710.2 487.6 712.2 487.8 714.2 488 716.2 488.1 718.2 488.3 720.2 488.3 722.2 488.4 722.5 488.4"/><path d="M722.5 488.4 822.3 488.4" stroke-dashoffset="2.9"/><path d="M78.2 463.3 80.2 463.3 82.2 463.2 84.2 463.2 86.2 463.3 88.2 463.3 90.2 463.3 92.2 463.4 94.2 463.5 96.2 463.6 98.2 463.8 100.2 463.9 102.2 464.1 104.2 464.2 106.2 464.4 108.2 464.6 110.2 464.8 112.2 465.1 114.2 465.3 116.2 465.6 118.2 465.8 120.2 466.1 122.2 466.4 124.2 466.7 126.2 467 128.2 467.3 130.2 467.6 132.2 467.9 134.2 468.3 136.2 468.6 138.2 468.9 140.2 469.3 142.2 469.6 144.2 470 146.2 470.3 148.2 470.7 150.2 471.1 152.2 471.4 154.2 471.8 156.2 472.2 158.2 472.5 160.2 472.9 162.2 473.2 164.2 473.6 166.2 474 168.2 474.3 170.2 474.7 172.2 475 174.2 475.3 176.2 475.7 178.2 476 180.2 476.3 182.2 476.7 184.2 477 186.2 477.3 188.2 477.5 190.2 477.8 192.2 478.1 194.2 478.4 196.2 478.6 198.2 478.8 200.2 479.1 202.2 479.3 204.2 479.5 206.2 479.7 208.2 479.8 210.2 480 212.2 480.1 214.2 480.3 216.2 480.4 218.2 480.5 220.2 480.5 222.2 480.6 224.2 480.6 226.2 480.6 228.2 480.6 230.2 480.6 232.2 480.5 234.2 480.5 236.2 480.4 238.2 480.3 240.2 480.1 242.2 479.9 244.2 479.7 246.2 479.5 248.2 479.2 250.2 478.9 252.2 478.5 254.2 478.2 256.2 477.7 258.2 477.2 260.2 476.7 262.2 476.1 264.2 475.5 266.2 474.8 268.2 474.1 270.2 473.3 272.2 472.5 274.2 471.5 276.2 470.6 278.2 469.5 280.2 468.4 282.2 467.3 284.2 466 286.2 464.7 288.2 463.3 290.2 461.9 292.2 460.5 294.2 459 296.2 457.5 298.2 456 300.2 454.6 302.2 453.2 304.2 451.9 306.2 450.6 308.2 449.4 310.2 448.4 312.2 447.4 314.2 446.6 316.2 445.9 318.2 445.2 320.2 444.7 322.2 444.2 324.2 443.8 326.2 443.4 328.2 443.1 330.2 442.9 332.2 442.7 334.2 442.5 336.2 442.4 337.1 442.3 339.1 443 341.1 443.7 343.1 444.5 345.1 445.3 347.1 446.2 349.1 447.1 351.1 448 353.1 449 355.1 450.1 357.1 451.1 359.1 452.2 361.1 453.3 363.1 454.4 365.1 455.6 367.1 456.8 369.1 458 371.1 459.2 373.1 460.4 375.1 461.6 377.1 462.9 379.1 464.1 381.1 465.3 383.1 466.6 385.1 467.8 387.1 469 389.1 470.3 391.1 471.5 393.1 472.7 395.1 473.8 397.1 475 399.1 476.1 401.1 477.3 403.1 478.4 405.1 479.5 407.1 480.6 409.1 481.6 411.1 482.7 413.1 483.7 415.1 484.7 417.1 485.7 419.1 486.7 421.1 487.6 423.1 488.5 425.1 489.4 427.1 490.3 429.1 491.2 431.1 492 433.1 492.8 435.1 493.6 437.1 494.4 439.1 495.1 441.1 495.9 443.1 496.6 445.1 497.2 447.1 497.9 449.1 498.5 451.1 499.1 453.1 499.7 455.1 500.3 457.1 500.8 459.1 501.4 461.1 501.9 463.1 502.4 465.1 502.8 467.1 503.3 469.1 503.7 471.1 504.2 473.1 504.6 475.1 505 477.1 505.3 479.1 505.7 481.1 506.1 483.1 506.4 485.1 506.7 487.1 507.1 489.1 507.4 491.1 507.7 493.1 508 495.1 508.2 497.1 508.5 499.1 508.7 501.1 509 503.1 509.2 505.1 509.4 507.1 509.6 509.1 509.8 511.1 509.9 513.1 510 515.1 510.2 517.1 510.3 519.1 510.3 521.1 510.4 523.1 510.4 525.1 510.4 525.5 510.4 527.5 509.8 529.5 509.3 531.5 508.7 533.5 508.1 535.5 507.5 537.5 506.9 539.5 506.3 541.5 505.7 543.5 505.1 545.5 504.4 547.5 503.8 549.5 503.1 551.5 502.5 553.5 501.8 555.5 501.2 557.5 500.5 559.5 499.8 561.5 499.2 563.5 498.5 565.5 497.8 567.5 497.1 569.5 496.5 571.5 495.8 573.5 495.1 575.5 494.4 577.5 493.7 579.5 493 581.5 492.4 583.5 491.7 585.5 491 587.5 490.3 589.5 489.6 591.5 488.9 593.5 488.3 595.5 487.6 597.5 486.9 599.5 486.3 601.5 485.6 603.5 485 605.5 484.3 607.5 483.7 609.5 483 611.5 482.4 613.5 481.8 615.5 481.2 617.5 480.5 619.5 479.9 621.5 479.3 623.5 478.8 625.5 478.2 627.5 477.6 629.5 477.1 631.5 476.5 633.5 476 635.5 475.5 637.5 474.9 639.5 474.4 641.5 473.9 643.5 473.5 645.5 473 647.5 472.6 649.5 472.1 651.5 471.7 653.5 471.3 655.5 470.9 657.5 470.5 659.5 470.1 661.5 469.8 663.5 469.4 665.5 469.1 667.5 468.8 669.5 468.4 671.5 468.1 673.5 467.8 675.5 467.6 677.5 467.3 679.5 467 681.5 466.8 683.5 466.5 685.5 466.3 687.5 466.1 689.5 465.9 691.5 465.7 693.5 465.5 695.5 465.3 697.5 465.1 699.5 464.9 701.5 464.8 703.5 464.6 705.5 464.5 707.5 464.3 709.5 464.2 711.5 464.1 713.5 463.9 715.5 463.8 717.5 463.7 719.5 463.6 721.5 463.5"/><path d="M723.5 463.4 725.5 463.4 727.5 463.3 729.5 463.2 731.5 463.1 733.5 463.1 735.5 463 737.5 463 739.5 462.9 741.5 462.9 743.5 462.8 745.5 462.8 747.5 462.8 749.5 462.7 751.5 462.7 753.5 462.7 755.5 462.7 757.5 462.6 759.5 462.6 761.5 462.6 763.5 462.6 765.5 462.6 767.5 462.6 769.5 462.6 771.5 462.6 773.5 462.6 775.5 462.6 777.5 462.5 779.5 462.5 781.5 462.5 783.5 462.5 785.5 462.5 787.5 462.5 789.5 462.5 791.5 462.5 793.5 462.5 795.5 462.5 797.5 462.5 799.5 462.5 801.5 462.4 803.5 462.4 805.5 462.4 807.5 462.4 809.5 462.3 811.5 462.3 813.5 462.3 815.5 462.3 817.5 462.2 819.5 462.2 821.5 462.1 822.3 462.1" stroke-dasharray="9.7 1.7" stroke-dashoffset="2"/><path d="M78.2 463.3 80.2 463 82.2 462.8 84.2 462.8 86.2 462.9 88.2 463.1 90.2 463.4 92.2 463.8 94.2 464.3 96.2 465 98.2 465.7 100.2 466.6 102.2 467.5 104.2 468.5 106.2 469.6 108.2 470.8 110.2 472.1 112.2 473.4 114.2 474.8 116.2 476.3 118.2 477.8 120.2 479.4 122.2 481 124.2 482.7 126.2 484.5 128.2 486.3 130.2 488.1 132.2 489.9 134.2 491.8 136.2 493.8 138.2 495.7 140.2 497.7 142.2 499.7 144.2 501.7 146.2 503.8 148.2 505.8 150.2 507.9 152.2 510 154.2 512.2 156.2 514.3 158.2 516.4 160.2 518.6 162.2 520.8 164.2 522.9 166.2 525.1 168.2 527.3 170.2 529.5 172.2 531.7 174.2 533.9 176.2 536.1 178.2 538.2 180.2 540.4 182.2 542.6 184.2 544.8 186.2 546.9 188.2 549.1 190.2 551.2 192.2 553.3 194.2 555.4 196.2 557.5 198.2 559.6 200.2 561.7 202.2 563.8 204.2 565.8 206.2 567.9 208.2 569.9 210.2 571.9 212.2 573.9 214.2 575.9 216.2 577.8 218.2 579.8 220.2 581.7 222.2 583.6 224.2 585.5 226.2 587.4 228.2 589.3 230.2 591.1 232.2 592.9 234.2 594.8 236.2 596.5 238.2 598.3 240.2 600 242.2 601.8 244.2 603.5 246.2 605.1 248.2 606.8 250.2 608.4 252.2 610 254.2 611.5 256.2 613.1 258.2 614.6 260.2 616 262.2 617.5 264.2 618.9 266.2 620.2 268.2 621.6 270.2 622.9 272.2 624.2 274.2 625.4 276.2 626.6 278.2 627.7 280.2 628.8 282.2 629.9 284.2 630.9 286.2 631.9 288.2 632.8 290.2 633.7 292.2 634.6 294.2 635.4 296.2 636.2 298.2 636.9 300.2 637.6 302.2 638.3 304.2 638.9 306.2 639.4 308.2 640 310.2 640.5 312.2 641 314.2 641.4 316.2 641.8 318.2 642.1 320.2 642.5 322.2 642.8 324.2 643 326.2 643.3 328.2 643.4 330.2 643.6 332.2 643.7 334.2 643.9 336.2 643.9 338.2 644 340.2 644 342.2 644 344.2 643.9 346.2 643.9 348.2 643.8 350.2 643.7 352.2 643.5 354.2 643.3 356.2 643.2 358.2 642.9 360.2 642.7 362.2 642.4 364.2 642.2 366.2 641.9 368.2 641.5 370.2 641.2 372.2 640.8 374.2 640.4 376.2 640 378.2 639.6 380.2 639.2 382.2 638.7 384.2 638.2 386.2 637.8 388.2 637.3 390.2 636.7 392.2 636.2 394.2 635.7 396.2 635.1 398.2 634.5 400.2 634 402.2 633.4 404.2 632.8 406.2 632.2 408.2 631.6 410.2 631 412.2 630.4 414.2 629.8 416.2 629.1 418.2 628.5 420.2 627.9 422.2 627.3 424.2 626.7 426.2 626.1 428.2 625.5 430.2 624.9 432.2 624.3 434.2 623.7 436.2 623.1 438.2 622.5 440.2 621.9 442.2 621.4 444.2 620.8 446.2 620.3 448.2 619.8 450.2 619.3 452.2 618.8 454.2 618.3 456.2 617.9 458.2 617.4 460.2 617 462.2 616.6 464.2 616.2 466.2 615.8 468.2 615.5 470.2 615.2 472.2 614.9 474.2 614.6 476.2 614.4 478.2 614.2 480.2 614 482.2 613.8 484.2 613.7 486.2 613.5 488.2 613.4 490.2 613.3 492.2 613.3 494.2 613.2 496.2 613.2 498.2 613.1 500.2 613.1 502.2 613.1 504.2 613 506.2 613 508.2 613 510.2 613 512.2 613 514.2 613 516.2 612.9 518.2 612.9 520.2 612.9 522.2 612.8 524.2 612.8 526.2 612.7 528.2 612.7 530.2 612.6 532.2 612.5 534.2 612.4 536.2 612.2 538.2 612 540.2 611.9 542.2 611.6 544.2 611.4 546.2 611.1 548.2 610.8 550.2 610.4 552.2 610.1 554.2 609.6 556.2 609.2 558.2 608.7 560.2 608.1 562.2 607.5 564.2 606.8 566.2 606.1 568.2 605.4 570.2 604.6 572.2 603.7 574.2 602.7 576.2 601.7 578.2 600.7 580.2 599.6 582.2 598.4 584.2 597.2 586.2 596 588.2 594.7 590.2 593.4 592.2 592.1 594.2 590.8 596.2 589.5 598.2 588.2 600.2 586.9 602.2 585.6 604.2 584.4 606.2 583.2 608.2 582 610.2 580.8 612.2 579.7 614.2 578.7 616.2 577.7 618.2 576.8 620.2 575.9 622.2 575.1 624.2 574.3 626.2 573.6 628.2 572.9 630.2 572.3 632.2 571.8 634.2 571.4 636.2 571 638.2 570.7 640.2 570.4 642.2 570.2 644.2 570.1 646.2 570.1 648.2 570.1 650.2 570.2 652.2 570.3 654.2 570.4 656.2 570.6 658.2 570.8 660.2 571.1 662.2 571.4 664.2 571.7 666.2 572 668.2 572.3 670.2 572.6 672.2 572.9 674.2 573.2 676.2 573.5 678.2 573.8 680.2 574.1 682.2 574.3 684.2 574.6 686.2 574.8 688.2 574.9 690.2 575.1 692.2 575.2 694.2 575.4 696.2 575.5 698.2 575.6 700.2 575.6 702.2 575.7 704.2 575.8 706.2 575.9 708.2 575.9 710.2 576 712.2 576 714.2 576.1 716.2 576.1 718.2 576.1 720.2 576.2 722.2 576.3"/><path d="M724.2 576.3 726.2 576.4 728.2 576.5 730.2 576.6 732.2 576.7 734.2 576.8 736.2 576.9 738.2 577.1 740.2 577.2 742.2 577.4 744.2 577.6 746.2 577.8 748.2 578 750.2 578.3 752.2 578.5 754.2 578.8 756.2 579.1 758.2 579.3 760.2 579.7 762.2 580 764.2 580.3 766.2 580.6 768.2 581 770.2 581.4 772.2 581.7 774.2 582.1 776.2 582.5 778.2 582.9 780.2 583.4 782.2 583.8 784.2 584.2 786.2 584.7 788.2 585.2 790.2 585.6 792.2 586.1 794.2 586.6 796.2 587.1 798.2 587.6 800.2 588.1 802.2 588.6 804.2 589.1 806.2 589.5 808.2 590 810.2 590.4 812.2 590.8 814.2 591.2 816.2 591.6 818.2 591.9 820.2 592.2 822.2 592.4 822.3 592.4" stroke-dashoffset="2.9"/><path d="M78.2 488.9 80.2 489 82.2 489.1 84.2 489.1 86.2 489.1 88.2 489.1 90.2 489 92.2 488.9 94.2 488.8 96.2 488.7 98.2 488.5 100.2 488.3 102.2 488.1 104.2 487.8 106.2 487.6 108.2 487.3 110.2 487 112.2 486.6 114.2 486.3 116.2 485.9 118.2 485.5 120.2 485.1 122.2 484.7 124.2 484.2 126.2 483.8 128.2 483.3 130.2 482.8 132.2 482.3 134.2 481.7 136.2 481.2 138.2 480.6 140.2 480.1 142.2 479.5 144.2 478.9 146.2 478.3 148.2 477.7 150.2 477.1 152.2 476.5 154.2 475.9 156.2 475.2 158.2 474.6 160.2 473.9 162.2 473.3 164.2 472.6 166.2 472 168.2 471.3 170.2 470.6 172.2 470 174.2 469.3 176.2 468.6 178.2 468 180.2 467.3 182.2 466.6 184.2 466 186.2 465.3 188.2 464.7 190.2 464 192.2 463.4 194.2 462.7 196.2 462.1 198.2 461.5 200.2 460.9 202.2 460.3 204.2 459.7 206.2 459.1 208.2 458.5 210.2 458 212.2 457.4 214.2 456.9 216.2 456.3 218.2 455.8 220.2 455.3 222.2 454.9 224.2 454.4 226.2 454 228.2 453.5 230.2 453.1 232.2 452.7 234.2 452.3 236.2 451.9 238.2 451.6 240.2 451.2 242.2 450.9 244.2 450.5 246.2 450.2 248.2 449.9 250.2 449.6 252.2 449.3 254.2 449 256.2 448.8 258.2 448.5 260.2 448.3 262.2 448 264.2 447.8 266.2 447.6 268.2 447.4 270.2 447.2 272.2 447 274.2 446.8 276.2 446.6 278.2 446.4 280.2 446.2 282.2 446 284.2 445.9 286.2 445.7 288.2 445.5 290.2 445.4 292.2 445.2 294.2 445.1 296.2 445 298.2 444.8 300.2 444.7 302.2 444.6 304.2 444.5 306.2 444.3 308.2 444.2 310.2 444.1 312.2 444 314.2 444 316.2 443.9 318.2 443.8 320.2 443.8 322.2 443.7 324.2 443.7 326.2 443.6 328.2 443.6 330.2 443.6 332.2 443.6 334.2 443.6 336.2 443.6 338.2 443.6 340.2 443.6 342.2 443.6 344.2 443.7 346.2 443.7 348.2 443.8 350.2 443.8 352.2 443.9 354.2 444 356.2 444 358.2 444.1 360.2 444.2 362.2 444.2 364.2 444.3 366.2 444.4 368.2 444.4 370.2 444.5 372.2 444.6 374.2 444.6 376.2 444.7 378.2 444.7 380.2 444.7 382.2 444.7 384.2 444.7 386.2 444.7 388.2 444.7 390.2 444.7 392.2 444.7 394.2 444.6 396.2 444.6 398.2 444.5 400.2 444.4 402.2 444.3 404.2 444.1 406.2 444 408.2 443.8 410.2 443.6 412.2 443.4 414.2 443.2 416.2 443 418.2 442.7 420.2 442.5 422.2 442.2 424.2 441.9 426.2 441.6 428.2 441.3 430.2 440.9 432.2 440.5 434.2 440.2 436.2 439.8 438.2 439.4 440.2 438.9 442.2 438.5 444.2 438 446.2 437.6 448.2 437.1 450.2 436.6 452.2 436.1 454.2 435.6 456.2 435.1 458.2 434.6 460.2 434.1 462.2 433.6 464.2 433.1 466.2 432.5 468.2 432 470.2 431.5 472.2 431 474.2 430.5 476.2 430 478.2 429.5 480.2 429 482.2 428.5 484.2 428 486.2 427.5 488.2 427.1 490.2 426.6 492.2 426.2 494.2 425.7 496.2 425.3 498.2 424.9 500.2 424.6 502.2 424.2 504.2 423.9 506.2 423.5 508.2 423.2 510.2 423 512.2 422.7 514.2 422.5 516.2 422.3 518.2 422.1 520.2 422 522.2 421.8 524.2 421.7 525.5 421.7 527.5 420.6 529.5 419.5 531.5 418.3 533.5 417 535.5 415.8 537.5 414.4 539.5 413 541.5 411.6 543.5 410.2 545.5 408.7 547.5 407.2 549.5 405.6 551.5 404.1 553.5 402.5 555.5 401 557.5 399.4 559.5 397.8 561.5 396.2 563.5 394.7 565.5 393.1 567.5 391.6 569.5 390 571.5 388.5 573.5 387.1 575.5 385.6 577.5 384.2 579.5 382.8 581.5 381.5 583.5 380.2 585.5 378.9 587.5 377.7 589.5 376.5 591.5 375.3 593.5 374.2 595.5 373.1 597.5 372 599.5 370.9 601.5 369.9 603.5 368.9 605.5 368 607.5 367 609.5 366.1 611.5 365.2 613.5 364.3 615.5 363.4 617.5 362.5 619.5 361.7 621.5 360.9 623.5 360 625.5 359.2 627.5 358.4 629.5 357.6 631.5 356.9 633.5 356.1 635.5 355.3 637.5 354.5 639.5 353.7 641.5 352.9 643.5 352.1 645.5 351.3 647.5 350.5 649.5 349.7 651.5 348.8 653.5 347.9 655.5 347 657.5 346.1 659.5 345.2 661.5 344.2 663.5 343.2 665.5 342.2 667.5 341.1 669.5 340 671.5 338.9 673.5 337.7 675.5 336.5 677.5 335.4 679.5 334.2 681.5 332.9 683.5 331.7 685.5 330.5 687.5 329.3 689.5 328.1 691.5 326.9 693.5 325.8 695.5 324.7 697.5 323.6 699.5 322.5 701.5 321.5 703.5 320.6 705.5 319.8 707.5 319 709.5 318.3 711.5 317.6 713.5 317.1 715.5 316.7 717.5 316.4 719.5 316.2 721.5 316.1 722.5 316.1"/><path d="M78.2 532.8 80.2 532.8 82.2 532.8 84.2 532.8 86.2 532.8 88.2 532.7 90.2 532.7 92.2 532.6 94.2 532.5 96.2 532.5 98.2 532.4 100.2 532.2 102.2 532.1 104.2 532 106.2 531.9 108.2 531.7 110.2 531.6 112.2 531.4 114.2 531.2 116.2 531 118.2 530.8 120.2 530.6 122.2 530.4 124.2 530.2 126.2 530 128.2 529.8 130.2 529.5 132.2 529.3 134.2 529 136.2 528.8 138.2 528.5 140.2 528.2 142.2 527.9 144.2 527.6 146.2 527.4 148.2 527.1 150.2 526.8 152.2 526.5 154.2 526.2 156.2 525.8 158.2 525.5 160.2 525.2 162.2 524.9 164.2 524.6 166.2 524.2 168.2 523.9 170.2 523.6 172.2 523.2 174.2 522.9 176.2 522.5 178.2 522.2 180.2 521.9 182.2 521.5 184.2 521.2 186.2 520.8 188.2 520.5 190.2 520.1 192.2 519.8 194.2 519.4 196.2 519.1 198.2 518.7 200.2 518.4 202.2 518 204.2 517.7 206.2 517.4 208.2 517 210.2 516.7 212.2 516.4 214.2 516 216.2 515.7 218.2 515.4 220.2 515 222.2 514.7 224.2 514.4 226.2 514.1 228.2 513.8 230.2 513.5 232.2 513.2 234.2 512.9 236.2 512.6 238.2 512.3 240.2 512 242.2 511.8 244.2 511.5 246.2 511.2 248.2 511 250.2 510.7 252.2 510.4 254.2 510.2 256.2 510 258.2 509.7 260.2 509.5 262.2 509.3 264.2 509 266.2 508.8 268.2 508.6 270.2 508.4 272.2 508.2 274.2 508 276.2 507.8 278.2 507.6 280.2 507.5 282.2 507.3 284.2 507.1 286.2 507 288.2 506.8 290.2 506.7 292.2 506.6 294.2 506.4 296.2 506.3 298.2 506.2 300.2 506.1 302.2 506 304.2 505.9 306.2 505.8 308.2 505.8 310.2 505.7 312.2 505.6 314.2 505.6 316.2 505.5 318.2 505.5 320.2 505.5 322.2 505.5 324.2 505.5 326.2 505.5 328.2 505.5 330.2 505.5 332.2 505.5 334.2 505.5 336.2 505.6 337.1 505.6 339.1 505.9 341.1 506.3 343.1 506.7 345.1 507.1 347.1 507.5 349.1 508 351.1 508.4 353.1 508.9 355.1 509.4 357.1 509.9 359.1 510.4 361.1 510.9 363.1 511.4 365.1 512 367.1 512.5 369.1 513.1 371.1 513.6 373.1 514.2 375.1 514.7 377.1 515.3 379.1 515.9 381.1 516.4 383.1 517 385.1 517.6 387.1 518.1 389.1 518.7 391.1 519.2 393.1 519.8 395.1 520.3 397.1 520.9 399.1 521.4 401.1 521.9 403.1 522.4 405.1 522.9 407.1 523.3 409.1 523.8 411.1 524.2 413.1 524.6 415.1 525 417.1 525.4 419.1 525.8 421.1 526.1 423.1 526.4 425.1 526.7 427.1 527 429.1 527.3 431.1 527.5 433.1 527.8 435.1 528 437.1 528.2 439.1 528.4 441.1 528.5 443.1 528.7 445.1 528.8 447.1 529 449.1 529.1 451.1 529.2 453.1 529.3 455.1 529.4 457.1 529.4 459.1 529.5 461.1 529.5 463.1 529.6 465.1 529.6 467.1 529.6 469.1 529.6 471.1 529.6 473.1 529.6 475.1 529.6 477.1 529.6 479.1 529.6 481.1 529.5 483.1 529.5 485.1 529.4 487.1 529.4 489.1 529.3 491.1 529.3 493.1 529.2 495.1 529.2 497.1 529.1 499.1 529 501.1 529 503.1 528.9 505.1 528.8 507.1 528.8 509.1 528.7 511.1 528.6 513.1 528.6 515.1 528.5 517.1 528.4 519.1 528.4 521.1 528.3 523.1 528.3 525.1 528.2 525.5 528.2 527.5 528.6 529.5 529.2 531.5 529.7 533.5 530.4 535.5 531.1 537.5 531.8 539.5 532.6 541.5 533.5 543.5 534.3 545.5 535.3 547.5 536.2 549.5 537.2 551.5 538.3 553.5 539.3 555.5 540.4 557.5 541.5 559.5 542.6 561.5 543.8 563.5 544.9 565.5 546.1 567.5 547.2 569.5 548.4 571.5 549.5 573.5 550.7 575.5 551.8 577.5 553 579.5 554.1 581.5 555.2 583.5 556.3 585.5 557.3 587.5 558.4 589.5 559.4 591.5 560.3 593.5 561.3 595.5 562.1 597.5 563 599.5 563.8 601.5 564.5 603.5 565.2 605.5 565.8 607.5 566.3 609.5 566.8 611.5 567.2 613.5 567.5 615.5 567.8 617.5 567.9 619.5 568 621.5 568 623.5 567.9 625.5 567.7 627.5 567.4 629.5 567 631.5 566.5 633.5 565.9 635.5 565.2 637.5 564.4 639.5 563.5 641.5 562.6 643.5 561.6 645.5 560.6 647.5 559.5 649.5 558.4 651.5 557.2 653.5 556.1 655.5 554.9 657.5 553.6 659.5 552.4 661.5 551.2 663.5 550 665.5 548.8 667.5 547.6 669.5 546.4 671.5 545.3 673.5 544.2 675.5 543.2 677.5 542.2 679.5 541.3 681.5 540.5 683.5 539.7 685.5 539 687.5 538.3 689.5 537.7 691.5 537.2 693.5 536.7 695.5 536.2 697.5 535.8 699.5 535.4 701.5 535.1 703.5 534.8 705.5 534.6 707.5 534.3 709.5 534.1 711.5 534 713.5 533.8 715.5 533.6 717.5 533.5 719.5 533.4 721.5 533.3 722.5 533.2"/><path d="M78.2 532.8 80.2 532.8 82.2 532.8 84.2 532.8 86.2 532.9 88.2 533.1 90.2 533.3 92.2 533.5 94.2 533.8 96.2 534.1 98.2 534.4 100.2 534.8 102.2 535.2 104.2 535.7 106.2 536.2 108.2 536.7 110.2 537.3 112.2 537.9 114.2 538.6 116.2 539.3 118.2 540 120.2 540.7 122.2 541.5 124.2 542.3 126.2 543.1 128.2 544 130.2 544.9 132.2 545.8 134.2 546.8 136.2 547.8 138.2 548.8 140.2 549.8 142.2 550.9 144.2 551.9 146.2 553 148.2 554.2 150.2 555.3 152.2 556.4 154.2 557.5 156.2 558.6 158.2 559.7 160.2 560.8 162.2 561.8 164.2 562.8 166.2 563.7 168.2 564.5 170.2 565.3 172.2 566 174.2 566.6 176.2 567.1 178.2 567.5 180.2 567.8 182.2 568 184.2 568 186.2 567.9 188.2 567.6 190.2 567.2 192.2 566.6 194.2 565.9 196.2 565 198.2 564.1 200.2 563.1 202.2 562 204.2 560.8 206.2 559.6 208.2 558.4 210.2 557.2 212.2 555.9 214.2 554.6 216.2 553.3 218.2 552 220.2 550.7 222.2 549.4 224.2 548.1 226.2 546.8 228.2 545.4 230.2 544.1 232.2 542.8 234.2 541.4 236.2 540 238.2 538.7 240.2 537.3 242.2 535.9 244.2 534.5 246.2 533.1 248.2 531.7 250.2 530.3 252.2 528.9 254.2 527.6 256.2 526.2 258.2 524.8 260.2 523.5 262.2 522.1 264.2 520.8 266.2 519.5 268.2 518.2 270.2 516.9 272.2 515.6 274.2 514.4 276.2 513.2 278.2 512 280.2 510.9 282.2 509.8 284.2 508.7 286.2 507.7 288.2 506.7 290.2 505.7 292.2 504.8 294.2 503.9 296.2 503.1 298.2 502.3 300.2 501.5 302.2 500.8 304.2 500.1 306.2 499.5 308.2 498.9 310.2 498.3 312.2 497.8 314.2 497.3 316.2 496.8 318.2 496.3 320.2 495.9 322.2 495.5 324.2 495.2 326.2 494.8 328.2 494.5 330.2 494.3 332.2 494 334.2 493.8 336.2 493.6 338.2 493.4 340.2 493.2 342.2 493.1 344.2 492.9 346.2 492.8 348.2 492.8 350.2 492.7 352.2 492.6 354.2 492.6 356.2 492.6 358.2 492.6 360.2 492.6 362.2 492.7 364.2 492.7 366.2 492.8 368.2 492.9 370.2 493 372.2 493.1 374.2 493.2 376.2 493.3 378.2 493.5 380.2 493.7 382.2 493.8 384.2 494 386.2 494.2 388.2 494.4 390.2 494.6 392.2 494.8 394.2 495 396.2 495.3 398.2 495.5 400.2 495.8 402.2 496 404.2 496.3 406.2 496.5 408.2 496.8 410.2 497.1 412.2 497.4 414.2 497.6 416.2 497.9 418.2 498.2 420.2 498.5 422.2 498.8 424.2 499 426.2 499.3 428.2 499.6 430.2 499.9 432.2 500.2 434.2 500.4 436.2 500.7 438.2 501 440.2 501.2 442.2 501.5 444.2 501.7 446.2 502 448.2 502.2 450.2 502.4 452.2 502.6 454.2 502.8 456.2 503 458.2 503.2 460.2 503.4 462.2 503.6 464.2 503.7 466.2 503.8 468.2 504 470.2 504.1 472.2 504.2 474.2 504.2 476.2 504.3 478.2 504.3 480.2 504.4 482.2 504.4 484.2 504.4 486.2 504.4 488.2 504.4 490.2 504.4 492.2 504.3 494.2 504.3 496.2 504.2 498.2 504.2 500.2 504.2 502.2 504.1 504.2 504.1 506.2 504 508.2 504 510.2 503.9 512.2 503.9 514.2 503.9 516.2 503.8 518.2 503.8 520.2 503.8 522.2 503.9 524.2 503.9 525.5 503.9 527.5 504.5 529.5 505.2 531.5 505.8 533.5 506.4 535.5 507.1 537.5 507.7 539.5 508.3 541.5 508.8 543.5 509.4 545.5 510 547.5 510.6 549.5 511.1 551.5 511.7 553.5 512.2 555.5 512.7 557.5 513.3 559.5 513.8 561.5 514.3 563.5 514.8 565.5 515.3 567.5 515.8 569.5 516.3 571.5 516.7 573.5 517.2 575.5 517.7 577.5 518.1 579.5 518.5 581.5 519 583.5 519.4 585.5 519.8 587.5 520.2 589.5 520.6 591.5 521 593.5 521.4 595.5 521.8 597.5 522.2 599.5 522.5 601.5 522.9 603.5 523.3 605.5 523.6 607.5 523.9 609.5 524.3 611.5 524.6 613.5 524.9 615.5 525.2 617.5 525.5 619.5 525.8 621.5 526.1 623.5 526.4 625.5 526.7 627.5 527 629.5 527.2 631.5 527.5 633.5 527.7 635.5 528 637.5 528.2 639.5 528.4 641.5 528.7 643.5 528.9 645.5 529.1 647.5 529.3 649.5 529.5 651.5 529.7 653.5 529.9 655.5 530.1 657.5 530.3 659.5 530.4 661.5 530.6 663.5 530.8 665.5 530.9 667.5 531.1 669.5 531.3 671.5 531.4 673.5 531.5 675.5 531.7 677.5 531.8 679.5 531.9 681.5 532.1 683.5 532.2 685.5 532.3 687.5 532.4 689.5 532.5 691.5 532.6 693.5 532.7 695.5 532.8 697.5 532.9 699.5 533 701.5 533.1 703.5 533.1 705.5 533.2 707.5 533.3 709.5 533.3 711.5 533.4 713.5 533.5 715.5 533.5 717.5 533.6 719.5 533.6 721.5 533.7"/><path d="M723.5 533.7 725.5 533.8 727.5 533.8 729.5 533.9 731.5 533.9 733.5 533.9 735.5 534 737.5 534 739.5 534 741.5 534 743.5 534 745.5 534.1 747.5 534.1 749.5 534.1 751.5 534.1 753.5 534.1 755.5 534.1 757.5 534.1 759.5 534.1 761.5 534.2 763.5 534.2 765.5 534.2 767.5 534.2 769.5 534.2 771.5 534.2 773.5 534.2 775.5 534.2 777.5 534.2 779.5 534.1 781.5 534.1 783.5 534.1 785.5 534.1 787.5 534.1 789.5 534.1 791.5 534.1 793.5 534.1 795.5 534.1 797.5 534.1 799.5 534.1 801.5 534.1 803.5 534.1 805.5 534 807.5 534 809.5 534 811.5 534 813.5 534 815.5 534 817.5 534 819.5 534 821.5 534 822.3 534" stroke-dashoffset="2.9"/><path d="M78.2 576.6 80.2 576.6 82.2 576.6 84.2 576.6 86.2 576.6 88.2 576.5 90.2 576.5 92.2 576.4 94.2 576.2 96.2 576.1 98.2 576 100.2 575.8 102.2 575.6 104.2 575.4 106.2 575.2 108.2 575 110.2 574.7 112.2 574.4 114.2 574.2 116.2 573.9 118.2 573.5 120.2 573.2 122.2 572.9 124.2 572.5 126.2 572.1 128.2 571.7 130.2 571.3 132.2 570.9 134.2 570.5 136.2 570.1 138.2 569.6 140.2 569.1 142.2 568.7 144.2 568.2 146.2 567.7 148.2 567.2 150.2 566.7 152.2 566.1 154.2 565.6 156.2 565 158.2 564.5 160.2 563.9 162.2 563.3 164.2 562.7 166.2 562.1 168.2 561.5 170.2 560.8 172.2 560.2 174.2 559.5 176.2 558.8 178.2 558.2 180.2 557.5 182.2 556.7 184.2 556 186.2 555.3 188.2 554.5 190.2 553.8 192.2 553 194.2 552.2 196.2 551.4 198.2 550.6 200.2 549.7 202.2 548.9 204.2 548 206.2 547.2 208.2 546.3 210.2 545.4 212.2 544.4 214.2 543.5 216.2 542.6 218.2 541.6 220.2 540.6 222.2 539.6 224.2 538.6 226.2 537.6 228.2 536.6 230.2 535.6 232.2 534.6 234.2 533.5 236.2 532.5 238.2 531.5 240.2 530.5 242.2 529.6 244.2 528.6 246.2 527.7 248.2 526.7 250.2 525.9 252.2 525 254.2 524.2 256.2 523.4 258.2 522.6 260.2 521.9 262.2 521.3 264.2 520.6 266.2 520 268.2 519.4 270.2 518.9 272.2 518.4 274.2 517.9 276.2 517.4 278.2 517 280.2 516.6 282.2 516.2 284.2 515.8 286.2 515.5 288.2 515.1 290.2 514.8 292.2 514.5 294.2 514.2 296.2 513.9 298.2 513.7 300.2 513.4 302.2 513.2 304.2 513 306.2 512.7 308.2 512.5 310.2 512.4 312.2 512.2 314.2 512 316.2 511.9 318.2 511.7 320.2 511.6 322.2 511.5 324.2 511.4 326.2 511.3 328.2 511.2 330.2 511.1 332.2 511 334.2 511 336.2 510.9 338.2 510.9 340.2 510.8 342.2 510.8 344.2 510.8 346.2 510.8 348.2 510.8 350.2 510.8 352.2 510.8 354.2 510.9 356.2 510.9 358.2 511 360.2 511 362.2 511.1 364.2 511.1 366.2 511.2 368.2 511.3 370.2 511.4 372.2 511.5 374.2 511.6 376.2 511.7 378.2 511.8 380.2 511.9 382.2 512 384.2 512.2 386.2 512.3 388.2 512.5 390.2 512.6 392.2 512.7 394.2 512.9 396.2 513.1 398.2 513.2 400.2 513.4 402.2 513.5 404.2 513.7 406.2 513.9 408.2 514.1 410.2 514.2 412.2 514.4 414.2 514.6 416.2 514.8 418.2 515 420.2 515.1 422.2 515.3 424.2 515.5 426.2 515.7 428.2 515.9 430.2 516.1 432.2 516.3 434.2 516.5 436.2 516.6 438.2 516.8 440.2 517 442.2 517.2 444.2 517.4 446.2 517.6 448.2 517.7 450.2 517.9 452.2 518.1 454.2 518.3 456.2 518.4 458.2 518.6 460.2 518.7 462.2 518.9 464.2 519 466.2 519.2 468.2 519.3 470.2 519.4 472.2 519.6 474.2 519.7 476.2 519.8 478.2 519.9 480.2 519.9 482.2 520 484.2 520.1 486.2 520.1 488.2 520.2 490.2 520.2 492.2 520.2 494.2 520.2 496.2 520.2 498.2 520.2 500.2 520.1 502.2 520.1 504.2 520 506.2 519.9 508.2 519.8 510.2 519.7 512.2 519.6 514.2 519.4 516.2 519.2 518.2 519 520.2 518.8 522.2 518.6 524.2 518.3 526.2 518.1 528.2 517.8 530.2 517.5 532.2 517.1 534.2 516.8 536.2 516.5 538.2 516.2 540.2 515.8 542.2 515.5 544.2 515.2 546.2 515 548.2 514.7 550.2 514.5 552.2 514.3 554.2 514.2 556.2 514.1 558.2 514.1 560.2 514.1 562.2 514.1 564.2 514.2 566.2 514.4 568.2 514.6 570.2 514.8 572.2 515.1 574.2 515.4 576.2 515.7 578.2 516 580.2 516.4 582.2 516.8 584.2 517.1 586.2 517.5 588.2 517.9 590.2 518.3 592.2 518.6 594.2 519 596.2 519.3 598.2 519.6 600.2 519.9 602.2 520.1 604.2 520.3 606.2 520.4 608.2 520.5 610.2 520.6 612.2 520.5 614.2 520.4 616.2 520.3 618.2 520 620.2 519.7 622.2 519.3 624.2 518.7 626.2 518.1 628.2 517.4 630.2 516.5 632.2 515.6 634.2 514.6 636.2 513.5 638.2 512.3 640.2 511.1 642.2 509.7 644.2 508.4 646.2 507 648.2 505.5 650.2 504 652.2 502.5 654.2 501 656.2 499.4 658.2 497.8 660.2 496.3 662.2 494.7 664.2 493.1 666.2 491.5 668.2 489.9 670.2 488.3 672.2 486.8 674.2 485.3 676.2 483.7 678.2 482.2 680.2 480.8 682.2 479.3 684.2 477.9 686.2 476.6 688.2 475.3 690.2 474 692.2 472.8 694.2 471.7 696.2 470.6 698.2 469.5 700.2 468.6 702.2 467.7 704.2 466.8 706.2 466.1 708.2 465.4 710.2 464.8 712.2 464.4 714.2 464 716.2 463.7 718.2 463.5 720.2 463.4 722.2 463.4 722.5 463.4"/><path d="M78.2 632.8 80.2 633.1 82.2 633.3 84.2 633.4 86.2 633.4 88.2 633.3 90.2 633.2 92.2 633 94.2 632.8 96.2 632.5 98.2 632.1 100.2 631.7 102.2 631.2 104.2 630.7 106.2 630.1 108.2 629.5 110.2 628.8 112.2 628.1 114.2 627.4 116.2 626.6 118.2 625.8 120.2 625 122.2 624.1 124.2 623.3 126.2 622.4 128.2 621.5 130.2 620.6 132.2 619.7 134.2 618.8 136.2 617.9 138.2 617 140.2 616.1 142.2 615.2 144.2 614.3 146.2 613.4 148.2 612.5 150.2 611.7 152.2 610.9 154.2 610.1 156.2 609.4 158.2 608.6 160.2 608 162.2 607.3 164.2 606.7 166.2 606.1 168.2 605.6 170.2 605.2 172.2 604.8 174.2 604.4 176.2 604.1 178.2 603.9 180.2 603.7 182.2 603.6 184.2 603.6 186.2 603.7 188.2 603.8 190.2 604 192.2 604.3 194.2 604.6 196.2 605 198.2 605.4 200.2 605.9 202.2 606.5 204.2 607.1 206.2 607.7 208.2 608.4 210.2 609.1 212.2 609.9 214.2 610.7 216.2 611.5 218.2 612.3 220.2 613.1 222.2 614 224.2 614.9 226.2 615.7 228.2 616.6 230.2 617.5 232.2 618.3 234.2 619.2 236.2 620.1 238.2 620.9 240.2 621.7 242.2 622.5 244.2 623.4 246.2 624.1 248.2 624.9 250.2 625.7 252.2 626.5 254.2 627.2 256.2 627.9 258.2 628.6 260.2 629.3 262.2 630 264.2 630.6 266.2 631.3 268.2 631.9 270.2 632.5 272.2 633.1 274.2 633.7 276.2 634.2 278.2 634.7 280.2 635.2 282.2 635.7 284.2 636.1 286.2 636.6 288.2 637 290.2 637.4 292.2 637.7 294.2 638.1 296.2 638.4 298.2 638.7 300.2 639 302.2 639.2 304.2 639.4 306.2 639.7 308.2 639.8 310.2 640 312.2 640.2 314.2 640.3 316.2 640.4 318.2 640.5 320.2 640.6 322.2 640.6 324.2 640.7 326.2 640.7 328.2 640.7 330.2 640.7 332.2 640.6 334.2 640.6 336.2 640.5 338.2 640.4 340.2 640.4 342.2 640.2 344.2 640.1 346.2 640 348.2 639.8 350.2 639.6 352.2 639.5 354.2 639.3 356.2 639 358.2 638.8 360.2 638.6 362.2 638.3 364.2 638.1 366.2 637.8 368.2 637.5 370.2 637.2 372.2 636.9 374.2 636.6 376.2 636.2 378.2 635.9 380.2 635.5 382.2 635.2 384.2 634.8 386.2 634.4 388.2 634 390.2 633.6 392.2 633.2 394.2 632.8 396.2 632.4 398.2 632 400.2 631.5 402.2 631.1 404.2 630.7 406.2 630.2 408.2 629.8 410.2 629.3 412.2 628.9 414.2 628.5 416.2 628.1 418.2 627.7 420.2 627.3 422.2 626.9 424.2 626.6 426.2 626.2 428.2 625.9 430.2 625.6 432.2 625.4 434.2 625.1 436.2 624.9 438.2 624.7 440.2 624.5 442.2 624.3 444.2 624.2 446.2 624.1 448.2 624 450.2 623.9 452.2 623.9 454.2 623.8 456.2 623.8 458.2 623.9 460.2 623.9 462.2 623.9 464.2 624 466.2 624.1 468.2 624.2 470.2 624.3 472.2 624.4 474.2 624.5 476.2 624.7 478.2 624.8 480.2 625 482.2 625.1 484.2 625.3 486.2 625.5 488.2 625.7 490.2 625.8 492.2 626 494.2 626.2 496.2 626.4 498.2 626.5 500.2 626.7 502.2 626.9 504.2 627 506.2 627.2 508.2 627.3 510.2 627.5 512.2 627.6 514.2 627.7 516.2 627.8 518.2 627.9 520.2 628 522.2 628 524.2 628 526.2 628.1 528.2 628.1 530.2 628 532.2 628 534.2 627.9 536.2 627.8 538.2 627.7 540.2 627.5 542.2 627.4 544.2 627.2 546.2 626.9 548.2 626.7 550.2 626.4 552.2 626.1 554.2 625.7 556.2 625.3 558.2 624.9 560.2 624.5 562.2 624 564.2 623.5 566.2 623 568.2 622.4 570.2 621.8 572.2 621.2 574.2 620.5 576.2 619.8 578.2 619.1 580.2 618.3 582.2 617.5 584.2 616.7 586.2 615.8 588.2 614.9 590.2 614 592.2 613 594.2 612 596.2 611.1 598.2 610.1 600.2 609.2 602.2 608.3 604.2 607.5 606.2 606.7 608.2 606.1 610.2 605.5 612.2 605 614.2 604.6 616.2 604.4 618.2 604.3 620.2 604.4 622.2 604.5 624.2 604.9 626.2 605.3 628.2 605.8 630.2 606.4 632.2 607.1 634.2 607.8 636.2 608.6 638.2 609.4 640.2 610.2 642.2 611 644.2 611.9 646.2 612.7 648.2 613.5 650.2 614.3 652.2 615.1 654.2 615.9 656.2 616.7 658.2 617.5 660.2 618.3 662.2 619.1 664.2 619.9 666.2 620.6 668.2 621.4 670.2 622.1 672.2 622.8 674.2 623.5 676.2 624.2 678.2 624.9 680.2 625.6 682.2 626.2 684.2 626.8 686.2 627.4 688.2 628 690.2 628.5 692.2 629.1 694.2 629.6 696.2 630 698.2 630.5 700.2 630.9 702.2 631.3 704.2 631.7 706.2 632 708.2 632.3 710.2 632.6 712.2 632.8 714.2 633 716.2 633.2 718.2 633.3 720.2 633.4 722.2 633.4"/><path d="M724.2 633.4 726.2 633.4 728.2 633.3 730.2 633.2 732.2 633 734.2 632.8 736.2 632.6 738.2 632.3 740.2 631.9 742.2 631.6 744.2 631.1 746.2 630.7 748.2 630.2 750.2 629.6 752.2 629 754.2 628.4 756.2 627.8 758.2 627.2 760.2 626.5 762.2 625.8 764.2 625 766.2 624.3 768.2 623.5 770.2 622.7 772.2 621.9 774.2 621.1 776.2 620.3 778.2 619.5 780.2 618.6 782.2 617.8 784.2 616.9 786.2 616.1 788.2 615.3 790.2 614.4 792.2 613.6 794.2 612.7 796.2 611.9 798.2 611.1 800.2 610.3 802.2 609.6 804.2 608.9 806.2 608.2 808.2 607.6 810.2 607 812.2 606.5 814.2 606.1 816.2 605.7 818.2 605.5 820.2 605.3 822.2 605.2 822.3 605.2" stroke-dashoffset="2.9"/><path d="M78.2 148.3 80.2 148.3 82.2 148.5 84.2 149 86.2 149.8 88.2 150.8 90.2 152 92.2 153.5 94.2 155.1 96.2 157 98.2 159 100.2 161.2 102.2 163.5 104.2 166 106.2 168.6 108.2 171.3 110.2 174.1 112.2 176.9 114.2 179.8 116.2 182.6 118.2 185.4 120.2 188.1 122.2 190.8 124.2 193.3 126.2 195.9 128.2 198.3 130.2 200.7 132.2 203.1 134.2 205.5 136.2 207.9 138.2 210.2 140.2 212.5 142.2 214.9 144.2 217.2 146.2 219.5 148.2 221.8 150.2 224 152.2 226.3 154.2 228.5 156.2 230.7 158.2 232.9 160.2 235 162.2 237.1 164.2 239.2 166.2 241.3 168.2 243.3 170.2 245.4 172.2 247.4 174.2 249.4 176.2 251.3 178.2 253.3 180.2 255.2 182.2 257.1 184.2 259 186.2 260.8 188.2 262.7 190.2 264.5 192.2 266.3 194.2 268.1 196.2 269.9 198.2 271.6 200.2 273.4 202.2 275.1 204.2 276.8 206.2 278.5 208.2 280.1 210.2 281.8 212.2 283.4 214.2 285.1 216.2 286.7 218.2 288.3 220.2 289.8 222.2 291.4 224.2 293 226.2 294.5 228.2 296 230.2 297.5 232.2 299 234.2 300.5 236.2 302 238.2 303.4 240.2 304.9 242.2 306.3 244.2 307.8 246.2 309.2 248.2 310.6 250.2 312 252.2 313.4 254.2 314.8 256.2 316.1 258.2 317.5 260.2 318.8 262.2 320.1 264.2 321.4 266.2 322.7 268.2 324 270.2 325.3 272.2 326.5 274.2 327.7 276.2 328.9 278.2 330.1 280.2 331.2 282.2 332.4 284.2 333.5 286.2 334.6 288.2 335.7 290.2 336.7 292.2 337.8 294.2 338.8 296.2 339.7 298.2 340.7 300.2 341.6 302.2 342.5 304.2 343.4 306.2 344.2 308.2 345 310.2 345.8 312.2 346.5 314.2 347.2 316.2 347.9 318.2 348.5 320.2 349.1 322.2 349.7 324.2 350.2 326.2 350.6 328.2 351 330.2 351.4 332.2 351.7 334.2 352 336.2 352.3 338.2 352.4 340.2 352.6 342.2 352.6 344.2 352.7 346.2 352.6 348.2 352.5 350.2 352.4 352.2 352.2 354.2 351.9 356.2 351.6 358.2 351.2 360.2 350.8 362.2 350.3 364.2 349.7 366.2 349.1 368.2 348.4 370.2 347.7 372.2 346.9 374.2 346.1 376.2 345.2 378.2 344.3 380.2 343.4 382.2 342.4 384.2 341.3 386.2 340.3 388.2 339.2 390.2 338.1 392.2 336.9 394.2 335.7 396.2 334.5 398.2 333.3 400.2 332.1 402.2 330.8 404.2 329.5 406.2 328.2 408.2 326.9 410.2 325.6 412.2 324.2 414.2 322.9 416.2 321.6 418.2 320.2 420.2 318.9 422.2 317.6 424.2 316.2 426.2 314.9 428.2 313.6 430.2 312.4 432.2 311.1 434.2 309.9 436.2 308.7 438.2 307.6 440.2 306.5 442.2 305.4 444.2 304.4 446.2 303.4 448.2 302.4 450.2 301.6 452.2 300.7 454.2 299.9 456.2 299 458.2 298.1 460.2 297.2 462.2 296.2 464.2 295.1 466.2 294 468.2 292.8 470.2 291.5 472.2 290.3 474.2 289.1 476.2 287.9 478.2 286.7 480.2 285.6 482.2 284.5 484.2 283.5 486.2 282.5 488.2 281.6 490.2 280.7 492.2 279.8 494.2 279 496.2 278.3 498.2 277.5 500.2 276.9 502.2 276.3 504.2 275.7 506.2 275.2 508.2 274.7 510.2 274.3 512.2 273.9 514.2 273.6 516.2 273.3 518.2 273.1 520.2 272.9 522.2 272.8 524.2 272.7 525.5 272.7 527.5 273.5 529.5 274.3 531.5 275.1 533.5 275.8 535.5 276.6 537.5 277.3 539.5 278.1 541.5 278.8 543.5 279.5 545.5 280.2 547.5 280.8 549.5 281.5 551.5 282.1 553.5 282.7 555.5 283.2 557.5 283.7 559.5 284.2 561.5 284.7 563.5 285.1 565.5 285.5 567.5 285.8 569.5 286.1 571.5 286.4 573.5 286.6 575.5 286.7 577.5 286.8 579.5 286.9 581.5 286.9 583.5 286.8 585.5 286.7 587.5 286.5 589.5 286.3 591.5 286 593.5 285.7 595.5 285.2 597.5 284.7 599.5 284.2 601.5 283.5 603.5 282.8 605.5 282 607.5 281.2 609.5 280.2 611.5 279.2 613.5 278.2 615.5 277.1 617.5 275.9 619.5 274.7 621.5 273.4 623.5 272 625.5 270.6 627.5 269.2 629.5 267.6 631.5 266.1 633.5 264.5 635.5 262.8 637.5 261.1 639.5 259.4 641.5 257.6 643.5 255.8 645.5 253.9 647.5 252 649.5 250.1 651.5 248.1 653.5 246.1 655.5 244.1 657.5 242.1 659.5 240 661.5 237.9 663.5 235.8 665.5 233.6 667.5 231.4 669.5 229.1 671.5 226.7 673.5 224.2 675.5 221.5 677.5 218.7 679.5 215.7 681.5 212.4 683.5 209 685.5 205.2 687.5 201.2 689.5 197 691.5 192.5 693.5 188 695.5 183.4 697.5 178.9 699.5 174.6 701.5 170.4 703.5 166.5 705.5 162.8 707.5 159.5 709.5 156.4 711.5 153.8 713.5 151.6 715.5 149.9 717.5 148.7 719.5 148.1 721.5 148.1 722.5 148.3"/><path d="M78.2 148.3 80.2 148.1 82.2 148.3 84.2 148.7 86.2 149.5 88.2 150.5 90.2 151.7 92.2 153.2 94.2 155 96.2 156.9 98.2 159 100.2 161.2 102.2 163.6 104.2 166.1 106.2 168.7 108.2 171.4 110.2 174.2 112.2 177 114.2 179.8 116.2 182.7 118.2 185.5 120.2 188.3 122.2 191 124.2 193.7 126.2 196.3 128.2 198.8 130.2 201.1 132.2 203.3 134.2 205.3 136.2 207.2 137.3 208.1 139.3 209.7 141.3 211.3 143.3 212.9 145.3 214.3 147.3 215.7 149.3 217.1 151.3 218.4 153.3 219.7 155.3 220.9 157.3 222 159.3 223.2 161.3 224.2 163.3 225.3 165.3 226.2 167.3 227.2 169.3 228.1 171.3 229 173.3 229.8 175.3 230.6 177.3 231.3 179.3 232.1 181.3 232.8 183.3 233.5 185.3 234.1 187.3 234.7 189.3 235.3 191.3 235.9 193.3 236.4 195.3 237 197.3 237.5 199.3 238 201.3 238.5 203.3 238.9 205.3 239.4 207.3 239.8 209.3 240.2 211.3 240.7 213.3 241.1 215.3 241.5 217.3 241.9 219.3 242.3 221.3 242.7 223.3 243.1 225.3 243.5 227.3 243.9 229.3 244.4 231.3 244.8 233.3 245.2 235.3 245.7 237.3 246.1 239.3 246.6 241.3 247.1 243.3 247.5 245.3 248.1 247.3 248.6 249.3 249.1 251.3 249.7 253.3 250.3 255.3 250.9 257.3 251.5 259.3 252.1 261.3 252.7 263.3 253.3 265.3 254 267.3 254.6 269.3 255.2 271.3 255.9 273.3 256.5 275.3 257.2 277.3 257.8 279.3 258.5 281.3 259.1 283.3 259.8 285.3 260.4 287.3 261 289.3 261.6 291.3 262.3 293.3 262.8 295.3 263.4 297.3 264 299.3 264.6 301.3 265.1 303.3 265.6 305.3 266.1 307.3 266.6 309.3 267 311.3 267.5 313.3 267.9 315.3 268.3 317.3 268.6 319.3 269 321.3 269.3 323.3 269.5 325.3 269.8 327.3 270 329.3 270.2 331.3 270.3 333.3 270.4 335.3 270.5 337.3 270.6 339.3 270.6 341.3 270.6 343.3 270.6 345.3 270.5 347.3 270.4 349.3 270.3 351.3 270.1 353.3 270 355.3 269.8 357.3 269.5 359.3 269.3 361.3 269 363.3 268.7 365.3 268.4 367.3 268 369.3 267.6 371.3 267.2 373.3 266.8 375.3 266.3 377.3 265.8 379.3 265.3 381.3 264.8 383.3 264.3 385.3 263.7 387.3 263.1 389.3 262.4 391.3 261.8 393.3 261.1 395.3 260.4 397.3 259.7 399.3 258.9 401.3 258.1 403.3 257.3 405.3 256.5 407.3 255.6 409.3 254.7 411.3 253.8 413.3 252.9 415.3 251.9 417.3 251 419.3 249.9 421.3 248.9 423.3 247.8 425.3 246.7 427.3 245.6 429.3 244.5 431.3 243.3 433.3 242.1 435.3 240.9 437.3 239.6 439.3 238.4 441.3 237.1 443.3 235.7 445.3 234.4 447.3 233 449.3 231.6 451.3 230.1 453.3 228.7 455.3 227.2 457.3 225.7 459.3 224.1 461.3 222.5 463.3 220.9 465.3 219.3 467.3 217.7 469.3 216 471.3 214.3 473.3 212.6 475.3 210.9 477.3 209.2 479.3 207.4 481.3 205.7 483.3 204 485.3 202.3 487.3 200.6 489.3 198.9 491.3 197.2 493.3 195.5 495.3 193.9 497.3 192.2 499.3 190.6 501.3 189.1 503.3 187.6 505.3 186.1 507.3 184.7 509.3 183.3 511.3 182.1 513.3 180.9 515.3 179.9 517.3 178.9 519.3 178.1 521.3 177.5 523.3 177 525.3 176.6 525.5 176.6 527.5 177.6 529.5 178.7 531.5 179.8 533.5 181 535.5 182.2 537.5 183.4 539.5 184.7 541.5 186 543.5 187.4 545.5 188.8 547.5 190.2 549.5 191.6 551.5 193.1 553.5 194.5 555.5 196 557.5 197.5 559.5 199.1 561.5 200.6 563.5 202.1 565.5 203.7 567.5 205.3 569.5 206.8 571.5 208.4 573.5 209.9 575.5 211.5 577.5 213 579.5 214.6 581.5 216.1 583.5 217.6 585.5 219.1 587.5 220.6 589.5 222.1 591.5 223.6 593.5 225.1 595.5 226.6 597.5 228 599.5 229.5 601.5 230.9 603.5 232.4 605.5 233.8 607.5 235.2 609.5 236.6 611.5 238 613.5 239.4 615.5 240.8 617.5 242.1 619.5 243.5 621.5 244.9 623.5 246.2 625.5 247.5 627.5 248.8 629.5 250.1 631.5 251.4 633.5 252.7 635.5 254 637.5 255.3 639.5 256.5 641.5 257.8 643.5 259 645.5 260.2 647.5 261.4 649.5 262.6 651.5 263.8 653.5 265 655.5 266.1 657.5 267.3 659.5 268.4 661.5 269.5 663.5 270.7 665.5 271.8 667.5 272.8 669.5 273.9 671.5 275 673.5 276 675.5 277.1 677.5 278.1 679.5 279.1 681.5 280.1 683.5 281.1 685.5 282 687.5 282.9 689.5 283.8 691.5 284.7 693.5 285.5 695.5 286.3 697.5 287.1 699.5 287.8 701.5 288.5 703.5 289.1 705.5 289.7 707.5 290.3 709.5 290.8 711.5 291.3 713.5 291.7 715.5 292 717.5 292.3 719.5 292.6 721.5 292.7 722.5 292.8"/><path d="M722.5 292.8 822.3 292.8" stroke-dashoffset="2.9"/><path d="M802.5 314.6 L823.5 313.3" stroke-dasharray="none" stroke-width="3.8"/></g>
</g>
<g stroke="#000" stroke-width="1.6" fill="none">
<path d="M78.2 109.3 h17.5"/>
<path d="M822.3 109.3 h-17.5"/>
<path d="M78.2 230.2 h17.5"/>
<path d="M822.3 230.2 h-17.5"/>
<path d="M78.2 351.0 h17.5"/>
<path d="M822.3 351.0 h-17.5"/>
<path d="M78.2 471.9 h17.5"/>
<path d="M822.3 471.9 h-17.5"/>
<path d="M78.2 592.7 h17.5"/>
<path d="M822.3 592.7 h-17.5"/>
<path d="M337.0 49.1 v17.3"/>
<path d="M337.0 652.8 v-17.3"/>
<path d="M356.5 49.1 v17.3"/>
<path d="M356.5 652.8 v-17.3"/>
<path d="M525.5 49.1 v17.3"/>
<path d="M525.5 652.8 v-17.3"/>
<path d="M722.4 49.1 v17.3"/>
<path d="M722.4 652.8 v-17.3"/>
<rect x="78.2" y="49.1" width="744.1" height="603.7"/>
</g>
<path d="M206.3 20 H280.2" stroke="#ff0000" stroke-width="1.4"/>
<path d="M451.9 17.3 H527" stroke="#0000ff" stroke-width="3.2" stroke-dasharray="3.2 5.66"/>
<text x="288" y="31.8" font-size="36" textLength="75.4" lengthAdjust="spacingAndGlyphs">DFT</text>
<text x="538.7" y="29.7" font-size="36" textLength="155.2" lengthAdjust="spacingAndGlyphs">TB model</text>
<text transform="translate(49.14 116.90) scale(0.960 1)" font-size="36">4</text>
<text transform="translate(49.30 242.10) scale(1.036 1)" font-size="36">2</text>
<text transform="translate(48.68 362.90) scale(1.035 1)" font-size="36">0</text>
<text transform="translate(49.41 482.90) scale(1.030 1)" font-size="36">2</text>
<text transform="translate(49.25 603.40) scale(0.954 1)" font-size="36">4</text>
<path d="M32 473.6 H50 M31 594 H49" stroke="#000" stroke-width="1.25"/>
<text transform="translate(67.09 687.70) scale(0.954 1)" font-size="41.5">Γ</text>
<text transform="translate(309.02 687.70) scale(1.004 1)" font-size="41.5">X</text>
<text transform="translate(350.52 687.70) scale(1.047 1)" font-size="41.5">Y</text>
<text transform="translate(511.98 687.70) scale(1.188 1)" font-size="41.5">Σ</text>
<text transform="translate(711.55 687.70) scale(0.991 1)" font-size="41.5">Γ</text>
<text transform="translate(805.76 687.70) scale(1.148 1)" font-size="41.5">Z</text>
<g transform="translate(29 412.6) rotate(-90)">
<text transform="translate(-1.14 0.00) scale(1.113 1)" font-size="36.5">E</text>
<text transform="translate(38.34 0.00) scale(1.036 1)" font-size="36.5">E</text>
<text transform="translate(59.42 5.50) scale(1.317 1)" font-size="26.5">F</text>
<text transform="translate(90.53 0.00) scale(1.189 1)" font-size="36.5">(</text>
<text transform="translate(103.27 0.00) scale(1.004 1)" font-size="36.5">e</text>
<text transform="translate(118.44 0.00) scale(0.896 1)" font-size="36.5">V</text>
<text transform="translate(141.37 0.00) scale(1.306 1)" font-size="36.5">)</text>
<path d="M23.4 -8.6 H38.2" stroke="#000" stroke-width="1.25"/>
</g>
</svg></body></html>
